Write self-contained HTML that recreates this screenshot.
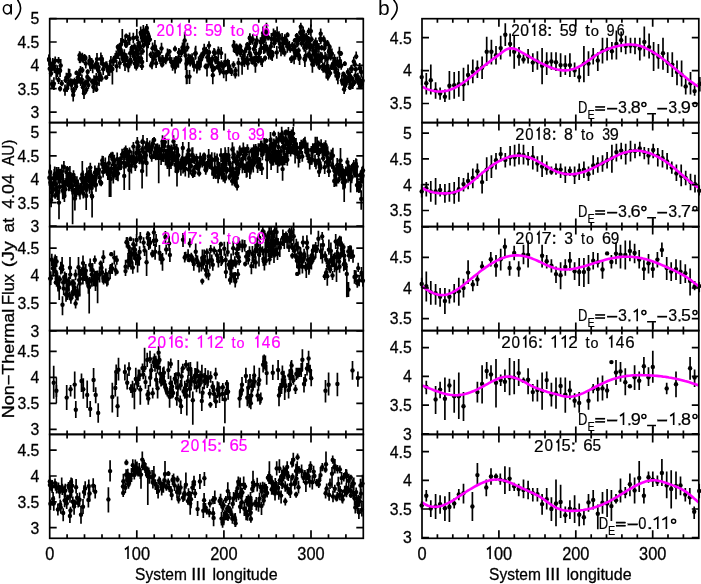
<!DOCTYPE html><html><head><meta charset="utf-8"><style>html,body{margin:0;padding:0;background:#fff;overflow:hidden}svg{display:block;will-change:transform}svg text{font-family:"Liberation Sans",sans-serif}</style></head><body><svg width="701" height="584" viewBox="0 0 701 584">
<rect width="701" height="584" fill="#fff"/>
<defs>
<clipPath id="ca0"><rect x="46.7" y="18.7" width="319.6" height="103.9"/></clipPath>
<clipPath id="cb0"><rect x="419.0" y="18.7" width="282.8" height="103.9"/></clipPath>
<clipPath id="ca1"><rect x="46.7" y="122.6" width="319.6" height="104.0"/></clipPath>
<clipPath id="cb1"><rect x="419.0" y="122.6" width="282.8" height="104.0"/></clipPath>
<clipPath id="ca2"><rect x="46.7" y="226.6" width="319.6" height="104.0"/></clipPath>
<clipPath id="cb2"><rect x="419.0" y="226.6" width="282.8" height="104.0"/></clipPath>
<clipPath id="ca3"><rect x="46.7" y="330.6" width="319.6" height="103.8"/></clipPath>
<clipPath id="cb3"><rect x="419.0" y="330.6" width="282.8" height="103.8"/></clipPath>
<clipPath id="ca4"><rect x="46.7" y="434.4" width="319.6" height="103.9"/></clipPath>
<clipPath id="cb4"><rect x="419.0" y="434.4" width="282.8" height="103.9"/></clipPath>
</defs>
<g clip-path="url(#ca0)"><path d="M49.1 54.2V65.8M49.7 65.5V72.1M50.4 60.7V66.7M51 70.4V76.8M51.6 62.1V74.8M52 79.7V88M52.8 58V68.7M53.2 65.5V70.7M53.9 77.2V90M48.9 55.1V62.4M53.1 84.1V87.5M54.4 61V73.1M56.2 68V79.8M57.4 65.3V76.9M55.2 56.6V63.8M59.1 68.1V74.6M60.1 64.4V77.1M60.7 59V71.9M58.6 57V63.8M58.6 76.8V84M60.1 86V91.6M65 84.5V95.8M61.8 80V86.2M65.7 77.5V83M66.4 72.7V82.5M67.1 84.9V92.1M68.3 79.2V88.6M68.6 68.5V81.3M69.6 69V78.5M70.8 78.4V83.4M71.3 79.1V90.5M72 78.8V87.1M73.3 87.1V95.4M73.7 87.2V92.5M74.5 77.7V84.1M75.6 79.7V86.7M76.1 82.6V90.2M76.6 78.8V85.4M77.8 74.3V80.4M78.8 76V83.4M76.5 70.5V74.9M73.2 89.7V101.4M79.1 69.4V79M79.6 54.9V62.9M80.1 52.3V63.3M80.5 66V74.6M80.7 77.2V86.1M81.2 53.7V61.5M81.9 74.6V84.6M82.3 52.7V62.6M82.4 66.9V73.3M82.9 81.8V92.6M83.5 55.5V62.9M83.9 54.7V61.2M84.1 81V87.8M84.6 54.1V60M85.1 79.6V87.4M85.5 55.1V60.9M85.8 58.8V68.4M86.3 86.2V93.5M79.6 51.2V58.3M84 88.5V99M86.9 79.4V85.6M87.3 71.3V82.6M87.7 69.2V74.4M88.4 81.2V89M88.9 76.4V81.5M89.3 55.1V64.8M89.9 58.6V68.1M90 56.6V69.2M90.5 58.5V71.1M91.1 63.2V68.9M91.7 58V64.8M92.1 78.4V84.7M92.7 60.3V73.3M93.4 80.7V92.9M93.7 81.9V92.1M94 75.3V87.1M94.8 76V85.4M95 62.5V69.4M95.9 60.8V68.8M96.3 72.9V82.4M96.8 77.4V89.7M97 52.9V65.2M97.9 64.9V73.1M98.3 67.6V73.5M98.6 62.3V71.9M99.1 73.2V85.9M99.7 69.9V80M100.5 72.1V81.2M100.9 52.6V65.2M101.5 75.2V81.8M101.9 54.9V63.1M96.3 87.3V92.1M103 59.2V68.7M103.2 63.6V74.9M105.2 62.3V68.3M106.1 61.3V68.6M106.7 61.2V71.6M108 65.3V76.1M109.6 62.9V75.9M106.2 75.4V79.8M110.7 60.4V72.8M110.9 56.1V66.7M112.4 65.4V84.4M113 57.2V65.3M113.7 55.7V65.9M115.3 52.9V62.8M116.3 50.5V59M116.7 60V72.3M117.8 44.2V49.5M118.1 50.5V59.1M118.7 46V52.1M119.4 43.2V53.8M119.8 57.4V68.8M120.1 48.1V53.2M121 38.1V50.9M121.2 47.8V56.7M122 48.6V60.7M122.3 28.9V44.1M122.7 52.5V63M123.5 56.8V62.8M123.7 53.9V58.9M124.3 49.3V59.5M125 58.1V70.9M125.2 37.4V45.9M126 42.1V47.9M126.6 53.3V62.3M126.8 40.3V47.4M127.7 62.5V67.9M128.2 59.2V70.5M128.4 60.7V72.2M128.9 35.1V43.2M129.6 32.5V45.1M130.2 48.8V57.7M130.4 54.5V65.5M130.9 57.8V65.7M131.8 44.8V51.5M132 45V50.6M132.5 47.2V56.7M126.2 33.5V38.1M133.3 32.7V43.2M133.6 46.7V59.2M133.9 51.7V60.8M134.5 43.2V49.8M134.8 58.3V68.4M135.3 56.3V62.8M136 46.8V58.2M136.3 59.1V69.8M136.8 28.9V41M137.1 44.7V56.1M137.9 49.9V58.3M136.3 64V70.5M138.2 52.8V62.5M138.5 39.3V46.8M138.9 56.1V66.8M139.4 41.3V50.2M139.6 41.8V51.5M140.1 41.3V54.3M140.7 26.4V39M141 52.7V64.1M141.2 29.6V39.7M141.8 31V36.1M142.2 58.3V65.4M142.6 34.6V46.3M142.7 47.9V54.7M143.3 25V36M143.5 42.7V48.3M144 31.6V39.3M141.9 63.4V70M144.7 36.6V42.7M145.2 32.2V44.6M145.7 26.5V34.2M146.7 35.4V47M146.9 41.5V62M147.4 28.3V36.6M148.1 38V48.2M148.7 33.7V38.9M149.2 32.9V45.1M149.9 37V42.1M146.8 24V31.2M150.7 51.4V57.9M152 57.1V69.3M152.6 42.6V53.8M153.6 51.8V62M154.9 52.2V60.7M155.2 45.5V51.8M156.1 58.6V68.1M156.9 49V57.3M158.6 50V59.4M159 50.4V56.1M154.9 40V51.6M151.2 63.8V67.4M160.1 56.2V64M162.1 55V65.5M162.8 55.1V62.8M163.5 56.7V65.4M165.8 54.7V64.3M166.4 55.4V62.4M167.5 48.6V60.1M169.5 49V54.2M170 54.6V63.1M171.7 57.2V67.6M161.5 42.7V53.2M162.1 62.8V67.4M172.6 60.6V70.8M173.1 60V67.6M174.2 57.3V68.6M175.6 61.5V66.5M175.9 55.9V62.8M177.4 56.2V67.3M178.4 54.9V67.7M178.9 47.9V57.1M180.2 56.1V63.6M180.4 49.5V55.5M175 45.8V51.6M175.1 62.7V73.6M181.5 48.8V57.2M182.5 42.4V52.5M183.6 40.9V53.7M184.9 46.9V54.6M185.6 50.8V70M184.7 32V47M186.5 57.9V84.3M187.4 57.4V62.6M187.9 57.4V64.4M188.5 53.4V64.5M190.1 56.9V65.5M190.2 54.3V66.5M191.4 55.5V61.3M192.1 53.2V64.6M193 58.1V67.8M187.4 42.7V51.6M194 59.5V71.4M195.2 47.6V59.8M195.7 45.8V59.3M196.9 63V73.6M197.1 60.8V71.5M198.6 56.4V69.2M199.2 58.1V70.5M199.8 61.9V70.2M201.1 54.6V64.7M201.1 52.6V59.8M202 52.2V59.3M203.4 47.9V58.5M204.2 43.7V54.4M204.3 48.9V56.3M205.6 63.6V69.3M206.2 46.7V54.5M207 63.6V76.6M207.4 52.1V62.5M208.4 53.8V66.3M209.1 49.4V54.9M209.3 53.8V64.3M210.5 58.4V68.6M211 57.9V66.1M211.8 59.7V71.6M209 41.2V49.2M212.3 55.3V61.9M212.9 66.4V73.6M214 47.9V56.3M214.5 65.8V70.9M214.7 48.8V58.3M215.4 56.9V64.2M216.1 55.9V64.3M217 56.7V62.2M217.5 64.5V69.5M218.3 46.5V58.4M218.8 60.7V66.4M219.7 63V75.3M220.5 68.8V73.8M221.2 47.1V59M218.7 47.4V53.7M212.8 67.9V84.3M221.4 60.2V67.3M222.9 62.3V70.4M223.7 66.6V78.3M225 61.8V67.2M225.3 53.5V67.1M226.2 70V81.3M227.8 58.8V69M228.8 68V73.6M229.1 60V72.3M230.7 67.4V74M231.6 67.7V76.1M233.5 61.3V68.3M235.6 67V74M235.3 71.4V78.5M236.5 43.6V55.3M237.1 49V56.2M237.4 44.6V56.1M238.5 57.8V76.6M238.9 45.8V52.9M240 43.4V52.7M240.4 49.4V57.1M241.3 47.8V54.1M240.2 43.9V48.5M242.1 58.1V74.7M242.7 54V61.9M243.7 53.1V58.4M244.4 58.1V67M244.8 48.4V54.9M246.1 56.2V63.6M246.5 44V52.5M247.7 54.1V66.6M247.8 57.4V69.7M249.2 42.3V54.2M247.3 42V47M249.8 49.3V56.9M249.9 33.2V43.8M250.6 37.7V45.1M251.2 54.9V63.7M251.6 53.6V64M252.4 56.4V64.7M252.8 34.2V44.8M253.5 59.3V64.3M253.9 44.9V53.2M254.3 55.8V61.1M255.2 41.7V50.1M255.8 38.7V47.8M256 48.7V58M256.8 35.5V45.5M249.8 34.3V40.4M255.4 58.4V72.8M257.3 55.8V62M257.9 57.8V63.3M258.4 57.4V63.5M258.8 54.9V62M259.2 47.9V59.3M260.1 49.1V54.6M260.5 37.2V46.7M261 55.9V65.3M261.2 43.3V52.8M262 34.7V44.1M262.2 58.2V67M262.9 35.4V42.6M263.4 37.6V44.7M263.8 41.4V54.1M264.3 36.3V41.6M263 26.6V38.3M264.9 43.9V53.2M265.6 29.5V41.8M266 42.1V51.8M266.5 22.7V33.9M267 27.7V37.5M267.4 44.8V53M268.1 34.5V40.5M268.6 49.3V56M268.8 48.3V59.4M269.7 47.6V55.9M270.3 46.7V57.7M270.8 50.2V59.7M270.9 41.8V50.8M271.4 33.1V44.7M272.2 50V61M265.1 55.4V61.2M272.6 50.2V57.4M273.5 28.5V40.4M274.2 38.4V47.9M274.4 36.9V43.1M275.2 30.2V40.3M275.9 35.9V43.7M276.8 46V58.8M277.1 26.6V37.2M278 36.7V42.8M278.7 32.3V41.8M279 31.2V39.2M279.9 37.9V49.7M280.3 43.2V51.5M281 44.4V56.2M282.1 33V44M282.8 43.5V54.4M283.6 37V48.7M284.6 48.9V56.4M284.8 34.3V44.8M286.2 36V44.6M286.7 38.7V48.1M287.3 39.9V52.8M287.5 32.3V37.2M287.9 42.1V48.9M289.3 41.1V50.6M290.3 45.8V52.7M291.1 56.2V63.1M291.9 55.2V62.5M292.4 42V48.7M293.6 45.9V53.4M294.1 51.2V64.2M294.9 43V50.2M294.8 38.1V42.4M295.6 47.9V59.6M296.3 37.7V43M296.3 49V57M296.8 32.9V38.7M297.5 36.1V45.2M297.6 40.2V47.2M298.3 49.5V60.3M298.6 47.6V53.3M298.9 49.7V61.1M299.3 36.1V42.2M299.6 54.4V65M300.3 28.1V36.8M300.6 29V36.3M300.8 22.7V30.7M301.5 29.6V38M301.7 40.1V46.8M302 31V43.8M302.6 37.7V45.1M303.1 26.5V36.4M303.4 37.7V42.8M303.8 32.6V38.5M304.2 43.6V51.7M304.6 54.9V62.8M304.9 55.8V67M305.3 41.4V49.3M305.7 49.8V61.7M306.1 32.7V43.9M306.6 33.7V42.3M306.8 43.3V50M307.1 34.8V40.5M307.6 36.1V43.6M308.2 51.4V58.5M308.6 42.6V47.7M308.8 27.8V35M309.3 40.5V53.3M309.5 36.6V43.5M309.8 50.3V60.1M310.5 39.1V51.1M310.9 24.6V36.2M311 54.1V60.1M311.5 54.7V65.1M312.4 59.2V72.8M312.9 43.5V52.1M313.2 46.4V55.1M313.7 51.3V56.6M314.1 54.9V66.8M314.6 39.6V46.5M315.5 45.6V58.4M315.8 37.6V48.7M316.1 52.3V65.3M316.9 57.8V66.2M317.1 40.2V52M318 52.2V58.8M318.3 59.2V65M311.5 36.2V41.7M318.9 43V52.4M319 54.1V67.1M319.4 63.8V70M319.7 57V64.2M320.3 35.6V41.6M320.5 51.7V58.6M320.8 36.3V44.3M321.2 53.4V58.6M321.7 45.1V50.5M321.9 52.2V62.9M322.3 54.3V59.9M322.8 62.8V69.3M323.2 65.7V72.8M323.7 35.4V42.6M324 64.3V71.6M324.3 45.1V51.6M324.6 62.1V71.7M325.1 51.9V62.3M325.4 39.5V48.4M325.7 40.8V48.3M326.3 65.1V78.5M320.7 28.5V37.9M326.7 64.9V76.2M327 53.4V64.3M327.6 59.7V72.3M327.9 64.8V74.7M328.4 64.9V73.5M328.9 45.4V58.2M329.3 44.7V55.2M329.6 43.9V49.9M330.1 69.7V76.6M330.6 54.3V60.6M331.1 50.6V55.9M331.7 64.7V70.1M331.9 48.6V58.9M332.3 62.8V68.1M333.1 59.7V67.9M333.5 63V70.5M333.6 59.4V67.8M327.5 40V45.9M327.9 73.8V80.5M334.4 54.3V63.2M334.9 58.4V64.4M335.4 66.2V77.6M335.8 62.9V74.9M336.7 70.8V80.5M337.2 56.8V66.5M337.9 73.3V84.3M338.3 68.7V79.2M338.9 62.9V68.4M339.4 46.7V58.4M340 57.1V64.7M340.9 50.9V56M341.2 61.9V69.7M341.9 75.1V85.8M342.4 79.8V85.6M343.4 71.4V76.6M343.9 75.5V86M345.1 79.5V91.6M345.4 73.8V84.1M346.1 75V87.2M347 77.9V85.2M347.9 68.3V75.7M348.4 73.6V82.3M349.3 76.4V85.6M344.8 61.2V65.9M344.1 85.6V94M349.8 72.8V80.4M350.3 72V80.6M350.7 80V89.3M351 65.2V72.6M351.9 64.8V73M352.4 76.2V81.8M352.8 79.3V89M353.1 81.4V86.9M353.8 56.8V66.2M354.2 79.8V85.3M354.8 61.3V67.2M355.5 71.5V79.3M355.8 66.4V71.9M356.2 51.6V59.3M357 75.8V83.2M349.9 85.6V90.1M357.9 72.7V81.2M358.7 78.1V87.7M359.7 63.1V72.8M360.4 77.2V86M361.2 66.6V77.4M362 79.5V88.7M362.6 76.4V85M360.2 83.9V88.2M187 70V84M189.5 70V84M233.6 40V52M234.5 41V53" stroke="#000" stroke-width="1.7" fill="none"/>
<g fill="#000"><circle cx="49.1" cy="60" r="2.2"/><circle cx="49.7" cy="68.8" r="2.2"/><circle cx="50.4" cy="63.7" r="2.2"/><circle cx="51" cy="73.6" r="2.2"/><circle cx="51.6" cy="68.5" r="2.2"/><circle cx="52" cy="83.9" r="2.2"/><circle cx="52.8" cy="63.4" r="2.2"/><circle cx="53.2" cy="68.1" r="2.2"/><circle cx="53.9" cy="83.6" r="2.2"/><circle cx="48.9" cy="59.1" r="2.2"/><circle cx="53.1" cy="85.6" r="2.2"/><circle cx="54.4" cy="67" r="2.2"/><circle cx="56.2" cy="71.5" r="2.2"/><circle cx="57.4" cy="71.1" r="2.2"/><circle cx="55.2" cy="60.6" r="2.2"/><circle cx="59.1" cy="71.3" r="2.2"/><circle cx="60.1" cy="70.8" r="2.2"/><circle cx="60.7" cy="65.5" r="2.2"/><circle cx="58.6" cy="60.8" r="2.2"/><circle cx="58.6" cy="80" r="2.2"/><circle cx="60.1" cy="88.8" r="2.2"/><circle cx="65" cy="90.1" r="2.2"/><circle cx="61.8" cy="83.5" r="2.2"/><circle cx="65.7" cy="80.2" r="2.2"/><circle cx="66.4" cy="77.6" r="2.2"/><circle cx="67.1" cy="88.2" r="2.2"/><circle cx="68.3" cy="83.9" r="2.2"/><circle cx="68.6" cy="74.9" r="2.2"/><circle cx="69.6" cy="74.9" r="2.2"/><circle cx="70.8" cy="80.9" r="2.2"/><circle cx="71.3" cy="84.8" r="2.2"/><circle cx="72" cy="82.9" r="2.2"/><circle cx="73.3" cy="91.3" r="2.2"/><circle cx="73.7" cy="89.9" r="2.2"/><circle cx="74.5" cy="80.9" r="2.2"/><circle cx="75.6" cy="83.2" r="2.2"/><circle cx="76.1" cy="86.4" r="2.2"/><circle cx="76.6" cy="82.1" r="2.2"/><circle cx="77.8" cy="77.3" r="2.2"/><circle cx="78.8" cy="79.7" r="2.2"/><circle cx="76.5" cy="72.9" r="2.2"/><circle cx="73.2" cy="94.9" r="2.2"/><circle cx="79.1" cy="74.2" r="2.2"/><circle cx="79.6" cy="58.9" r="2.2"/><circle cx="80.1" cy="57.8" r="2.2"/><circle cx="80.5" cy="70.3" r="2.2"/><circle cx="80.7" cy="81.7" r="2.2"/><circle cx="81.2" cy="57.6" r="2.2"/><circle cx="81.9" cy="79.6" r="2.2"/><circle cx="82.3" cy="57.6" r="2.2"/><circle cx="82.4" cy="70.1" r="2.2"/><circle cx="82.9" cy="87.2" r="2.2"/><circle cx="83.5" cy="59.2" r="2.2"/><circle cx="83.9" cy="58" r="2.2"/><circle cx="84.1" cy="84.4" r="2.2"/><circle cx="84.6" cy="57.1" r="2.2"/><circle cx="85.1" cy="83.5" r="2.2"/><circle cx="85.5" cy="58" r="2.2"/><circle cx="85.8" cy="63.6" r="2.2"/><circle cx="86.3" cy="89.8" r="2.2"/><circle cx="79.6" cy="55.2" r="2.2"/><circle cx="84" cy="93.2" r="2.2"/><circle cx="86.9" cy="82.5" r="2.2"/><circle cx="87.3" cy="76.9" r="2.2"/><circle cx="87.7" cy="71.8" r="2.2"/><circle cx="88.4" cy="85.1" r="2.2"/><circle cx="88.9" cy="79" r="2.2"/><circle cx="89.3" cy="61" r="2.2"/><circle cx="89.9" cy="63.4" r="2.2"/><circle cx="90" cy="62.9" r="2.2"/><circle cx="90.5" cy="64.8" r="2.2"/><circle cx="91.1" cy="66" r="2.2"/><circle cx="91.7" cy="61.4" r="2.2"/><circle cx="92.1" cy="81.5" r="2.2"/><circle cx="92.7" cy="66.8" r="2.2"/><circle cx="93.4" cy="86.8" r="2.2"/><circle cx="93.7" cy="87" r="2.2"/><circle cx="94" cy="81.2" r="2.2"/><circle cx="94.8" cy="80.7" r="2.2"/><circle cx="95" cy="66" r="2.2"/><circle cx="95.9" cy="64.8" r="2.2"/><circle cx="96.3" cy="77.6" r="2.2"/><circle cx="96.8" cy="83.5" r="2.2"/><circle cx="97" cy="59.1" r="2.2"/><circle cx="97.9" cy="69" r="2.2"/><circle cx="98.3" cy="70.6" r="2.2"/><circle cx="98.6" cy="67.1" r="2.2"/><circle cx="99.1" cy="79.5" r="2.2"/><circle cx="99.7" cy="74.9" r="2.2"/><circle cx="100.5" cy="76.6" r="2.2"/><circle cx="100.9" cy="58.9" r="2.2"/><circle cx="101.5" cy="78.5" r="2.2"/><circle cx="101.9" cy="59" r="2.2"/><circle cx="96.3" cy="89.4" r="2.2"/><circle cx="103" cy="64" r="2.2"/><circle cx="103.2" cy="69.3" r="2.2"/><circle cx="105.2" cy="65.3" r="2.2"/><circle cx="106.1" cy="64.9" r="2.2"/><circle cx="106.7" cy="66.4" r="2.2"/><circle cx="108" cy="70.7" r="2.2"/><circle cx="109.6" cy="69.4" r="2.2"/><circle cx="106.2" cy="77.4" r="2.2"/><circle cx="110.7" cy="66.6" r="2.2"/><circle cx="110.9" cy="61.4" r="2.2"/><circle cx="112.4" cy="69" r="2.2"/><circle cx="113" cy="61.2" r="2.2"/><circle cx="113.7" cy="60.8" r="2.2"/><circle cx="115.3" cy="57.9" r="2.2"/><circle cx="116.3" cy="56.5" r="2.2"/><circle cx="116.7" cy="66.2" r="2.2"/><circle cx="117.8" cy="46.9" r="2.2"/><circle cx="118.1" cy="54.8" r="2.2"/><circle cx="118.7" cy="49" r="2.2"/><circle cx="119.4" cy="48.5" r="2.2"/><circle cx="119.8" cy="63.1" r="2.2"/><circle cx="120.1" cy="50.6" r="2.2"/><circle cx="121" cy="44.5" r="2.2"/><circle cx="121.2" cy="52.2" r="2.2"/><circle cx="122" cy="54.6" r="2.2"/><circle cx="122.3" cy="40.8" r="2.2"/><circle cx="122.7" cy="57.8" r="2.2"/><circle cx="123.5" cy="59.8" r="2.2"/><circle cx="123.7" cy="56.4" r="2.2"/><circle cx="124.3" cy="54.4" r="2.2"/><circle cx="125" cy="64.5" r="2.2"/><circle cx="125.2" cy="41.6" r="2.2"/><circle cx="126" cy="45" r="2.2"/><circle cx="126.6" cy="57.8" r="2.2"/><circle cx="126.8" cy="43.9" r="2.2"/><circle cx="127.7" cy="65.2" r="2.2"/><circle cx="128.2" cy="64.8" r="2.2"/><circle cx="128.4" cy="66.4" r="2.2"/><circle cx="128.9" cy="39.1" r="2.2"/><circle cx="129.6" cy="38.8" r="2.2"/><circle cx="130.2" cy="53.2" r="2.2"/><circle cx="130.4" cy="60" r="2.2"/><circle cx="130.9" cy="61.7" r="2.2"/><circle cx="131.8" cy="48.1" r="2.2"/><circle cx="132" cy="47.8" r="2.2"/><circle cx="132.5" cy="51.9" r="2.2"/><circle cx="126.2" cy="36.1" r="2.2"/><circle cx="133.3" cy="37.9" r="2.2"/><circle cx="133.6" cy="52.9" r="2.2"/><circle cx="133.9" cy="56.3" r="2.2"/><circle cx="134.5" cy="46.5" r="2.2"/><circle cx="134.8" cy="63.4" r="2.2"/><circle cx="135.3" cy="59.5" r="2.2"/><circle cx="136" cy="52.5" r="2.2"/><circle cx="136.3" cy="64.4" r="2.2"/><circle cx="136.8" cy="37.4" r="2.2"/><circle cx="137.1" cy="50.4" r="2.2"/><circle cx="137.9" cy="54.1" r="2.2"/><circle cx="136.3" cy="66.9" r="2.2"/><circle cx="138.2" cy="57.7" r="2.2"/><circle cx="138.5" cy="43.1" r="2.2"/><circle cx="138.9" cy="61.4" r="2.2"/><circle cx="139.4" cy="45.8" r="2.2"/><circle cx="139.6" cy="46.6" r="2.2"/><circle cx="140.1" cy="47.8" r="2.2"/><circle cx="140.7" cy="32.7" r="2.2"/><circle cx="141" cy="58.4" r="2.2"/><circle cx="141.2" cy="34.6" r="2.2"/><circle cx="141.8" cy="33.6" r="2.2"/><circle cx="142.2" cy="61.9" r="2.2"/><circle cx="142.6" cy="40.5" r="2.2"/><circle cx="142.7" cy="51.3" r="2.2"/><circle cx="143.3" cy="30.9" r="2.2"/><circle cx="143.5" cy="45.5" r="2.2"/><circle cx="144" cy="35.5" r="2.2"/><circle cx="141.9" cy="66.3" r="2.2"/><circle cx="144.7" cy="39.7" r="2.2"/><circle cx="145.2" cy="38.4" r="2.2"/><circle cx="145.7" cy="30.3" r="2.2"/><circle cx="146.7" cy="41.2" r="2.2"/><circle cx="146.9" cy="44.3" r="2.2"/><circle cx="147.4" cy="32.4" r="2.2"/><circle cx="148.1" cy="43.1" r="2.2"/><circle cx="148.7" cy="36.3" r="2.2"/><circle cx="149.2" cy="39" r="2.2"/><circle cx="149.9" cy="39.6" r="2.2"/><circle cx="146.8" cy="28" r="2.2"/><circle cx="150.7" cy="54.7" r="2.2"/><circle cx="152" cy="63.2" r="2.2"/><circle cx="152.6" cy="48.2" r="2.2"/><circle cx="153.6" cy="56.9" r="2.2"/><circle cx="154.9" cy="56.4" r="2.2"/><circle cx="155.2" cy="48.7" r="2.2"/><circle cx="156.1" cy="63.3" r="2.2"/><circle cx="156.9" cy="53.2" r="2.2"/><circle cx="158.6" cy="54.7" r="2.2"/><circle cx="159" cy="53.3" r="2.2"/><circle cx="154.9" cy="46.4" r="2.2"/><circle cx="151.2" cy="65.4" r="2.2"/><circle cx="160.1" cy="60.1" r="2.2"/><circle cx="162.1" cy="60.3" r="2.2"/><circle cx="162.8" cy="59" r="2.2"/><circle cx="163.5" cy="61" r="2.2"/><circle cx="165.8" cy="59.5" r="2.2"/><circle cx="166.4" cy="58.9" r="2.2"/><circle cx="167.5" cy="54.4" r="2.2"/><circle cx="169.5" cy="51.6" r="2.2"/><circle cx="170" cy="58.9" r="2.2"/><circle cx="171.7" cy="62.4" r="2.2"/><circle cx="161.5" cy="48.5" r="2.2"/><circle cx="162.1" cy="64.8" r="2.2"/><circle cx="172.6" cy="65.7" r="2.2"/><circle cx="173.1" cy="63.8" r="2.2"/><circle cx="174.2" cy="62.9" r="2.2"/><circle cx="175.6" cy="64" r="2.2"/><circle cx="175.9" cy="59.4" r="2.2"/><circle cx="177.4" cy="61.7" r="2.2"/><circle cx="178.4" cy="61.3" r="2.2"/><circle cx="178.9" cy="52.5" r="2.2"/><circle cx="180.2" cy="59.9" r="2.2"/><circle cx="180.4" cy="52.5" r="2.2"/><circle cx="175" cy="49" r="2.2"/><circle cx="175.1" cy="67.5" r="2.2"/><circle cx="181.5" cy="53" r="2.2"/><circle cx="182.5" cy="47.4" r="2.2"/><circle cx="183.6" cy="47.3" r="2.2"/><circle cx="184.9" cy="50.7" r="2.2"/><circle cx="185.6" cy="55.5" r="2.2"/><circle cx="184.7" cy="40.4" r="2.2"/><circle cx="186.5" cy="63.8" r="2.2"/><circle cx="187.4" cy="60" r="2.2"/><circle cx="187.9" cy="60.9" r="2.2"/><circle cx="188.5" cy="58.9" r="2.2"/><circle cx="190.1" cy="61.2" r="2.2"/><circle cx="190.2" cy="60.4" r="2.2"/><circle cx="191.4" cy="58.4" r="2.2"/><circle cx="192.1" cy="58.9" r="2.2"/><circle cx="193" cy="63" r="2.2"/><circle cx="187.4" cy="47.6" r="2.2"/><circle cx="194" cy="65.5" r="2.2"/><circle cx="195.2" cy="53.7" r="2.2"/><circle cx="195.7" cy="53.2" r="2.2"/><circle cx="196.9" cy="66.9" r="2.2"/><circle cx="197.1" cy="66.1" r="2.2"/><circle cx="198.6" cy="62.8" r="2.2"/><circle cx="199.2" cy="64.3" r="2.2"/><circle cx="199.8" cy="66" r="2.2"/><circle cx="201.1" cy="59.6" r="2.2"/><circle cx="201.1" cy="56.2" r="2.2"/><circle cx="202" cy="55.7" r="2.2"/><circle cx="203.4" cy="53.2" r="2.2"/><circle cx="204.2" cy="49.1" r="2.2"/><circle cx="204.3" cy="52.6" r="2.2"/><circle cx="205.6" cy="66.4" r="2.2"/><circle cx="206.2" cy="50.6" r="2.2"/><circle cx="207" cy="66.5" r="2.2"/><circle cx="207.4" cy="57.3" r="2.2"/><circle cx="208.4" cy="60.1" r="2.2"/><circle cx="209.1" cy="52.2" r="2.2"/><circle cx="209.3" cy="59.1" r="2.2"/><circle cx="210.5" cy="63.5" r="2.2"/><circle cx="211" cy="62" r="2.2"/><circle cx="211.8" cy="65.6" r="2.2"/><circle cx="209" cy="45.6" r="2.2"/><circle cx="212.3" cy="58.6" r="2.2"/><circle cx="212.9" cy="70" r="2.2"/><circle cx="214" cy="52.1" r="2.2"/><circle cx="214.5" cy="68.3" r="2.2"/><circle cx="214.7" cy="53.5" r="2.2"/><circle cx="215.4" cy="60.6" r="2.2"/><circle cx="216.1" cy="60.1" r="2.2"/><circle cx="217" cy="59.5" r="2.2"/><circle cx="217.5" cy="67" r="2.2"/><circle cx="218.3" cy="52.4" r="2.2"/><circle cx="218.8" cy="63.5" r="2.2"/><circle cx="219.7" cy="69.1" r="2.2"/><circle cx="220.5" cy="71.3" r="2.2"/><circle cx="221.2" cy="53.1" r="2.2"/><circle cx="218.7" cy="50.9" r="2.2"/><circle cx="212.8" cy="75.2" r="2.2"/><circle cx="221.4" cy="63.7" r="2.2"/><circle cx="222.9" cy="66.4" r="2.2"/><circle cx="223.7" cy="72.4" r="2.2"/><circle cx="225" cy="64.5" r="2.2"/><circle cx="225.3" cy="61.6" r="2.2"/><circle cx="226.2" cy="72.5" r="2.2"/><circle cx="227.8" cy="63.9" r="2.2"/><circle cx="228.8" cy="70.8" r="2.2"/><circle cx="229.1" cy="66.2" r="2.2"/><circle cx="230.7" cy="70.7" r="2.2"/><circle cx="231.6" cy="71.9" r="2.2"/><circle cx="233.5" cy="64.8" r="2.2"/><circle cx="235.6" cy="70.5" r="2.2"/><circle cx="235.3" cy="74.5" r="2.2"/><circle cx="236.5" cy="49.5" r="2.2"/><circle cx="237.1" cy="52.6" r="2.2"/><circle cx="237.4" cy="50.3" r="2.2"/><circle cx="238.5" cy="62.9" r="2.2"/><circle cx="238.9" cy="49.4" r="2.2"/><circle cx="240" cy="48.1" r="2.2"/><circle cx="240.4" cy="53.3" r="2.2"/><circle cx="241.3" cy="51" r="2.2"/><circle cx="240.2" cy="46.5" r="2.2"/><circle cx="242.1" cy="63.7" r="2.2"/><circle cx="242.7" cy="58" r="2.2"/><circle cx="243.7" cy="55.7" r="2.2"/><circle cx="244.4" cy="62.5" r="2.2"/><circle cx="244.8" cy="51.6" r="2.2"/><circle cx="246.1" cy="59.9" r="2.2"/><circle cx="246.5" cy="48.2" r="2.2"/><circle cx="247.7" cy="60.3" r="2.2"/><circle cx="247.8" cy="63.6" r="2.2"/><circle cx="249.2" cy="48.3" r="2.2"/><circle cx="247.3" cy="44.8" r="2.2"/><circle cx="249.8" cy="53.1" r="2.2"/><circle cx="249.9" cy="38.5" r="2.2"/><circle cx="250.6" cy="41.4" r="2.2"/><circle cx="251.2" cy="59.3" r="2.2"/><circle cx="251.6" cy="58.8" r="2.2"/><circle cx="252.4" cy="60.6" r="2.2"/><circle cx="252.8" cy="39.5" r="2.2"/><circle cx="253.5" cy="61.8" r="2.2"/><circle cx="253.9" cy="49" r="2.2"/><circle cx="254.3" cy="58.5" r="2.2"/><circle cx="255.2" cy="45.9" r="2.2"/><circle cx="255.8" cy="43.2" r="2.2"/><circle cx="256" cy="53.4" r="2.2"/><circle cx="256.8" cy="40.5" r="2.2"/><circle cx="249.8" cy="37.7" r="2.2"/><circle cx="255.4" cy="64.8" r="2.2"/><circle cx="257.3" cy="58.9" r="2.2"/><circle cx="257.9" cy="60.6" r="2.2"/><circle cx="258.4" cy="60.5" r="2.2"/><circle cx="258.8" cy="58.5" r="2.2"/><circle cx="259.2" cy="53.6" r="2.2"/><circle cx="260.1" cy="51.9" r="2.2"/><circle cx="260.5" cy="42" r="2.2"/><circle cx="261" cy="60.6" r="2.2"/><circle cx="261.2" cy="48.1" r="2.2"/><circle cx="262" cy="39.4" r="2.2"/><circle cx="262.2" cy="60.8" r="2.2"/><circle cx="262.9" cy="39" r="2.2"/><circle cx="263.4" cy="41.1" r="2.2"/><circle cx="263.8" cy="47.7" r="2.2"/><circle cx="264.3" cy="38.9" r="2.2"/><circle cx="263" cy="33.1" r="2.2"/><circle cx="264.9" cy="48.5" r="2.2"/><circle cx="265.6" cy="35.6" r="2.2"/><circle cx="266" cy="46.9" r="2.2"/><circle cx="266.5" cy="30.7" r="2.2"/><circle cx="267" cy="32.6" r="2.2"/><circle cx="267.4" cy="48.9" r="2.2"/><circle cx="268.1" cy="37.5" r="2.2"/><circle cx="268.6" cy="52.7" r="2.2"/><circle cx="268.8" cy="53.9" r="2.2"/><circle cx="269.7" cy="51.7" r="2.2"/><circle cx="270.3" cy="52.2" r="2.2"/><circle cx="270.8" cy="54.9" r="2.2"/><circle cx="270.9" cy="46.3" r="2.2"/><circle cx="271.4" cy="38.9" r="2.2"/><circle cx="272.2" cy="55.5" r="2.2"/><circle cx="265.1" cy="58" r="2.2"/><circle cx="272.6" cy="52.9" r="2.2"/><circle cx="273.5" cy="34.4" r="2.2"/><circle cx="274.2" cy="43.2" r="2.2"/><circle cx="274.4" cy="40" r="2.2"/><circle cx="275.2" cy="35.2" r="2.2"/><circle cx="275.9" cy="39.8" r="2.2"/><circle cx="276.8" cy="52.4" r="2.2"/><circle cx="277.1" cy="34" r="2.2"/><circle cx="278" cy="39.7" r="2.2"/><circle cx="278.7" cy="37" r="2.2"/><circle cx="279" cy="35.2" r="2.2"/><circle cx="279.9" cy="43.8" r="2.2"/><circle cx="280.3" cy="47.3" r="2.2"/><circle cx="281" cy="50.3" r="2.2"/><circle cx="282.1" cy="38.5" r="2.2"/><circle cx="282.8" cy="48.9" r="2.2"/><circle cx="283.6" cy="42.9" r="2.2"/><circle cx="284.6" cy="52.7" r="2.2"/><circle cx="284.8" cy="39.5" r="2.2"/><circle cx="286.2" cy="40.3" r="2.2"/><circle cx="286.7" cy="43.4" r="2.2"/><circle cx="287.3" cy="46.4" r="2.2"/><circle cx="287.5" cy="35" r="2.2"/><circle cx="287.9" cy="45.5" r="2.2"/><circle cx="289.3" cy="45.9" r="2.2"/><circle cx="290.3" cy="49.3" r="2.2"/><circle cx="291.1" cy="58.9" r="2.2"/><circle cx="291.9" cy="58.9" r="2.2"/><circle cx="292.4" cy="45.3" r="2.2"/><circle cx="293.6" cy="49.6" r="2.2"/><circle cx="294.1" cy="57.7" r="2.2"/><circle cx="294.9" cy="46.6" r="2.2"/><circle cx="294.8" cy="40.5" r="2.2"/><circle cx="295.6" cy="53.7" r="2.2"/><circle cx="296.3" cy="40.3" r="2.2"/><circle cx="296.3" cy="53" r="2.2"/><circle cx="296.8" cy="35.8" r="2.2"/><circle cx="297.5" cy="40.7" r="2.2"/><circle cx="297.6" cy="43.7" r="2.2"/><circle cx="298.3" cy="54.9" r="2.2"/><circle cx="298.6" cy="50.5" r="2.2"/><circle cx="298.9" cy="55.4" r="2.2"/><circle cx="299.3" cy="39.2" r="2.2"/><circle cx="299.6" cy="57.7" r="2.2"/><circle cx="300.3" cy="32.4" r="2.2"/><circle cx="300.6" cy="32.6" r="2.2"/><circle cx="300.8" cy="26.7" r="2.2"/><circle cx="301.5" cy="33.8" r="2.2"/><circle cx="301.7" cy="43.4" r="2.2"/><circle cx="302" cy="37.4" r="2.2"/><circle cx="302.6" cy="41.4" r="2.2"/><circle cx="303.1" cy="31.4" r="2.2"/><circle cx="303.4" cy="40.2" r="2.2"/><circle cx="303.8" cy="35.6" r="2.2"/><circle cx="304.2" cy="47.7" r="2.2"/><circle cx="304.6" cy="58.8" r="2.2"/><circle cx="304.9" cy="59.3" r="2.2"/><circle cx="305.3" cy="45.3" r="2.2"/><circle cx="305.7" cy="55.7" r="2.2"/><circle cx="306.1" cy="38.3" r="2.2"/><circle cx="306.6" cy="38" r="2.2"/><circle cx="306.8" cy="46.6" r="2.2"/><circle cx="307.1" cy="37.7" r="2.2"/><circle cx="307.6" cy="39.9" r="2.2"/><circle cx="308.2" cy="54.9" r="2.2"/><circle cx="308.6" cy="45.2" r="2.2"/><circle cx="308.8" cy="31.4" r="2.2"/><circle cx="309.3" cy="46.9" r="2.2"/><circle cx="309.5" cy="40" r="2.2"/><circle cx="309.8" cy="55.2" r="2.2"/><circle cx="310.5" cy="45.1" r="2.2"/><circle cx="310.9" cy="31.1" r="2.2"/><circle cx="311" cy="57.1" r="2.2"/><circle cx="311.5" cy="59.9" r="2.2"/><circle cx="312.4" cy="64.5" r="2.2"/><circle cx="312.9" cy="47.8" r="2.2"/><circle cx="313.2" cy="50.7" r="2.2"/><circle cx="313.7" cy="54" r="2.2"/><circle cx="314.1" cy="60.8" r="2.2"/><circle cx="314.6" cy="43" r="2.2"/><circle cx="315.5" cy="52" r="2.2"/><circle cx="315.8" cy="43.1" r="2.2"/><circle cx="316.1" cy="58.8" r="2.2"/><circle cx="316.9" cy="62" r="2.2"/><circle cx="317.1" cy="46.1" r="2.2"/><circle cx="318" cy="55.5" r="2.2"/><circle cx="318.3" cy="62.1" r="2.2"/><circle cx="311.5" cy="39.2" r="2.2"/><circle cx="318.9" cy="47.7" r="2.2"/><circle cx="319" cy="60.6" r="2.2"/><circle cx="319.4" cy="66.9" r="2.2"/><circle cx="319.7" cy="60.6" r="2.2"/><circle cx="320.3" cy="38.6" r="2.2"/><circle cx="320.5" cy="55.2" r="2.2"/><circle cx="320.8" cy="40.3" r="2.2"/><circle cx="321.2" cy="56" r="2.2"/><circle cx="321.7" cy="47.8" r="2.2"/><circle cx="321.9" cy="57.5" r="2.2"/><circle cx="322.3" cy="57.1" r="2.2"/><circle cx="322.8" cy="66.1" r="2.2"/><circle cx="323.2" cy="69.3" r="2.2"/><circle cx="323.7" cy="39" r="2.2"/><circle cx="324" cy="68" r="2.2"/><circle cx="324.3" cy="48.3" r="2.2"/><circle cx="324.6" cy="66.9" r="2.2"/><circle cx="325.1" cy="57.1" r="2.2"/><circle cx="325.4" cy="44" r="2.2"/><circle cx="325.7" cy="44.6" r="2.2"/><circle cx="326.3" cy="71.4" r="2.2"/><circle cx="320.7" cy="33.7" r="2.2"/><circle cx="326.7" cy="70.5" r="2.2"/><circle cx="327" cy="58.8" r="2.2"/><circle cx="327.6" cy="66" r="2.2"/><circle cx="327.9" cy="69.7" r="2.2"/><circle cx="328.4" cy="69.2" r="2.2"/><circle cx="328.9" cy="51.8" r="2.2"/><circle cx="329.3" cy="49.9" r="2.2"/><circle cx="329.6" cy="46.9" r="2.2"/><circle cx="330.1" cy="73.1" r="2.2"/><circle cx="330.6" cy="57.4" r="2.2"/><circle cx="331.1" cy="53.3" r="2.2"/><circle cx="331.7" cy="67.4" r="2.2"/><circle cx="331.9" cy="53.7" r="2.2"/><circle cx="332.3" cy="65.4" r="2.2"/><circle cx="333.1" cy="63.8" r="2.2"/><circle cx="333.5" cy="66.7" r="2.2"/><circle cx="333.6" cy="63.6" r="2.2"/><circle cx="327.5" cy="43.3" r="2.2"/><circle cx="327.9" cy="76.8" r="2.2"/><circle cx="334.4" cy="58.7" r="2.2"/><circle cx="334.9" cy="61.4" r="2.2"/><circle cx="335.4" cy="71.9" r="2.2"/><circle cx="335.8" cy="68.9" r="2.2"/><circle cx="336.7" cy="75.6" r="2.2"/><circle cx="337.2" cy="61.6" r="2.2"/><circle cx="337.9" cy="76.4" r="2.2"/><circle cx="338.3" cy="73.9" r="2.2"/><circle cx="338.9" cy="65.7" r="2.2"/><circle cx="339.4" cy="52.6" r="2.2"/><circle cx="340" cy="60.9" r="2.2"/><circle cx="340.9" cy="53.4" r="2.2"/><circle cx="341.2" cy="65.8" r="2.2"/><circle cx="341.9" cy="80.4" r="2.2"/><circle cx="342.4" cy="82.7" r="2.2"/><circle cx="343.4" cy="74" r="2.2"/><circle cx="343.9" cy="80.7" r="2.2"/><circle cx="345.1" cy="85.5" r="2.2"/><circle cx="345.4" cy="78.9" r="2.2"/><circle cx="346.1" cy="81.1" r="2.2"/><circle cx="347" cy="81.6" r="2.2"/><circle cx="347.9" cy="72" r="2.2"/><circle cx="348.4" cy="78" r="2.2"/><circle cx="349.3" cy="81" r="2.2"/><circle cx="344.8" cy="63.8" r="2.2"/><circle cx="344.1" cy="89.3" r="2.2"/><circle cx="349.8" cy="76.6" r="2.2"/><circle cx="350.3" cy="76.3" r="2.2"/><circle cx="350.7" cy="84.7" r="2.2"/><circle cx="351" cy="68.9" r="2.2"/><circle cx="351.9" cy="68.9" r="2.2"/><circle cx="352.4" cy="79" r="2.2"/><circle cx="352.8" cy="84.2" r="2.2"/><circle cx="353.1" cy="84.1" r="2.2"/><circle cx="353.8" cy="61.5" r="2.2"/><circle cx="354.2" cy="82.5" r="2.2"/><circle cx="354.8" cy="64.3" r="2.2"/><circle cx="355.5" cy="75.4" r="2.2"/><circle cx="355.8" cy="69.2" r="2.2"/><circle cx="356.2" cy="56.4" r="2.2"/><circle cx="357" cy="79.5" r="2.2"/><circle cx="349.9" cy="87.6" r="2.2"/><circle cx="357.9" cy="76.9" r="2.2"/><circle cx="358.7" cy="82.9" r="2.2"/><circle cx="359.7" cy="68.2" r="2.2"/><circle cx="360.4" cy="81.6" r="2.2"/><circle cx="361.2" cy="72" r="2.2"/><circle cx="362" cy="84.1" r="2.2"/><circle cx="362.6" cy="80.7" r="2.2"/><circle cx="360.2" cy="85.8" r="2.2"/><circle cx="187" cy="76.6" r="2.2"/><circle cx="189.5" cy="76.6" r="2.2"/><circle cx="233.6" cy="45.8" r="2.2"/><circle cx="234.5" cy="46.5" r="2.2"/></g></g>
<g clip-path="url(#ca1)"><path d="M49.4 169.6V185.8M50.2 164.4V179M50.5 175.4V189.5M51 170.6V186.8M51.8 185.5V199.6M52.4 183.5V197.7M52.5 181.2V197.5M53.2 185.7V193.6M53.6 177.8V191.8M54.2 168.9V185.7M54.7 166.6V181.9M55.1 192.5V198.8M55.9 181.7V195.6M56 178.4V189.9M56.6 167.1V179.9M51.1 194.5V207.2M57.3 169.4V177M57.5 185.4V200.1M58.1 170.6V183.8M58.5 167.1V175.2M59.4 169.2V183.4M59.6 180.2V193.6M60.3 168.7V179.8M60.6 173.5V183.2M61.5 169.4V179.8M61.9 164.4V179M62.5 178.4V194.6M62.7 182.4V199.3M63.2 173.7V190.2M63.8 178.1V188.5M64.4 190.4V201.9M64.7 180.2V186.6M65.4 182.9V195.8M63.9 161V171.7M59 189.3V219.2M65.9 179.7V187.8M66.3 166.8V177.4M67.1 172.4V185.8M67.6 177.6V185.8M68.3 171.8V180.2M68.8 179.6V191.2M69.3 177.1V190.8M69.9 166.1V181.7M70.6 178V189.4M71.3 174.4V182M72.1 178.2V194.5M72.6 184.4V224.3M73.5 170.3V179.6M74 174.5V186.7M67.3 166.1V171.4M74.5 188.1V196.7M75.1 176.1V187.5M76 184.9V197.4M76.4 186.2V197M76.9 176.2V189.4M77.6 183.2V193.3M78.1 179.4V195.2M79.3 189.9V196.4M80 183.6V199.4M80.1 182.7V190.8M81.3 175.3V182M81.8 181.3V193.1M82.3 161V181.4M74.9 188.8V210.6M83 170.4V184.7M83.3 188.3V198.6M84.1 178V187.6M84.3 183.6V190.2M85 177V186.2M85.4 175.9V191.6M86.2 172.8V185.4M86.6 183.3V196.2M86.9 167.5V182.2M87.5 182.5V189.1M88.1 175.4V181.8M88.4 171.5V183.2M89.3 166.2V177.8M89.6 179.9V193.7M90 169.8V185.3M90.8 169.5V181.4M91.1 169.9V180.4M91.7 180.2V195.9M92.1 191.6V217.5M92.8 175.9V186.8M90.3 162.7V171.5M86.2 190.4V210M91.8 190V200M93.3 174.9V182.1M94.4 173.2V187.5M94.9 165.4V179.6M96 177.8V191.7M96.2 167.7V181.3M96.9 169.2V179.5M98.3 165.5V174.5M98.9 162.7V174.3M99.8 170.4V184.5M100.1 177.8V185.6M101.2 179.7V186.3M102.2 158.6V169.1M103.1 156V172.5M103.1 166.5V177.5M104.4 162V173.2M105.3 157.6V173.4M105.5 161.5V169.9M106.6 162.4V173.6M107 164.8V170.9M107.8 167.9V180M108.9 156V170.3M109.4 169.4V196.9M102.3 155.8V164.2M110.6 167.4V177.1M110.8 173.9V196.9M111.3 163.7V173.7M112.3 151.7V166.2M112.9 152.2V165.7M113.3 167.9V183.5M113.8 166.8V179.3M114.3 154.7V166.7M114.9 158.8V172.8M115.7 164.6V174.8M116.1 170.5V179.9M116.8 166.5V180.2M117.2 152.6V165.7M118 165.9V181.2M118.1 161.5V175.4M110.8 152.4V158.1M118.8 157.6V168.1M120 156.6V170.2M120.7 163.7V170M121.1 155.9V169.9M122.1 148.8V160.3M122.8 151V157.4M123.2 150.8V157.2M123.9 156.1V169.2M124.9 151.5V160.5M125.7 145.5V158M125.9 161.3V168.6M127.1 148.1V164.3M125.2 147.3V151.1M124.2 164.5V190.1M127.6 151.5V166.7M128.6 158.7V170.2M128.7 152.5V169.2M129.5 147.5V155.6M130.1 154.5V162.7M131.4 158V173.5M131.9 150.8V164.1M132.5 156.3V162.9M133.3 155.3V163.7M133.8 149.3V165.2M135.1 157.5V167.1M135.3 161.9V170.9M133.4 142.1V150.2M129.4 154.1V190.1M136.3 146.8V159.1M137 156.5V163M137.3 137V147.6M138.2 144V156.2M138.5 141.5V151.2M139.2 149.5V164.1M139.9 154.4V164.3M140.9 150.8V162.3M141.5 154.1V162.6M142.2 145.8V152.5M142.9 155.9V169.2M143 135.1V149.6M142.4 138.7V144.1M142.1 157V188.4M143.9 148V157.3M144.9 151.7V162.7M145.8 150.7V159.6M146 141.2V153.8M147.1 138.1V151.6M147.7 145V152.3M148.8 142.2V150.5M149.7 140.4V155.2M149.8 144.2V157.3M151.1 146.1V154M151.7 152.6V161.8M146.6 152.3V176.4M152.4 139.3V150.5M152.9 138.1V148.8M153.9 152.5V159.1M154.7 146.3V158.5M155.7 143.7V160.3M156.2 147.3V154.2M157.4 143.2V159.8M157.7 146.8V155.8M158.7 153.7V183.2M159.2 144.5V153.5M160.5 149.8V158.7M154.1 137V142.3M161.1 151.1V165M161.5 142.7V157.7M162.4 154.1V161.8M163.2 142.5V148.8M163.6 148.9V161.9M164.3 139.7V152M164.9 137.7V146.6M165.5 148.8V165.5M166.6 148.9V158.7M167.1 150.3V166.9M167.4 156.4V168.9M168.3 138.9V155M168.6 148.2V164.4M162.5 135.3V146.2M169.2 155.9V176.4M169.8 146.2V154.5M170 152.1V160.1M171 159.2V169M171.2 144.4V152.7M171.8 145.6V159.4M172.3 150.5V165.4M173 155.2V164.1M174 151.6V161.7M174.7 151.8V162.1M174.8 143.2V152.7M175.4 156.9V172.8M176.5 151.3V161.2M176.7 144V153.1M177.4 152.7V160.8M173.5 135.3V146.3M177 159V186.6M178.2 148.4V162.3M178.7 162.1V171.2M179.4 161.2V169.5M180.2 158.7V168.9M180.9 160.1V175.7M182.1 156.1V166.3M182.5 150.1V166.7M183 158.9V173.6M183.7 158.6V172.2M184.8 156.6V164.2M185.3 160.7V176.6M185.9 159.7V166.1M182.8 142.1V152.7M186.5 153.3V164M187.4 150.2V163.8M187.8 152.9V162M188.7 161.2V177.7M189.6 152.8V168.1M190.5 158.3V174.5M190.7 160.8V169.8M192 147.5V163.2M192.7 147.3V163.1M193.1 165.5V176.7M194.2 156V164.1M194.6 168.1V176.9M188.7 142.1V156.8M192.9 171.5V178.1M195.8 163.3V169.7M196.4 153.7V162.3M197.3 156.3V169.9M198.2 162.6V174.6M199.3 160.2V171.7M200.2 152.4V161.4M200.9 156.6V164.7M202.3 159.7V167.4M203.2 155.3V164.6M199.2 171.2V176.4M204.2 153.8V162.7M204.6 157.9V170M205.7 164.2V174.6M206.5 161V172.6M207.8 158.5V169.7M208.7 149V163.8M209.8 162.3V168.9M210.6 154.6V166.4M211.8 152.3V166.4M204.1 152.4V157.6M205.8 166.6V174.7M212.1 160.4V175.8M213.6 167.7V179M214.6 152.4V167.5M214.8 160.8V177.7M215.9 165.6V179.1M217.1 153.6V164.9M217.8 162.3V178.6M218.2 160.9V173.7M219.2 167.7V179.2M219.8 162V176.2M216.3 155.8V160.2M218.1 171V183.2M221 148.2V161.9M221.6 163.1V179.4M221.9 164.6V179M222.6 160V171.3M223.2 153.3V162.8M223.3 166.5V181.7M223.9 155.3V170M224.6 155.2V171.7M225.1 147.3V159.8M225.5 149.8V162.7M226.1 162.5V178.5M226.5 153V166M227.3 166.8V173.4M227.8 155.2V162M228.4 147.1V163.5M228.5 149.7V165.7M229.3 173.8V180.2M229.8 159V168.1M225 175.2V183.2M230.4 167V174.3M230.5 161V176.1M231.3 171.1V177.1M231.7 166.5V173.9M232.1 176.4V185.4M232.4 165V177.7M232.8 160.9V177M233.3 151V163.3M233.8 146.6V162.1M234.1 154.4V162.8M234.4 170.7V185.7M235 178.1V186.6M235.2 170.4V184.7M235.8 158.4V165.3M236.4 161.9V174.9M236.9 173.2V183M237.2 150.5V162.9M237.6 168.8V178.1M238 168.2V175.9M238.4 162.5V175.8M238.8 159.2V170.1M239.3 147.3V160.9M232.4 142.3V155.2M237.1 182.8V190.5M239.8 145.4V161M240.6 162.3V168.5M241.2 147.4V155.4M241.6 157.7V166.5M242.4 156.7V173.3M242.6 154V164M243.3 142.4V158.4M243.7 146.2V152.4M244.7 163.4V173M244.9 149.2V160M245.8 147.2V161.3M246.4 161.4V177.7M247 162.6V177.1M247.4 144.3V152.9M248.3 155.9V170.9M248.3 161.7V170.8M249.1 150.6V165.8M249.9 167.9V178.9M250.3 156.9V167.9M250.8 163V174.6M251.4 147.4V154.5M252.3 152.1V168.8M252.7 147.8V163.9M253.3 156.9V172.6M253.8 144.3V154.1M254.6 148.8V159.1M254.8 159.1V165.1M255.7 143.9V152.2M256 148V160.4M256.8 148.7V162.1M257 152.3V164.7M257.6 160.4V173M258.4 143.3V155M259.2 156.9V163.9M259.4 162V169.2M260.2 157.6V171.1M260.8 140.6V149.7M261.1 143.7V157M261.7 140.4V148M262.4 148.2V160.3M261.9 163.1V175.1M263.4 144.8V155.8M264.1 137.9V153.8M264.9 145.8V151.8M265.4 142.4V150.5M266.1 143.8V158M267.1 152.1V178.9M267.6 144.6V154.8M268.5 146.4V158.7M269.6 143.8V156M269.8 148.2V160.6M266.2 138.5V142.6M270.5 131.9V148.1M271.1 153.6V170M271.4 137.6V149.1M271.9 143.3V150.2M272.5 153.2V165.7M272.7 145.9V157.8M273.1 151.2V160.1M273.6 151.6V165.5M273.9 138.4V150.1M274.3 149.6V162.4M274.8 140.1V148.2M275.2 145.1V157.1M275.9 150.7V164.7M276.2 136V146.8M276.8 150.1V164.3M277.2 154.4V163.2M277.6 156.5V173.1M277.9 151.2V166.1M274 130.8V136.6M278.3 140.7V153.3M278.5 131.7V147M278.9 150.3V166.5M279.5 150.4V166.3M279.9 151V159.3M280.3 133V142.4M280.9 146.3V155.9M281 149.3V165.5M281.7 126.8V141.5M281.9 132.7V144.1M282.3 155.7V163.4M282.7 130.6V144.5M283.1 138.8V154.7M283.6 139.8V155.2M284 152.2V165.2M284.5 144.3V151.6M284.8 150.9V165.2M285.4 132.4V147.8M285.4 129.9V136.3M285.9 131.9V146.5M286.4 153V162.9M286.6 137V145.1M287.3 153.8V165.8M287.6 142.2V155.8M286.1 129.8V133.5M282.6 159.8V180.8M287.8 146.3V157.1M288.4 126.9V136.8M289 137.9V153.9M289.7 135.8V148.2M289.8 131V141.8M290.6 140.3V156.4M291 138V145.6M291.5 129.6V144.6M292.2 147.6V154.3M292.6 143.6V152M293.1 127.1V140.2M293.7 144.4V150.8M294.1 136.8V145.4M294.9 137.9V151.7M295.1 149.4V163.5M295.6 145V152.8M296 138V149.9M296.8 143.3V151.8M297.1 148.1V155.8M297.9 150.9V158.6M298.5 150.7V167.4M299.6 151.2V163M299.9 141.9V153.7M301.2 139.8V154.5M301.5 143.1V149.7M302.3 151.1V161.7M303.3 139.1V148.5M304 138V147.1M305 136.7V151.4M305.6 142.3V150.3M306.4 147.3V157.1M307.3 143.7V159.9M307.7 142.4V157.6M308.5 148.3V162.9M304.4 138.5V144.3M309.7 154.1V164M309.7 153.7V169.5M310.8 157.2V165M311.3 146V153.8M311.9 153.1V164.7M312.8 143.3V157M313.7 146.4V153.6M314.1 144.1V152.1M315 154.6V166.9M315.3 136.8V153.1M316.7 144.1V155.1M316 158.8V169.3M317.1 136.8V152.3M317.5 140.5V150.2M318.2 142V156.9M318.6 152.5V168.3M319.3 148.4V155.9M319.7 158.5V167.5M320.1 161.7V169.5M320.5 164.7V170.9M321.1 139.3V150.3M321.9 146.1V153.5M322.3 143.5V155.8M322.8 143.4V158.4M323.2 155.1V161.5M324.1 142.3V155.5M324.7 143V156.6M324.7 160.7V174M325.6 140.2V150.5M326.1 143.5V157.8M318.7 140.4V146.4M319.1 167.7V177M326.9 156.5V167.2M327.7 146.2V157.2M328.1 155.6V169.5M329.5 156.8V166.5M330.2 154.8V162.4M331.3 149.5V158.6M332.1 161.8V168.8M332.9 147.7V163.7M333.2 162.7V171.8M328.9 166.5V177M334.2 175V187.1M334.7 167.4V174.6M335.3 172V178M335.6 175.1V186.6M336.1 167.1V177.5M336.5 176.7V186.5M337.2 158.1V173M337.7 159.4V170.3M338.5 176.8V183.4M339 168.1V175.7M339.2 165.9V182.1M339.9 159.4V170.7M340.4 165.8V177.7M340.5 148.1V164.1M341.1 168.6V180.6M341.7 166.9V174.7M342.1 164.1V180.8M342.6 166.1V174.3M343 175V189.5M343.9 170.1V176.8M344.2 176.8V202M344.9 174.8V188.6M345.1 173.4V187.5M345.8 166.5V175.2M346.7 167.2V175.6M348 166.4V182.8M348.7 163.4V170.1M349.3 165.2V180.8M350.6 172.3V192.4M351.2 165.9V173.6M351.7 170.6V183.3M352.8 162.5V168.7M353.8 160V175.4M354.4 166.4V177.5M347.4 157.7V165.6M355.4 162.5V177.5M355.9 158.3V169.6M356.6 158.9V174.2M356.9 178V192.2M357.1 167.8V183M357.9 179V191.8M358.2 183.9V191.4M358.9 181.8V193.1M359.3 181.1V187.3M359.6 182.1V191.3M360.2 179V192.5M360.5 170.7V179.2M361.1 169.8V179.8M361.8 170.8V183.7M362 166.8V178M362.6 168.5V183.1M363 165.7V175M361.2 190.2V209.7" stroke="#000" stroke-width="1.7" fill="none"/>
<g fill="#000"><circle cx="49.4" cy="177.7" r="2.2"/><circle cx="50.2" cy="172.1" r="2.2"/><circle cx="50.5" cy="182.4" r="2.2"/><circle cx="51" cy="178.7" r="2.2"/><circle cx="51.8" cy="192.6" r="2.2"/><circle cx="52.4" cy="190.6" r="2.2"/><circle cx="52.5" cy="189.3" r="2.2"/><circle cx="53.2" cy="189.7" r="2.2"/><circle cx="53.6" cy="184.8" r="2.2"/><circle cx="54.2" cy="177.3" r="2.2"/><circle cx="54.7" cy="174.2" r="2.2"/><circle cx="55.1" cy="195.6" r="2.2"/><circle cx="55.9" cy="188.7" r="2.2"/><circle cx="56" cy="184.2" r="2.2"/><circle cx="56.6" cy="173.5" r="2.2"/><circle cx="51.1" cy="200.1" r="2.2"/><circle cx="57.3" cy="173.2" r="2.2"/><circle cx="57.5" cy="192.7" r="2.2"/><circle cx="58.1" cy="177.2" r="2.2"/><circle cx="58.5" cy="171.2" r="2.2"/><circle cx="59.4" cy="176.3" r="2.2"/><circle cx="59.6" cy="186.9" r="2.2"/><circle cx="60.3" cy="174.3" r="2.2"/><circle cx="60.6" cy="178.4" r="2.2"/><circle cx="61.5" cy="174.6" r="2.2"/><circle cx="61.9" cy="171.7" r="2.2"/><circle cx="62.5" cy="186.5" r="2.2"/><circle cx="62.7" cy="190.8" r="2.2"/><circle cx="63.2" cy="181.9" r="2.2"/><circle cx="63.8" cy="183.3" r="2.2"/><circle cx="64.4" cy="196.1" r="2.2"/><circle cx="64.7" cy="183.4" r="2.2"/><circle cx="65.4" cy="189.3" r="2.2"/><circle cx="63.9" cy="167" r="2.2"/><circle cx="59" cy="202.6" r="2.2"/><circle cx="65.9" cy="183.7" r="2.2"/><circle cx="66.3" cy="172.1" r="2.2"/><circle cx="67.1" cy="179.1" r="2.2"/><circle cx="67.6" cy="181.7" r="2.2"/><circle cx="68.3" cy="176" r="2.2"/><circle cx="68.8" cy="185.4" r="2.2"/><circle cx="69.3" cy="183.9" r="2.2"/><circle cx="69.9" cy="173.9" r="2.2"/><circle cx="70.6" cy="183.7" r="2.2"/><circle cx="71.3" cy="178.2" r="2.2"/><circle cx="72.1" cy="186.3" r="2.2"/><circle cx="72.6" cy="190.2" r="2.2"/><circle cx="73.5" cy="174.9" r="2.2"/><circle cx="74" cy="180.6" r="2.2"/><circle cx="67.3" cy="169" r="2.2"/><circle cx="74.5" cy="192.4" r="2.2"/><circle cx="75.1" cy="181.8" r="2.2"/><circle cx="76" cy="191.2" r="2.2"/><circle cx="76.4" cy="191.6" r="2.2"/><circle cx="76.9" cy="182.8" r="2.2"/><circle cx="77.6" cy="188.3" r="2.2"/><circle cx="78.1" cy="187.3" r="2.2"/><circle cx="79.3" cy="193.1" r="2.2"/><circle cx="80" cy="191.5" r="2.2"/><circle cx="80.1" cy="186.8" r="2.2"/><circle cx="81.3" cy="178.6" r="2.2"/><circle cx="81.8" cy="187.2" r="2.2"/><circle cx="82.3" cy="174.4" r="2.2"/><circle cx="74.9" cy="198.5" r="2.2"/><circle cx="83" cy="177.5" r="2.2"/><circle cx="83.3" cy="193.5" r="2.2"/><circle cx="84.1" cy="182.8" r="2.2"/><circle cx="84.3" cy="186.9" r="2.2"/><circle cx="85" cy="181.6" r="2.2"/><circle cx="85.4" cy="183.7" r="2.2"/><circle cx="86.2" cy="179.1" r="2.2"/><circle cx="86.6" cy="189.8" r="2.2"/><circle cx="86.9" cy="174.9" r="2.2"/><circle cx="87.5" cy="185.8" r="2.2"/><circle cx="88.1" cy="178.6" r="2.2"/><circle cx="88.4" cy="177.3" r="2.2"/><circle cx="89.3" cy="172" r="2.2"/><circle cx="89.6" cy="186.8" r="2.2"/><circle cx="90" cy="177.6" r="2.2"/><circle cx="90.8" cy="175.5" r="2.2"/><circle cx="91.1" cy="175.2" r="2.2"/><circle cx="91.7" cy="188.1" r="2.2"/><circle cx="92.1" cy="196.6" r="2.2"/><circle cx="92.8" cy="181.4" r="2.2"/><circle cx="90.3" cy="167.6" r="2.2"/><circle cx="86.2" cy="195.9" r="2.2"/><circle cx="91.8" cy="195.7" r="2.2"/><circle cx="93.3" cy="178.5" r="2.2"/><circle cx="94.4" cy="180.3" r="2.2"/><circle cx="94.9" cy="172.5" r="2.2"/><circle cx="96" cy="184.8" r="2.2"/><circle cx="96.2" cy="174.5" r="2.2"/><circle cx="96.9" cy="174.3" r="2.2"/><circle cx="98.3" cy="170" r="2.2"/><circle cx="98.9" cy="169.6" r="2.2"/><circle cx="99.8" cy="177.5" r="2.2"/><circle cx="100.1" cy="181.7" r="2.2"/><circle cx="101.2" cy="183" r="2.2"/><circle cx="102.2" cy="163.9" r="2.2"/><circle cx="103.1" cy="164.3" r="2.2"/><circle cx="103.1" cy="172" r="2.2"/><circle cx="104.4" cy="167.6" r="2.2"/><circle cx="105.3" cy="165.5" r="2.2"/><circle cx="105.5" cy="165.7" r="2.2"/><circle cx="106.6" cy="168" r="2.2"/><circle cx="107" cy="167.9" r="2.2"/><circle cx="107.8" cy="174" r="2.2"/><circle cx="108.9" cy="163.1" r="2.2"/><circle cx="109.4" cy="174.7" r="2.2"/><circle cx="102.3" cy="160.4" r="2.2"/><circle cx="110.6" cy="172.3" r="2.2"/><circle cx="110.8" cy="178.9" r="2.2"/><circle cx="111.3" cy="168.7" r="2.2"/><circle cx="112.3" cy="158.9" r="2.2"/><circle cx="112.9" cy="158.9" r="2.2"/><circle cx="113.3" cy="175.7" r="2.2"/><circle cx="113.8" cy="173" r="2.2"/><circle cx="114.3" cy="160.7" r="2.2"/><circle cx="114.9" cy="165.8" r="2.2"/><circle cx="115.7" cy="169.7" r="2.2"/><circle cx="116.1" cy="175.2" r="2.2"/><circle cx="116.8" cy="173.4" r="2.2"/><circle cx="117.2" cy="159.1" r="2.2"/><circle cx="118" cy="173.5" r="2.2"/><circle cx="118.1" cy="168.4" r="2.2"/><circle cx="110.8" cy="155.6" r="2.2"/><circle cx="118.8" cy="162.9" r="2.2"/><circle cx="120" cy="163.4" r="2.2"/><circle cx="120.7" cy="166.9" r="2.2"/><circle cx="121.1" cy="162.9" r="2.2"/><circle cx="122.1" cy="154.6" r="2.2"/><circle cx="122.8" cy="154.2" r="2.2"/><circle cx="123.2" cy="154" r="2.2"/><circle cx="123.9" cy="162.6" r="2.2"/><circle cx="124.9" cy="156" r="2.2"/><circle cx="125.7" cy="151.7" r="2.2"/><circle cx="125.9" cy="165" r="2.2"/><circle cx="127.1" cy="156.2" r="2.2"/><circle cx="125.2" cy="149.4" r="2.2"/><circle cx="124.2" cy="175.9" r="2.2"/><circle cx="127.6" cy="159.1" r="2.2"/><circle cx="128.6" cy="164.4" r="2.2"/><circle cx="128.7" cy="160.9" r="2.2"/><circle cx="129.5" cy="151.5" r="2.2"/><circle cx="130.1" cy="158.6" r="2.2"/><circle cx="131.4" cy="165.8" r="2.2"/><circle cx="131.9" cy="157.4" r="2.2"/><circle cx="132.5" cy="159.6" r="2.2"/><circle cx="133.3" cy="159.5" r="2.2"/><circle cx="133.8" cy="157.2" r="2.2"/><circle cx="135.1" cy="162.3" r="2.2"/><circle cx="135.3" cy="166.4" r="2.2"/><circle cx="133.4" cy="146.6" r="2.2"/><circle cx="129.4" cy="170.1" r="2.2"/><circle cx="136.3" cy="153" r="2.2"/><circle cx="137" cy="159.8" r="2.2"/><circle cx="137.3" cy="142.3" r="2.2"/><circle cx="138.2" cy="150.1" r="2.2"/><circle cx="138.5" cy="146.3" r="2.2"/><circle cx="139.2" cy="156.8" r="2.2"/><circle cx="139.9" cy="159.4" r="2.2"/><circle cx="140.9" cy="156.6" r="2.2"/><circle cx="141.5" cy="158.3" r="2.2"/><circle cx="142.2" cy="149.1" r="2.2"/><circle cx="142.9" cy="162.5" r="2.2"/><circle cx="143" cy="142.3" r="2.2"/><circle cx="142.4" cy="141.7" r="2.2"/><circle cx="142.1" cy="171" r="2.2"/><circle cx="143.9" cy="152.6" r="2.2"/><circle cx="144.9" cy="157.2" r="2.2"/><circle cx="145.8" cy="155.2" r="2.2"/><circle cx="146" cy="147.5" r="2.2"/><circle cx="147.1" cy="144.9" r="2.2"/><circle cx="147.7" cy="148.7" r="2.2"/><circle cx="148.8" cy="146.4" r="2.2"/><circle cx="149.7" cy="147.8" r="2.2"/><circle cx="149.8" cy="150.7" r="2.2"/><circle cx="151.1" cy="150" r="2.2"/><circle cx="151.7" cy="157.2" r="2.2"/><circle cx="146.6" cy="163" r="2.2"/><circle cx="152.4" cy="144.9" r="2.2"/><circle cx="152.9" cy="143.5" r="2.2"/><circle cx="153.9" cy="155.8" r="2.2"/><circle cx="154.7" cy="152.4" r="2.2"/><circle cx="155.7" cy="152" r="2.2"/><circle cx="156.2" cy="150.8" r="2.2"/><circle cx="157.4" cy="151.5" r="2.2"/><circle cx="157.7" cy="151.3" r="2.2"/><circle cx="158.7" cy="158" r="2.2"/><circle cx="159.2" cy="149" r="2.2"/><circle cx="160.5" cy="154.3" r="2.2"/><circle cx="154.1" cy="139.9" r="2.2"/><circle cx="161.1" cy="158" r="2.2"/><circle cx="161.5" cy="150.2" r="2.2"/><circle cx="162.4" cy="157.9" r="2.2"/><circle cx="163.2" cy="145.6" r="2.2"/><circle cx="163.6" cy="155.4" r="2.2"/><circle cx="164.3" cy="145.9" r="2.2"/><circle cx="164.9" cy="142.1" r="2.2"/><circle cx="165.5" cy="157.2" r="2.2"/><circle cx="166.6" cy="153.8" r="2.2"/><circle cx="167.1" cy="158.6" r="2.2"/><circle cx="167.4" cy="162.7" r="2.2"/><circle cx="168.3" cy="146.9" r="2.2"/><circle cx="168.6" cy="156.3" r="2.2"/><circle cx="162.5" cy="141.4" r="2.2"/><circle cx="169.2" cy="165" r="2.2"/><circle cx="169.8" cy="150.4" r="2.2"/><circle cx="170" cy="156.1" r="2.2"/><circle cx="171" cy="164.1" r="2.2"/><circle cx="171.2" cy="148.5" r="2.2"/><circle cx="171.8" cy="152.5" r="2.2"/><circle cx="172.3" cy="158" r="2.2"/><circle cx="173" cy="159.6" r="2.2"/><circle cx="174" cy="156.7" r="2.2"/><circle cx="174.7" cy="157" r="2.2"/><circle cx="174.8" cy="147.9" r="2.2"/><circle cx="175.4" cy="164.8" r="2.2"/><circle cx="176.5" cy="156.3" r="2.2"/><circle cx="176.7" cy="148.6" r="2.2"/><circle cx="177.4" cy="156.7" r="2.2"/><circle cx="173.5" cy="141.4" r="2.2"/><circle cx="177" cy="171.3" r="2.2"/><circle cx="178.2" cy="155.3" r="2.2"/><circle cx="178.7" cy="166.6" r="2.2"/><circle cx="179.4" cy="165.3" r="2.2"/><circle cx="180.2" cy="163.8" r="2.2"/><circle cx="180.9" cy="167.9" r="2.2"/><circle cx="182.1" cy="161.2" r="2.2"/><circle cx="182.5" cy="158.4" r="2.2"/><circle cx="183" cy="166.2" r="2.2"/><circle cx="183.7" cy="165.4" r="2.2"/><circle cx="184.8" cy="160.4" r="2.2"/><circle cx="185.3" cy="168.7" r="2.2"/><circle cx="185.9" cy="162.9" r="2.2"/><circle cx="182.8" cy="148" r="2.2"/><circle cx="186.5" cy="158.6" r="2.2"/><circle cx="187.4" cy="157" r="2.2"/><circle cx="187.8" cy="157.5" r="2.2"/><circle cx="188.7" cy="169.5" r="2.2"/><circle cx="189.6" cy="160.4" r="2.2"/><circle cx="190.5" cy="166.4" r="2.2"/><circle cx="190.7" cy="165.3" r="2.2"/><circle cx="192" cy="155.3" r="2.2"/><circle cx="192.7" cy="155.2" r="2.2"/><circle cx="193.1" cy="171.1" r="2.2"/><circle cx="194.2" cy="160.1" r="2.2"/><circle cx="194.6" cy="172.5" r="2.2"/><circle cx="188.7" cy="150.3" r="2.2"/><circle cx="192.9" cy="174.4" r="2.2"/><circle cx="195.8" cy="166.5" r="2.2"/><circle cx="196.4" cy="158" r="2.2"/><circle cx="197.3" cy="163.1" r="2.2"/><circle cx="198.2" cy="168.6" r="2.2"/><circle cx="199.3" cy="165.9" r="2.2"/><circle cx="200.2" cy="157.6" r="2.2"/><circle cx="200.9" cy="160.6" r="2.2"/><circle cx="202.3" cy="163.6" r="2.2"/><circle cx="203.2" cy="159.9" r="2.2"/><circle cx="199.2" cy="173.5" r="2.2"/><circle cx="204.2" cy="158.3" r="2.2"/><circle cx="204.6" cy="164" r="2.2"/><circle cx="205.7" cy="169.4" r="2.2"/><circle cx="206.5" cy="166.8" r="2.2"/><circle cx="207.8" cy="164.1" r="2.2"/><circle cx="208.7" cy="156.4" r="2.2"/><circle cx="209.8" cy="165.6" r="2.2"/><circle cx="210.6" cy="160.5" r="2.2"/><circle cx="211.8" cy="159.3" r="2.2"/><circle cx="204.1" cy="155.3" r="2.2"/><circle cx="205.8" cy="170.2" r="2.2"/><circle cx="212.1" cy="168.1" r="2.2"/><circle cx="213.6" cy="173.4" r="2.2"/><circle cx="214.6" cy="159.9" r="2.2"/><circle cx="214.8" cy="169.2" r="2.2"/><circle cx="215.9" cy="172.3" r="2.2"/><circle cx="217.1" cy="159.3" r="2.2"/><circle cx="217.8" cy="170.4" r="2.2"/><circle cx="218.2" cy="167.3" r="2.2"/><circle cx="219.2" cy="173.4" r="2.2"/><circle cx="219.8" cy="169.1" r="2.2"/><circle cx="216.3" cy="158.2" r="2.2"/><circle cx="218.1" cy="176.4" r="2.2"/><circle cx="221" cy="155.1" r="2.2"/><circle cx="221.6" cy="171.2" r="2.2"/><circle cx="221.9" cy="171.8" r="2.2"/><circle cx="222.6" cy="165.6" r="2.2"/><circle cx="223.2" cy="158" r="2.2"/><circle cx="223.3" cy="174.1" r="2.2"/><circle cx="223.9" cy="162.7" r="2.2"/><circle cx="224.6" cy="163.5" r="2.2"/><circle cx="225.1" cy="154.8" r="2.2"/><circle cx="225.5" cy="156.3" r="2.2"/><circle cx="226.1" cy="170.5" r="2.2"/><circle cx="226.5" cy="159.5" r="2.2"/><circle cx="227.3" cy="170.1" r="2.2"/><circle cx="227.8" cy="158.6" r="2.2"/><circle cx="228.4" cy="155.3" r="2.2"/><circle cx="228.5" cy="157.7" r="2.2"/><circle cx="229.3" cy="177" r="2.2"/><circle cx="229.8" cy="163.6" r="2.2"/><circle cx="225" cy="178.7" r="2.2"/><circle cx="230.4" cy="170.6" r="2.2"/><circle cx="230.5" cy="168.6" r="2.2"/><circle cx="231.3" cy="174.1" r="2.2"/><circle cx="231.7" cy="170.2" r="2.2"/><circle cx="232.1" cy="180.9" r="2.2"/><circle cx="232.4" cy="171.4" r="2.2"/><circle cx="232.8" cy="168.9" r="2.2"/><circle cx="233.3" cy="157.2" r="2.2"/><circle cx="233.8" cy="154.4" r="2.2"/><circle cx="234.1" cy="158.6" r="2.2"/><circle cx="234.4" cy="178.2" r="2.2"/><circle cx="235" cy="182.4" r="2.2"/><circle cx="235.2" cy="177.6" r="2.2"/><circle cx="235.8" cy="161.8" r="2.2"/><circle cx="236.4" cy="168.4" r="2.2"/><circle cx="236.9" cy="178.1" r="2.2"/><circle cx="237.2" cy="156.7" r="2.2"/><circle cx="237.6" cy="173.4" r="2.2"/><circle cx="238" cy="172" r="2.2"/><circle cx="238.4" cy="169.2" r="2.2"/><circle cx="238.8" cy="164.6" r="2.2"/><circle cx="239.3" cy="154.1" r="2.2"/><circle cx="232.4" cy="149.5" r="2.2"/><circle cx="237.1" cy="186.2" r="2.2"/><circle cx="239.8" cy="153.2" r="2.2"/><circle cx="240.6" cy="165.4" r="2.2"/><circle cx="241.2" cy="151.4" r="2.2"/><circle cx="241.6" cy="162.1" r="2.2"/><circle cx="242.4" cy="165" r="2.2"/><circle cx="242.6" cy="159" r="2.2"/><circle cx="243.3" cy="150.4" r="2.2"/><circle cx="243.7" cy="149.3" r="2.2"/><circle cx="244.7" cy="168.2" r="2.2"/><circle cx="244.9" cy="154.6" r="2.2"/><circle cx="245.8" cy="154.2" r="2.2"/><circle cx="246.4" cy="169.6" r="2.2"/><circle cx="247" cy="169.8" r="2.2"/><circle cx="247.4" cy="148.7" r="2.2"/><circle cx="248.3" cy="163.4" r="2.2"/><circle cx="248.3" cy="166.3" r="2.2"/><circle cx="249.1" cy="158.2" r="2.2"/><circle cx="249.9" cy="170.9" r="2.2"/><circle cx="250.3" cy="162.4" r="2.2"/><circle cx="250.8" cy="168.8" r="2.2"/><circle cx="251.4" cy="150.9" r="2.2"/><circle cx="252.3" cy="160.4" r="2.2"/><circle cx="252.7" cy="155.8" r="2.2"/><circle cx="253.3" cy="164.8" r="2.2"/><circle cx="253.8" cy="149.2" r="2.2"/><circle cx="254.6" cy="154" r="2.2"/><circle cx="254.8" cy="162.1" r="2.2"/><circle cx="255.7" cy="148" r="2.2"/><circle cx="256" cy="154.2" r="2.2"/><circle cx="256.8" cy="155.4" r="2.2"/><circle cx="257" cy="158.5" r="2.2"/><circle cx="257.6" cy="166.7" r="2.2"/><circle cx="258.4" cy="149.1" r="2.2"/><circle cx="259.2" cy="160.4" r="2.2"/><circle cx="259.4" cy="165.6" r="2.2"/><circle cx="260.2" cy="164.4" r="2.2"/><circle cx="260.8" cy="145.2" r="2.2"/><circle cx="261.1" cy="150.3" r="2.2"/><circle cx="261.7" cy="144.7" r="2.2"/><circle cx="262.4" cy="154.3" r="2.2"/><circle cx="261.9" cy="168.4" r="2.2"/><circle cx="263.4" cy="150.3" r="2.2"/><circle cx="264.1" cy="145.9" r="2.2"/><circle cx="264.9" cy="148.8" r="2.2"/><circle cx="265.4" cy="146.5" r="2.2"/><circle cx="266.1" cy="150.9" r="2.2"/><circle cx="267.1" cy="159.4" r="2.2"/><circle cx="267.6" cy="149.7" r="2.2"/><circle cx="268.5" cy="152.5" r="2.2"/><circle cx="269.6" cy="149.9" r="2.2"/><circle cx="269.8" cy="154.4" r="2.2"/><circle cx="266.2" cy="140.8" r="2.2"/><circle cx="270.5" cy="140" r="2.2"/><circle cx="271.1" cy="161.8" r="2.2"/><circle cx="271.4" cy="143.4" r="2.2"/><circle cx="271.9" cy="146.7" r="2.2"/><circle cx="272.5" cy="159.4" r="2.2"/><circle cx="272.7" cy="151.9" r="2.2"/><circle cx="273.1" cy="155.6" r="2.2"/><circle cx="273.6" cy="158.5" r="2.2"/><circle cx="273.9" cy="144.3" r="2.2"/><circle cx="274.3" cy="156" r="2.2"/><circle cx="274.8" cy="144.1" r="2.2"/><circle cx="275.2" cy="151.1" r="2.2"/><circle cx="275.9" cy="157.7" r="2.2"/><circle cx="276.2" cy="141.4" r="2.2"/><circle cx="276.8" cy="157.2" r="2.2"/><circle cx="277.2" cy="158.8" r="2.2"/><circle cx="277.6" cy="162.7" r="2.2"/><circle cx="277.9" cy="158.7" r="2.2"/><circle cx="274" cy="134" r="2.2"/><circle cx="278.3" cy="147" r="2.2"/><circle cx="278.5" cy="139.3" r="2.2"/><circle cx="278.9" cy="158.4" r="2.2"/><circle cx="279.5" cy="158.4" r="2.2"/><circle cx="279.9" cy="155.1" r="2.2"/><circle cx="280.3" cy="137.7" r="2.2"/><circle cx="280.9" cy="151.1" r="2.2"/><circle cx="281" cy="157.4" r="2.2"/><circle cx="281.7" cy="134.1" r="2.2"/><circle cx="281.9" cy="138.4" r="2.2"/><circle cx="282.3" cy="159.6" r="2.2"/><circle cx="282.7" cy="137.5" r="2.2"/><circle cx="283.1" cy="146.8" r="2.2"/><circle cx="283.6" cy="147.5" r="2.2"/><circle cx="284" cy="158.7" r="2.2"/><circle cx="284.5" cy="148" r="2.2"/><circle cx="284.8" cy="158.1" r="2.2"/><circle cx="285.4" cy="140.1" r="2.2"/><circle cx="285.4" cy="133.1" r="2.2"/><circle cx="285.9" cy="139.2" r="2.2"/><circle cx="286.4" cy="158" r="2.2"/><circle cx="286.6" cy="141" r="2.2"/><circle cx="287.3" cy="159.8" r="2.2"/><circle cx="287.6" cy="149" r="2.2"/><circle cx="286.1" cy="131.8" r="2.2"/><circle cx="282.6" cy="169.1" r="2.2"/><circle cx="287.8" cy="151.7" r="2.2"/><circle cx="288.4" cy="133.6" r="2.2"/><circle cx="289" cy="145.9" r="2.2"/><circle cx="289.7" cy="142" r="2.2"/><circle cx="289.8" cy="136.4" r="2.2"/><circle cx="290.6" cy="148.4" r="2.2"/><circle cx="291" cy="141.8" r="2.2"/><circle cx="291.5" cy="137.1" r="2.2"/><circle cx="292.2" cy="150.9" r="2.2"/><circle cx="292.6" cy="147.8" r="2.2"/><circle cx="293.1" cy="133.6" r="2.2"/><circle cx="293.7" cy="147.6" r="2.2"/><circle cx="294.1" cy="141.1" r="2.2"/><circle cx="294.9" cy="144.8" r="2.2"/><circle cx="295.1" cy="153.3" r="2.2"/><circle cx="295.6" cy="148.9" r="2.2"/><circle cx="296" cy="144" r="2.2"/><circle cx="296.8" cy="147.5" r="2.2"/><circle cx="297.1" cy="151.9" r="2.2"/><circle cx="297.9" cy="154.8" r="2.2"/><circle cx="298.5" cy="157.3" r="2.2"/><circle cx="299.6" cy="157.1" r="2.2"/><circle cx="299.9" cy="147.8" r="2.2"/><circle cx="301.2" cy="147.2" r="2.2"/><circle cx="301.5" cy="146.4" r="2.2"/><circle cx="302.3" cy="156.4" r="2.2"/><circle cx="303.3" cy="143.8" r="2.2"/><circle cx="304" cy="142.5" r="2.2"/><circle cx="305" cy="144.1" r="2.2"/><circle cx="305.6" cy="146.3" r="2.2"/><circle cx="306.4" cy="152.2" r="2.2"/><circle cx="307.3" cy="151.8" r="2.2"/><circle cx="307.7" cy="150" r="2.2"/><circle cx="308.5" cy="155.6" r="2.2"/><circle cx="304.4" cy="141.7" r="2.2"/><circle cx="309.7" cy="159" r="2.2"/><circle cx="309.7" cy="161.6" r="2.2"/><circle cx="310.8" cy="161.1" r="2.2"/><circle cx="311.3" cy="149.9" r="2.2"/><circle cx="311.9" cy="158.9" r="2.2"/><circle cx="312.8" cy="150.2" r="2.2"/><circle cx="313.7" cy="150" r="2.2"/><circle cx="314.1" cy="148.1" r="2.2"/><circle cx="315" cy="160.7" r="2.2"/><circle cx="315.3" cy="145" r="2.2"/><circle cx="316.7" cy="149.6" r="2.2"/><circle cx="316" cy="163.5" r="2.2"/><circle cx="317.1" cy="144.6" r="2.2"/><circle cx="317.5" cy="145.3" r="2.2"/><circle cx="318.2" cy="149.4" r="2.2"/><circle cx="318.6" cy="160.4" r="2.2"/><circle cx="319.3" cy="152.2" r="2.2"/><circle cx="319.7" cy="163" r="2.2"/><circle cx="320.1" cy="165.6" r="2.2"/><circle cx="320.5" cy="167.8" r="2.2"/><circle cx="321.1" cy="144.8" r="2.2"/><circle cx="321.9" cy="149.8" r="2.2"/><circle cx="322.3" cy="149.6" r="2.2"/><circle cx="322.8" cy="150.9" r="2.2"/><circle cx="323.2" cy="158.3" r="2.2"/><circle cx="324.1" cy="148.9" r="2.2"/><circle cx="324.7" cy="149.8" r="2.2"/><circle cx="324.7" cy="167.3" r="2.2"/><circle cx="325.6" cy="145.3" r="2.2"/><circle cx="326.1" cy="150.7" r="2.2"/><circle cx="318.7" cy="143.7" r="2.2"/><circle cx="319.1" cy="171.8" r="2.2"/><circle cx="326.9" cy="161.9" r="2.2"/><circle cx="327.7" cy="152.9" r="2.2"/><circle cx="328.1" cy="162.6" r="2.2"/><circle cx="329.5" cy="161.7" r="2.2"/><circle cx="330.2" cy="158.6" r="2.2"/><circle cx="331.3" cy="154.1" r="2.2"/><circle cx="332.1" cy="165.3" r="2.2"/><circle cx="332.9" cy="155.7" r="2.2"/><circle cx="333.2" cy="167.3" r="2.2"/><circle cx="328.9" cy="171.2" r="2.2"/><circle cx="334.2" cy="181" r="2.2"/><circle cx="334.7" cy="171" r="2.2"/><circle cx="335.3" cy="175" r="2.2"/><circle cx="335.6" cy="180.9" r="2.2"/><circle cx="336.1" cy="172.3" r="2.2"/><circle cx="336.5" cy="181.6" r="2.2"/><circle cx="337.2" cy="165.5" r="2.2"/><circle cx="337.7" cy="164.9" r="2.2"/><circle cx="338.5" cy="180.1" r="2.2"/><circle cx="339" cy="171.9" r="2.2"/><circle cx="339.2" cy="174" r="2.2"/><circle cx="339.9" cy="165.1" r="2.2"/><circle cx="340.4" cy="171.8" r="2.2"/><circle cx="340.5" cy="160.4" r="2.2"/><circle cx="341.1" cy="174.6" r="2.2"/><circle cx="341.7" cy="170.8" r="2.2"/><circle cx="342.1" cy="172.4" r="2.2"/><circle cx="342.6" cy="170.2" r="2.2"/><circle cx="343" cy="182.3" r="2.2"/><circle cx="343.9" cy="173.4" r="2.2"/><circle cx="344.2" cy="182.4" r="2.2"/><circle cx="344.9" cy="181.7" r="2.2"/><circle cx="345.1" cy="180.4" r="2.2"/><circle cx="345.8" cy="170.9" r="2.2"/><circle cx="346.7" cy="171.4" r="2.2"/><circle cx="348" cy="174.6" r="2.2"/><circle cx="348.7" cy="166.8" r="2.2"/><circle cx="349.3" cy="173" r="2.2"/><circle cx="350.6" cy="179.4" r="2.2"/><circle cx="351.2" cy="169.7" r="2.2"/><circle cx="351.7" cy="177" r="2.2"/><circle cx="352.8" cy="165.6" r="2.2"/><circle cx="353.8" cy="167.7" r="2.2"/><circle cx="354.4" cy="171.9" r="2.2"/><circle cx="347.4" cy="162.1" r="2.2"/><circle cx="355.4" cy="170" r="2.2"/><circle cx="355.9" cy="164" r="2.2"/><circle cx="356.6" cy="166.6" r="2.2"/><circle cx="356.9" cy="185.1" r="2.2"/><circle cx="357.1" cy="175.4" r="2.2"/><circle cx="357.9" cy="185.4" r="2.2"/><circle cx="358.2" cy="187.6" r="2.2"/><circle cx="358.9" cy="187.5" r="2.2"/><circle cx="359.3" cy="184.2" r="2.2"/><circle cx="359.6" cy="186.7" r="2.2"/><circle cx="360.2" cy="185.8" r="2.2"/><circle cx="360.5" cy="175" r="2.2"/><circle cx="361.1" cy="174.8" r="2.2"/><circle cx="361.8" cy="177.2" r="2.2"/><circle cx="362" cy="172.4" r="2.2"/><circle cx="362.6" cy="175.8" r="2.2"/><circle cx="363" cy="170.4" r="2.2"/><circle cx="361.2" cy="198.9" r="2.2"/></g></g>
<g clip-path="url(#ca2)"><path d="M50.2 271.9V285.3M50.8 271.3V285.1M51.8 253.7V265.9M53 260V276.4M53.5 260.7V275.8M54.5 256.6V269.8M55.2 254.6V267.8M56.6 255.9V267M55.8 281V284.5M55.6 264.8V278.3M56.6 271.2V286.8M57.5 272.2V286.5M58 275.3V291.6M59.2 282.4V299.9M59.8 275.5V283.1M60.8 261.7V274.6M62.1 257.1V271.3M62.3 265V273.5M63.2 275.4V289.3M63.7 281.9V295.3M64.6 271.4V283.3M64.8 271.8V283.8M66 287.3V301.7M66.3 272.9V287.4M67.3 289.4V300.1M67.6 283.5V295.5M68.6 276.8V285.3M69 277.1V291.2M69.6 291.5V299.9M70.3 270.3V279M70 257.1V276.2M62.5 296.2V315.3M70.9 293.5V303.8M72.1 279.2V286.6M72.7 286V298.9M73.2 287.3V296.1M73.8 279.2V287.4M74.7 283.4V291.9M75.6 269.4V280.2M75.8 289V297.8M76.4 289.5V300.2M77.6 284.2V299.9M78 288.4V300.6M79.1 276V284.2M78.5 257.1V275.3M75.6 299.5V308.5M79.8 278.5V296.5M80.2 268.8V279.9M81.7 267.3V274.8M82.9 273.1V284.4M83.8 262.3V276.1M84.8 270V281M85.8 263.9V277.3M86.4 271V284.4M87.4 276.4V285.9M83 255.4V269.2M88.4 278V293.8M89.2 278.6V313.6M89.8 277V284.8M90.2 258.4V271.7M91.7 266.3V282.5M91.9 273.4V286.8M92.6 263.1V277.2M93.7 274.3V286.3M94.7 271V283.7M95.5 277.5V290.9M96.4 270.7V286.5M94.8 255.4V263.7M97.6 270.4V303.3M99.6 266.5V282.6M101.5 262.9V272.8M102.1 264.5V279.8M100.7 260.5V265.9M104.2 272.9V281.3M105.8 268.5V283.5M106.9 272.1V286.5M107.9 273V285.2M110.1 264.6V279.3M103.4 250.3V263M103.6 278V284.5M110.9 264V273.2M112.2 262.8V274.1M114.3 250.5V264.6M115.5 264.5V275.8M116.8 255.6V264.7M111.3 252V256M116.7 270.4V274.2M125.6 259.8V273.9M126.5 237.2V247.4M127.1 237V247.3M128 252.9V269.6M128.6 242.3V251.5M129.3 254.6V267.3M130 246.9V257.8M131 254.2V269.6M131.9 247.3V261.8M132.8 261.5V273.7M133.4 238.3V250.2M133.9 247V259.8M135 244.2V255.3M130.4 236.6V241.1M125.5 267.3V276M135.6 249V259.5M135.8 252.1V265.2M136.6 233.9V246.2M137.6 254.6V272.5M137.9 254.1V264.4M139.2 250.6V265.7M139.6 246.3V257.5M140.3 232.1V243.3M143.6 237.3V247.8M147.7 231.3V244.1M148.2 231.4V236.4M144.6 246V256M148.7 238.4V249.9M150.2 236.9V248.8M152.2 249.8V257.6M153.8 235.5V245.9M155.1 243.9V259.7M156.1 233.9V246.9M153.9 228V235.9M152.8 252.7V257.1M159.4 244.9V260.5M161.1 253.9V264.4M162.5 252.9V270.8M165.4 231.1V243M166.2 244.5V254.5M169.1 235.8V251M169.9 247.9V261.9M184.7 252.1V262.6M185.7 251.8V260.4M188.1 249.2V262.1M191.3 252.7V259.9M189.8 238.3V247.5M189.2 257.7V262.2M192.8 256.1V265.7M193.8 257.3V270.8M195.7 243.4V256.4M196.4 254.9V264M197.5 255.5V267.2M199.1 261.7V272.5M201.3 257V271.4M202.4 249.6V266.1M203.1 257.9V269.5M204.3 249.5V263.7M204.5 255.6V265.1M205.8 265V274.8M206.5 271V278.5M207.3 255.5V270.1M208.5 269.3V280.2M206.9 248.5V255.4M202.3 278.4V284.5M209.9 252.2V268.8M211.8 254.6V265.9M212.8 260V270.8M214.2 246.6V254.5M216.9 249.7V260.4M210.7 245.1V253.1M218.4 255.2V267.5M219.9 245.7V255.4M221.2 249.6V266M222.2 257V264.5M224.3 241.8V255.7M225.7 253.6V266.4M220.9 241.7V246.5M225.9 265.9V278.3M227.7 241.7V256.5M228.7 260.3V268.7M229.7 260.5V270M230 276.3V284.5M230.2 261.4V275.3M231.1 253.6V268.7M231.6 266.6V282.8M232.7 260V269.3M233.2 241.1V255.6M233.6 272.2V279.6M234.8 256.3V266.5M235.2 271.9V287.6M235.8 259.5V267.7M236.6 249.7V257.5M237.2 244V254.6M237.9 269.1V279.3M238.7 252V262.3M239.1 257.4V265.2M238.6 237.6V249.7M235.3 278V285.8M239.7 240.7V250.6M242.2 239.5V252.3M242.6 239.6V249.6M244.7 240V251.6M246.2 251.1V262.1M247.8 250.3V259.5M248.2 255.2V264.4M245.2 261.8V266.5M249.5 246.2V257.5M251.4 262.1V274.2M252.4 246.1V261.8M253.7 253.7V268.2M255.2 243.8V258.6M255.8 256.2V268.5M255.9 245.3V253.4M257.2 237.5V252.9M259 249.1V266.5M260.1 240.9V257M262.5 246.2V255.2M259.2 233.8V240.8M262.8 225.7V236.6M263.4 251.9V266M263.9 256.7V265.8M264.4 258.2V270.4M264.7 230.5V239.2M265.3 241.8V258.7M265.8 256.5V265.5M266.1 243.6V259M266.9 234.7V246.8M267.5 232.4V248.6M267.8 233.5V242.2M268.3 244.4V257.1M268.6 236.7V250.7M269.2 225.6V239.2M269.5 254.1V264.7M270.2 248.4V261.1M270.5 238.6V255.3M271.1 224.8V240.7M271.7 232.4V248.8M271.9 248V258M272.4 230.6V243.4M273.2 232.8V249.1M273.6 239V252.2M274 246.7V262.9M274.7 223.6V238.6M274.8 250.2V257.6M275.3 237.5V246.4M276 243V256.2M276.6 225.9V238.3M276.7 234V245.1M277.5 247.7V260M278 238V248.3M279.8 241.9V256.9M280.8 238.3V248.3M282.9 229.6V246M284.3 233.1V248.9M286 231.5V240.5M287.1 233V248.6M289 242.1V252.1M289.4 232.5V243M291 232.2V247M291.7 226.5V237.8M292.7 243.1V252.6M293.7 228.9V243.7M294.5 244.5V257M289.6 228V233.6M292.3 253.1V258.8M296.1 253.3V260.4M296.3 238.7V250.8M296.9 253.3V268.2M297.9 241.5V253.8M298.7 255.6V266.7M298.7 260V273.4M299.6 258V274.4M300.1 246.8V260.1M300.6 247.6V263.2M301.4 251.8V265.7M302.4 260V273.6M303 235.7V247.2M303.7 254V263.6M304.1 248.8V259.5M304.5 251V261.8M297.2 272.2V276.1M305.7 262.1V271.3M306.3 263.4V278M306.9 235.2V250.3M307.3 239.5V255.8M307.9 254.4V265.3M308.9 258.7V274.7M309.3 261.1V272.7M310.2 254.8V263.2M310.6 258.5V268.1M311.4 255.1V269.4M311.9 248.7V261.5M312.4 251.8V263.4M312.9 244.6V257M313.6 254.6V262M314.2 244.3V251.7M315.7 242V258.2M317 244.9V253.1M318.4 230.8V246.7M320.8 243.2V259.3M322.4 248.6V263.6M323 239.4V250.4M322.2 231.9V239.9M324.8 272.3V280.1M325.1 251.2V259.9M326.2 268V277M326.4 255.4V264.3M327.3 270.5V285.8M328 262V270.1M328.9 239.6V254.8M329.3 258.2V265.4M329.7 262V272.3M330.2 265.4V273.3M330.9 242.5V259.4M331.8 253.3V267.6M332.5 270.9V280M332.9 257.4V267M333.8 253.7V261.1M334.5 258V272.2M334.8 252.5V261.3M335.7 234V249M336.5 261.4V281.9M336.9 250V262.7M337.5 247.2V259.7M337.9 238.9V248.9M339.1 253.5V269.7M339.6 260.7V272.7M340.1 238.5V246.5M340.4 252.1V259.5M341.1 236.6V253M341.9 241.5V256.6M342.7 247.3V256.9M343.5 243.4V250.8M343.8 257.3V271.2M344.3 249.4V262M345.3 258.6V270M339.7 235.7V241.9M345.6 262.8V269.9M346.8 266.2V297.3M348.3 246V256.8M349 249.6V261.6M350.9 245.6V259M351.1 246.8V259M353 249.5V262.7M350 245.3V250.1M354.5 270.1V283.7M356 270.3V282.2M358.2 262.7V271.9M359.1 274.9V286.3M361.5 266.9V279.2M362.9 274.8V286.8M357.3 279.7V287.7M183 233V247M146.6 250.3V276M348.5 282V297" stroke="#000" stroke-width="1.7" fill="none"/>
<g fill="#000"><circle cx="50.2" cy="278.6" r="2.2"/><circle cx="50.8" cy="278.2" r="2.2"/><circle cx="51.8" cy="259.8" r="2.2"/><circle cx="53" cy="268.2" r="2.2"/><circle cx="53.5" cy="268.2" r="2.2"/><circle cx="54.5" cy="263.2" r="2.2"/><circle cx="55.2" cy="261.2" r="2.2"/><circle cx="56.6" cy="261.4" r="2.2"/><circle cx="55.8" cy="282.5" r="2.2"/><circle cx="55.6" cy="271.6" r="2.2"/><circle cx="56.6" cy="279" r="2.2"/><circle cx="57.5" cy="279.4" r="2.2"/><circle cx="58" cy="283.4" r="2.2"/><circle cx="59.2" cy="287.5" r="2.2"/><circle cx="59.8" cy="279.3" r="2.2"/><circle cx="60.8" cy="268.2" r="2.2"/><circle cx="62.1" cy="266.1" r="2.2"/><circle cx="62.3" cy="269.2" r="2.2"/><circle cx="63.2" cy="282.4" r="2.2"/><circle cx="63.7" cy="288.6" r="2.2"/><circle cx="64.6" cy="277.3" r="2.2"/><circle cx="64.8" cy="277.8" r="2.2"/><circle cx="66" cy="294.5" r="2.2"/><circle cx="66.3" cy="280.1" r="2.2"/><circle cx="67.3" cy="294.7" r="2.2"/><circle cx="67.6" cy="289.5" r="2.2"/><circle cx="68.6" cy="281.1" r="2.2"/><circle cx="69" cy="284.1" r="2.2"/><circle cx="69.6" cy="295.7" r="2.2"/><circle cx="70.3" cy="274.6" r="2.2"/><circle cx="70" cy="267.7" r="2.2"/><circle cx="62.5" cy="304.7" r="2.2"/><circle cx="70.9" cy="298.6" r="2.2"/><circle cx="72.1" cy="282.9" r="2.2"/><circle cx="72.7" cy="292.5" r="2.2"/><circle cx="73.2" cy="291.7" r="2.2"/><circle cx="73.8" cy="283.3" r="2.2"/><circle cx="74.7" cy="287.6" r="2.2"/><circle cx="75.6" cy="274.8" r="2.2"/><circle cx="75.8" cy="293.4" r="2.2"/><circle cx="76.4" cy="294.9" r="2.2"/><circle cx="77.6" cy="292.1" r="2.2"/><circle cx="78" cy="294.5" r="2.2"/><circle cx="79.1" cy="280.1" r="2.2"/><circle cx="78.5" cy="267.2" r="2.2"/><circle cx="75.6" cy="303.5" r="2.2"/><circle cx="79.8" cy="283.5" r="2.2"/><circle cx="80.2" cy="274.4" r="2.2"/><circle cx="81.7" cy="271.1" r="2.2"/><circle cx="82.9" cy="278.7" r="2.2"/><circle cx="83.8" cy="269.2" r="2.2"/><circle cx="84.8" cy="275.5" r="2.2"/><circle cx="85.8" cy="270.6" r="2.2"/><circle cx="86.4" cy="277.7" r="2.2"/><circle cx="87.4" cy="281.1" r="2.2"/><circle cx="83" cy="263.1" r="2.2"/><circle cx="88.4" cy="285.9" r="2.2"/><circle cx="89.2" cy="286.9" r="2.2"/><circle cx="89.8" cy="280.9" r="2.2"/><circle cx="90.2" cy="265" r="2.2"/><circle cx="91.7" cy="274.4" r="2.2"/><circle cx="91.9" cy="280.1" r="2.2"/><circle cx="92.6" cy="270.2" r="2.2"/><circle cx="93.7" cy="280.3" r="2.2"/><circle cx="94.7" cy="277.4" r="2.2"/><circle cx="95.5" cy="284.2" r="2.2"/><circle cx="96.4" cy="278.6" r="2.2"/><circle cx="94.8" cy="260" r="2.2"/><circle cx="97.6" cy="278.2" r="2.2"/><circle cx="99.6" cy="274.6" r="2.2"/><circle cx="101.5" cy="267.8" r="2.2"/><circle cx="102.1" cy="272.2" r="2.2"/><circle cx="100.7" cy="263.5" r="2.2"/><circle cx="104.2" cy="277.1" r="2.2"/><circle cx="105.8" cy="276" r="2.2"/><circle cx="106.9" cy="279.3" r="2.2"/><circle cx="107.9" cy="279.1" r="2.2"/><circle cx="110.1" cy="272" r="2.2"/><circle cx="103.4" cy="257.3" r="2.2"/><circle cx="103.6" cy="280.9" r="2.2"/><circle cx="110.9" cy="268.6" r="2.2"/><circle cx="112.2" cy="268.4" r="2.2"/><circle cx="114.3" cy="257.6" r="2.2"/><circle cx="115.5" cy="270.1" r="2.2"/><circle cx="116.8" cy="260.1" r="2.2"/><circle cx="111.3" cy="254.2" r="2.2"/><circle cx="116.7" cy="272.1" r="2.2"/><circle cx="125.6" cy="266.8" r="2.2"/><circle cx="126.5" cy="242.3" r="2.2"/><circle cx="127.1" cy="242.1" r="2.2"/><circle cx="128" cy="261.2" r="2.2"/><circle cx="128.6" cy="246.9" r="2.2"/><circle cx="129.3" cy="260.9" r="2.2"/><circle cx="130" cy="252.4" r="2.2"/><circle cx="131" cy="261.9" r="2.2"/><circle cx="131.9" cy="254.5" r="2.2"/><circle cx="132.8" cy="267.6" r="2.2"/><circle cx="133.4" cy="244.3" r="2.2"/><circle cx="133.9" cy="253.4" r="2.2"/><circle cx="135" cy="249.8" r="2.2"/><circle cx="130.4" cy="239.1" r="2.2"/><circle cx="125.5" cy="271.1" r="2.2"/><circle cx="135.6" cy="254.2" r="2.2"/><circle cx="135.8" cy="258.7" r="2.2"/><circle cx="136.6" cy="240" r="2.2"/><circle cx="137.6" cy="261.1" r="2.2"/><circle cx="137.9" cy="259.2" r="2.2"/><circle cx="139.2" cy="258.2" r="2.2"/><circle cx="139.6" cy="251.9" r="2.2"/><circle cx="140.3" cy="237.7" r="2.2"/><circle cx="143.6" cy="242.6" r="2.2"/><circle cx="147.7" cy="237.7" r="2.2"/><circle cx="148.2" cy="234.2" r="2.2"/><circle cx="144.6" cy="250.4" r="2.2"/><circle cx="148.7" cy="244.2" r="2.2"/><circle cx="150.2" cy="242.8" r="2.2"/><circle cx="152.2" cy="253.7" r="2.2"/><circle cx="153.8" cy="240.7" r="2.2"/><circle cx="155.1" cy="251.8" r="2.2"/><circle cx="156.1" cy="240.4" r="2.2"/><circle cx="153.9" cy="232.4" r="2.2"/><circle cx="152.8" cy="254.7" r="2.2"/><circle cx="159.4" cy="252.7" r="2.2"/><circle cx="161.1" cy="259.1" r="2.2"/><circle cx="162.5" cy="259.2" r="2.2"/><circle cx="165.4" cy="237" r="2.2"/><circle cx="166.2" cy="249.5" r="2.2"/><circle cx="169.1" cy="243.4" r="2.2"/><circle cx="169.9" cy="254.9" r="2.2"/><circle cx="184.7" cy="257.4" r="2.2"/><circle cx="185.7" cy="256.1" r="2.2"/><circle cx="188.1" cy="255.7" r="2.2"/><circle cx="191.3" cy="256.3" r="2.2"/><circle cx="189.8" cy="243.4" r="2.2"/><circle cx="189.2" cy="259.7" r="2.2"/><circle cx="192.8" cy="260.9" r="2.2"/><circle cx="193.8" cy="264" r="2.2"/><circle cx="195.7" cy="251.8" r="2.2"/><circle cx="196.4" cy="259.5" r="2.2"/><circle cx="197.5" cy="261.4" r="2.2"/><circle cx="199.1" cy="265.3" r="2.2"/><circle cx="201.3" cy="264.2" r="2.2"/><circle cx="202.4" cy="257.8" r="2.2"/><circle cx="203.1" cy="263.7" r="2.2"/><circle cx="204.3" cy="256.6" r="2.2"/><circle cx="204.5" cy="260.3" r="2.2"/><circle cx="205.8" cy="269.9" r="2.2"/><circle cx="206.5" cy="274.7" r="2.2"/><circle cx="207.3" cy="262.8" r="2.2"/><circle cx="208.5" cy="274.8" r="2.2"/><circle cx="206.9" cy="252.3" r="2.2"/><circle cx="202.3" cy="281.1" r="2.2"/><circle cx="209.9" cy="260.5" r="2.2"/><circle cx="211.8" cy="260.3" r="2.2"/><circle cx="212.8" cy="264.8" r="2.2"/><circle cx="214.2" cy="250.5" r="2.2"/><circle cx="216.9" cy="255.1" r="2.2"/><circle cx="210.7" cy="249.6" r="2.2"/><circle cx="218.4" cy="261.3" r="2.2"/><circle cx="219.9" cy="250.6" r="2.2"/><circle cx="221.2" cy="257.8" r="2.2"/><circle cx="222.2" cy="260.8" r="2.2"/><circle cx="224.3" cy="248.7" r="2.2"/><circle cx="225.7" cy="260" r="2.2"/><circle cx="220.9" cy="244.3" r="2.2"/><circle cx="225.9" cy="272.1" r="2.2"/><circle cx="227.7" cy="252.1" r="2.2"/><circle cx="228.7" cy="264.5" r="2.2"/><circle cx="229.7" cy="265.2" r="2.2"/><circle cx="230" cy="279.9" r="2.2"/><circle cx="230.2" cy="268.4" r="2.2"/><circle cx="231.1" cy="261.2" r="2.2"/><circle cx="231.6" cy="274.7" r="2.2"/><circle cx="232.7" cy="264.7" r="2.2"/><circle cx="233.2" cy="248.3" r="2.2"/><circle cx="233.6" cy="275.9" r="2.2"/><circle cx="234.8" cy="261.4" r="2.2"/><circle cx="235.2" cy="279.8" r="2.2"/><circle cx="235.8" cy="263.6" r="2.2"/><circle cx="236.6" cy="253.6" r="2.2"/><circle cx="237.2" cy="249.3" r="2.2"/><circle cx="237.9" cy="274.2" r="2.2"/><circle cx="238.7" cy="257.2" r="2.2"/><circle cx="239.1" cy="261.3" r="2.2"/><circle cx="238.6" cy="244.3" r="2.2"/><circle cx="235.3" cy="281.5" r="2.2"/><circle cx="239.7" cy="245.7" r="2.2"/><circle cx="242.2" cy="245.9" r="2.2"/><circle cx="242.6" cy="245.4" r="2.2"/><circle cx="244.7" cy="245.8" r="2.2"/><circle cx="246.2" cy="256.6" r="2.2"/><circle cx="247.8" cy="254.9" r="2.2"/><circle cx="248.2" cy="259.8" r="2.2"/><circle cx="245.2" cy="263.9" r="2.2"/><circle cx="249.5" cy="251.8" r="2.2"/><circle cx="251.4" cy="266.1" r="2.2"/><circle cx="252.4" cy="254" r="2.2"/><circle cx="253.7" cy="260.9" r="2.2"/><circle cx="255.2" cy="251.2" r="2.2"/><circle cx="255.8" cy="262.4" r="2.2"/><circle cx="255.9" cy="249.8" r="2.2"/><circle cx="257.2" cy="245.2" r="2.2"/><circle cx="259" cy="254.6" r="2.2"/><circle cx="260.1" cy="249" r="2.2"/><circle cx="262.5" cy="250.7" r="2.2"/><circle cx="259.2" cy="237.7" r="2.2"/><circle cx="262.8" cy="231.2" r="2.2"/><circle cx="263.4" cy="259" r="2.2"/><circle cx="263.9" cy="261.3" r="2.2"/><circle cx="264.4" cy="261.8" r="2.2"/><circle cx="264.7" cy="234.9" r="2.2"/><circle cx="265.3" cy="250.2" r="2.2"/><circle cx="265.8" cy="261" r="2.2"/><circle cx="266.1" cy="251.3" r="2.2"/><circle cx="266.9" cy="240.7" r="2.2"/><circle cx="267.5" cy="240.5" r="2.2"/><circle cx="267.8" cy="237.8" r="2.2"/><circle cx="268.3" cy="250.8" r="2.2"/><circle cx="268.6" cy="243.7" r="2.2"/><circle cx="269.2" cy="232.4" r="2.2"/><circle cx="269.5" cy="259.4" r="2.2"/><circle cx="270.2" cy="254.8" r="2.2"/><circle cx="270.5" cy="246.9" r="2.2"/><circle cx="271.1" cy="232.8" r="2.2"/><circle cx="271.7" cy="240.6" r="2.2"/><circle cx="271.9" cy="253" r="2.2"/><circle cx="272.4" cy="237" r="2.2"/><circle cx="273.2" cy="240.9" r="2.2"/><circle cx="273.6" cy="245.6" r="2.2"/><circle cx="274" cy="254.8" r="2.2"/><circle cx="274.7" cy="231.1" r="2.2"/><circle cx="274.8" cy="253.9" r="2.2"/><circle cx="275.3" cy="242" r="2.2"/><circle cx="276" cy="249.6" r="2.2"/><circle cx="276.6" cy="232.1" r="2.2"/><circle cx="276.7" cy="239.6" r="2.2"/><circle cx="277.5" cy="253.8" r="2.2"/><circle cx="278" cy="243.1" r="2.2"/><circle cx="279.8" cy="247.8" r="2.2"/><circle cx="280.8" cy="243.3" r="2.2"/><circle cx="282.9" cy="237.8" r="2.2"/><circle cx="284.3" cy="241" r="2.2"/><circle cx="286" cy="236" r="2.2"/><circle cx="287.1" cy="240.8" r="2.2"/><circle cx="289" cy="247.1" r="2.2"/><circle cx="289.4" cy="237.8" r="2.2"/><circle cx="291" cy="239.6" r="2.2"/><circle cx="291.7" cy="232.2" r="2.2"/><circle cx="292.7" cy="247.9" r="2.2"/><circle cx="293.7" cy="236.3" r="2.2"/><circle cx="294.5" cy="250.7" r="2.2"/><circle cx="289.6" cy="231.1" r="2.2"/><circle cx="292.3" cy="255.7" r="2.2"/><circle cx="296.1" cy="256.9" r="2.2"/><circle cx="296.3" cy="244.7" r="2.2"/><circle cx="296.9" cy="260.8" r="2.2"/><circle cx="297.9" cy="247.6" r="2.2"/><circle cx="298.7" cy="261.2" r="2.2"/><circle cx="298.7" cy="266.7" r="2.2"/><circle cx="299.6" cy="266.2" r="2.2"/><circle cx="300.1" cy="253.5" r="2.2"/><circle cx="300.6" cy="255.4" r="2.2"/><circle cx="301.4" cy="258.7" r="2.2"/><circle cx="302.4" cy="266.8" r="2.2"/><circle cx="303" cy="242.5" r="2.2"/><circle cx="303.7" cy="258.8" r="2.2"/><circle cx="304.1" cy="254.1" r="2.2"/><circle cx="304.5" cy="256.4" r="2.2"/><circle cx="297.2" cy="273.9" r="2.2"/><circle cx="305.7" cy="266.7" r="2.2"/><circle cx="306.3" cy="267.9" r="2.2"/><circle cx="306.9" cy="242.7" r="2.2"/><circle cx="307.3" cy="247.6" r="2.2"/><circle cx="307.9" cy="259.9" r="2.2"/><circle cx="308.9" cy="266.7" r="2.2"/><circle cx="309.3" cy="266.9" r="2.2"/><circle cx="310.2" cy="259" r="2.2"/><circle cx="310.6" cy="263.3" r="2.2"/><circle cx="311.4" cy="262.2" r="2.2"/><circle cx="311.9" cy="255.1" r="2.2"/><circle cx="312.4" cy="257.6" r="2.2"/><circle cx="312.9" cy="250.8" r="2.2"/><circle cx="313.6" cy="258.3" r="2.2"/><circle cx="314.2" cy="248" r="2.2"/><circle cx="315.7" cy="250.1" r="2.2"/><circle cx="317" cy="249" r="2.2"/><circle cx="318.4" cy="238.7" r="2.2"/><circle cx="320.8" cy="251.3" r="2.2"/><circle cx="322.4" cy="256.1" r="2.2"/><circle cx="323" cy="244.9" r="2.2"/><circle cx="322.2" cy="236.4" r="2.2"/><circle cx="324.8" cy="276.2" r="2.2"/><circle cx="325.1" cy="255.5" r="2.2"/><circle cx="326.2" cy="272.5" r="2.2"/><circle cx="326.4" cy="259.9" r="2.2"/><circle cx="327.3" cy="276.3" r="2.2"/><circle cx="328" cy="266" r="2.2"/><circle cx="328.9" cy="249.7" r="2.2"/><circle cx="329.3" cy="261.8" r="2.2"/><circle cx="329.7" cy="267.1" r="2.2"/><circle cx="330.2" cy="269.4" r="2.2"/><circle cx="330.9" cy="251" r="2.2"/><circle cx="331.8" cy="260.5" r="2.2"/><circle cx="332.5" cy="275.5" r="2.2"/><circle cx="332.9" cy="262.2" r="2.2"/><circle cx="333.8" cy="257.4" r="2.2"/><circle cx="334.5" cy="265.1" r="2.2"/><circle cx="334.8" cy="256.9" r="2.2"/><circle cx="335.7" cy="241.5" r="2.2"/><circle cx="336.5" cy="268.3" r="2.2"/><circle cx="336.9" cy="256.4" r="2.2"/><circle cx="337.5" cy="253.5" r="2.2"/><circle cx="337.9" cy="243.9" r="2.2"/><circle cx="339.1" cy="261.6" r="2.2"/><circle cx="339.6" cy="266.7" r="2.2"/><circle cx="340.1" cy="242.5" r="2.2"/><circle cx="340.4" cy="255.8" r="2.2"/><circle cx="341.1" cy="244.8" r="2.2"/><circle cx="341.9" cy="249" r="2.2"/><circle cx="342.7" cy="252.1" r="2.2"/><circle cx="343.5" cy="247.1" r="2.2"/><circle cx="343.8" cy="264.3" r="2.2"/><circle cx="344.3" cy="255.7" r="2.2"/><circle cx="345.3" cy="264.3" r="2.2"/><circle cx="339.7" cy="239.1" r="2.2"/><circle cx="345.6" cy="266.3" r="2.2"/><circle cx="346.8" cy="273.9" r="2.2"/><circle cx="348.3" cy="251.4" r="2.2"/><circle cx="349" cy="255.6" r="2.2"/><circle cx="350.9" cy="252.3" r="2.2"/><circle cx="351.1" cy="252.9" r="2.2"/><circle cx="353" cy="256.1" r="2.2"/><circle cx="350" cy="247.9" r="2.2"/><circle cx="354.5" cy="276.9" r="2.2"/><circle cx="356" cy="276.3" r="2.2"/><circle cx="358.2" cy="268.1" r="2.2"/><circle cx="359.1" cy="280.6" r="2.2"/><circle cx="361.5" cy="273" r="2.2"/><circle cx="362.9" cy="280.8" r="2.2"/><circle cx="357.3" cy="283.3" r="2.2"/><circle cx="183" cy="239.8" r="2.2"/><circle cx="146.6" cy="262.2" r="2.2"/><circle cx="348.5" cy="289.6" r="2.2"/></g></g>
<g clip-path="url(#ca3)"><path d="M130.9 384.3V392.9M132.5 380.8V397.8M134.4 383.3V409.3M135.8 367.7V383.1M137.2 377.6V389.6M138.4 369.5V387M139.7 369.5V380.9M140.3 385.6V404.7M142.5 363.4V372.8M143.2 370V379.2M144.6 347.7V372.3M145.5 375.4V388.8M147.2 352.7V367M147.5 389.9V399.5M148.5 385V401.8M150 350.8V363.2M150.2 369.2V386.5M151.3 363.8V376.7M152.7 387.8V398.6M148.3 393.8V404.7M153.5 356.4V367.9M154.5 353.6V363.7M155 358.6V371.7M155.8 355.8V365.5M156.1 372.7V386.8M157.4 360.5V373.5M157.6 380.7V398.6M158.6 353.7V369.8M159.5 355.2V364.6M160.2 365.8V381.4M161 376.9V386.5M161.1 372.2V386.5M162.4 374.4V385.6M162.9 367.4V384.9M163.9 366.5V379.1M158.6 346.2V357.9M164.1 375.3V387.4M165.4 382.5V392.2M166.2 383.4V394.5M167.3 388.4V396.6M168.4 361.2V379M170 386V399.1M170.6 375.7V391M171.9 384.4V398.4M172.1 380.6V392.8M170.8 358.5V368.2M169.6 387.9V407.8M173.1 388.4V397.4M174.7 372.9V384.5M176 372.3V389.3M176.8 391.5V405.8M177.9 379.2V396.4M178.3 360V379.3M180.2 395.6V405.3M180.6 380.1V390.4M181.6 368.4V384.5M181.1 400V414M182.8 363.8V372.9M183.6 386.5V396.6M184.8 380.8V398.8M185.3 383.1V397.8M186.3 383V397.2M186.8 388V415.5M187.9 375.3V386.9M188.5 362.5V376M189.8 379.9V397.7M190.4 362V376M190.8 372.3V390.2M186 360V368.5M191.7 370.1V386.6M192.8 391.5V424.7M194.4 373.8V389.4M195 368.1V383.9M195.9 368.3V380.5M196.5 382V392.3M197.4 361.6V378.4M198.4 374V388.4M199.7 375.9V393.6M200.1 370.8V386.6M201.9 364.7V384.2M202.6 386.7V398.6M204.2 372.9V389.3M205.3 368V385.3M207.2 375.6V387.9M208 370.3V386.3M209.8 388.7V398.5M201.8 392.8V410.9M210.6 371.3V382.8M212.6 380.9V392.1M212.9 382.5V391.5M214.1 385.9V401.9M215.9 395.1V408.1M217.4 381.2V398.1M218.8 382.2V393.1M215.7 367.7V379.5M210.4 402V407.8M219.5 386.4V402.9M222.4 386.8V401.1M222.8 383.1V391.3M224.9 391.3V423.2M226.6 386.4V395.1M228.1 383.7V399.7M226.9 380V386.8M53.7 365.7V398.8M56.4 385V397M66.7 385V410M70.6 385V396.5M74.7 371.4V398.8M75.8 401V418M81.5 373.6V392M83.3 378.2V398.8M87.2 380.5V407.9M90.2 401V417M93.6 368V392M95.7 387.3V403.3M98.2 403.3V422.7M112.3 382.8V412.5M115.3 373.6V396.5M116.2 364.5V385M117.6 396.5V417M118.5 357.7V380.5M124.9 364.5V380.5M127.2 373.6V389.6M129 362.2V376M337.4 372.7V396.3M352.5 361V379.8M357.9 371.5V386.8M239.6 390.8V407.8M241.1 386.2V397M242 377V390.8M242 384.7V395.5M245.9 367.7V383.1M247.3 389.3V406.3M248.2 380.1V395.5M249.3 393.9V407.8M250 373.9V387.8M250.8 393.9V409.3M251.3 389.3V401.6M252.3 380.1V392.4M253.1 377V390.8M254.2 365.4V384.7M254.7 375.4V387.8M257.7 389.3V401.6M258.5 377V390.8M259.3 367.7V386.2M260 393.9V404.7M260.8 392.4V403.2M263.1 355.4V372.4M264.2 354.6V369.3M265.4 355.4V370.8M266.7 364.7V384.7M272.8 364.7V380.1M278.1 360V380.1M279 386.2V406.3M280.1 383.1V395.5M281.6 378.5V393.9M282.4 365.4V381.6M283.2 375.4V384.7M283.9 370.8V384.7M284.7 378.5V400.1M285.5 378.5V392.4M288.6 383.1V398.6M289.3 369.3V380.1M290.1 378.5V390.8M290.9 361.6V380.1M291.6 360V372.4M292.4 370.8V383.1M293.5 375.4V384.7M295.5 384.7V393.9M296.3 367.7V380.1M297.8 367.7V378.5M299.3 367.7V377M301.2 363.1V377M302.4 349.2V369.3M304 377V392.4M305.2 373.9V386.2M307 363.1V375.4M308.6 350.8V370.8M310.1 364.7V377M311.2 369.3V386.2M325.5 380.1V402.4M328.6 372.4V395.5" stroke="#000" stroke-width="1.7" fill="none"/>
<g fill="#000"><circle cx="130.9" cy="388.6" r="2.2"/><circle cx="132.5" cy="389.3" r="2.2"/><circle cx="134.4" cy="390.1" r="2.2"/><circle cx="135.8" cy="379" r="2.2"/><circle cx="137.2" cy="383.6" r="2.2"/><circle cx="138.4" cy="378.2" r="2.2"/><circle cx="139.7" cy="375.2" r="2.2"/><circle cx="140.3" cy="389.6" r="2.2"/><circle cx="142.5" cy="368.1" r="2.2"/><circle cx="143.2" cy="374.6" r="2.2"/><circle cx="144.6" cy="368" r="2.2"/><circle cx="145.5" cy="382.1" r="2.2"/><circle cx="147.2" cy="359.9" r="2.2"/><circle cx="147.5" cy="394.7" r="2.2"/><circle cx="148.5" cy="393.4" r="2.2"/><circle cx="150" cy="359" r="2.2"/><circle cx="150.2" cy="377.8" r="2.2"/><circle cx="151.3" cy="370.2" r="2.2"/><circle cx="152.7" cy="393.2" r="2.2"/><circle cx="148.3" cy="398.6" r="2.2"/><circle cx="153.5" cy="362.1" r="2.2"/><circle cx="154.5" cy="358.6" r="2.2"/><circle cx="155" cy="365.2" r="2.2"/><circle cx="155.8" cy="360.6" r="2.2"/><circle cx="156.1" cy="379.7" r="2.2"/><circle cx="157.4" cy="367" r="2.2"/><circle cx="157.6" cy="388.2" r="2.2"/><circle cx="158.6" cy="361.8" r="2.2"/><circle cx="159.5" cy="359.9" r="2.2"/><circle cx="160.2" cy="373.6" r="2.2"/><circle cx="161" cy="381.7" r="2.2"/><circle cx="161.1" cy="379.4" r="2.2"/><circle cx="162.4" cy="380" r="2.2"/><circle cx="162.9" cy="376.2" r="2.2"/><circle cx="163.9" cy="372.8" r="2.2"/><circle cx="158.6" cy="352.7" r="2.2"/><circle cx="164.1" cy="381.4" r="2.2"/><circle cx="165.4" cy="387.4" r="2.2"/><circle cx="166.2" cy="388.9" r="2.2"/><circle cx="167.3" cy="392.5" r="2.2"/><circle cx="168.4" cy="370.1" r="2.2"/><circle cx="170" cy="392.6" r="2.2"/><circle cx="170.6" cy="383.3" r="2.2"/><circle cx="171.9" cy="391.4" r="2.2"/><circle cx="172.1" cy="386.7" r="2.2"/><circle cx="170.8" cy="363.9" r="2.2"/><circle cx="169.6" cy="396.7" r="2.2"/><circle cx="173.1" cy="392.9" r="2.2"/><circle cx="174.7" cy="378.7" r="2.2"/><circle cx="176" cy="380.8" r="2.2"/><circle cx="176.8" cy="398.6" r="2.2"/><circle cx="177.9" cy="387.8" r="2.2"/><circle cx="178.3" cy="374.2" r="2.2"/><circle cx="180.2" cy="400.5" r="2.2"/><circle cx="180.6" cy="385.3" r="2.2"/><circle cx="181.6" cy="376.4" r="2.2"/><circle cx="181.1" cy="406.2" r="2.2"/><circle cx="182.8" cy="368.3" r="2.2"/><circle cx="183.6" cy="391.5" r="2.2"/><circle cx="184.8" cy="389.8" r="2.2"/><circle cx="185.3" cy="390.4" r="2.2"/><circle cx="186.3" cy="390.1" r="2.2"/><circle cx="186.8" cy="395.8" r="2.2"/><circle cx="187.9" cy="381.1" r="2.2"/><circle cx="188.5" cy="369.3" r="2.2"/><circle cx="189.8" cy="388.8" r="2.2"/><circle cx="190.4" cy="369" r="2.2"/><circle cx="190.8" cy="381.3" r="2.2"/><circle cx="186" cy="364.7" r="2.2"/><circle cx="191.7" cy="378.3" r="2.2"/><circle cx="192.8" cy="400.2" r="2.2"/><circle cx="194.4" cy="381.6" r="2.2"/><circle cx="195" cy="376" r="2.2"/><circle cx="195.9" cy="374.4" r="2.2"/><circle cx="196.5" cy="387.1" r="2.2"/><circle cx="197.4" cy="371.1" r="2.2"/><circle cx="198.4" cy="381.2" r="2.2"/><circle cx="199.7" cy="384.8" r="2.2"/><circle cx="200.1" cy="378.7" r="2.2"/><circle cx="201.9" cy="375.8" r="2.2"/><circle cx="202.6" cy="392.7" r="2.2"/><circle cx="204.2" cy="381.1" r="2.2"/><circle cx="205.3" cy="376.7" r="2.2"/><circle cx="207.2" cy="381.7" r="2.2"/><circle cx="208" cy="378.3" r="2.2"/><circle cx="209.8" cy="393.6" r="2.2"/><circle cx="201.8" cy="400.9" r="2.2"/><circle cx="210.6" cy="377" r="2.2"/><circle cx="212.6" cy="386.5" r="2.2"/><circle cx="212.9" cy="387" r="2.2"/><circle cx="214.1" cy="393.9" r="2.2"/><circle cx="215.9" cy="401.6" r="2.2"/><circle cx="217.4" cy="389.7" r="2.2"/><circle cx="218.8" cy="387.7" r="2.2"/><circle cx="215.7" cy="374.3" r="2.2"/><circle cx="210.4" cy="404.6" r="2.2"/><circle cx="219.5" cy="394.7" r="2.2"/><circle cx="222.4" cy="393.9" r="2.2"/><circle cx="222.8" cy="387.2" r="2.2"/><circle cx="224.9" cy="399.4" r="2.2"/><circle cx="226.6" cy="390.7" r="2.2"/><circle cx="228.1" cy="391.7" r="2.2"/><circle cx="226.9" cy="383.8" r="2.2"/><circle cx="53.7" cy="382.8" r="2.2"/><circle cx="56.4" cy="390.8" r="2.2"/><circle cx="66.7" cy="397.6" r="2.2"/><circle cx="70.6" cy="389.2" r="2.2"/><circle cx="74.7" cy="384.6" r="2.2"/><circle cx="75.8" cy="409.7" r="2.2"/><circle cx="81.5" cy="381" r="2.2"/><circle cx="83.3" cy="389.2" r="2.2"/><circle cx="87.2" cy="394.9" r="2.2"/><circle cx="90.2" cy="409" r="2.2"/><circle cx="93.6" cy="380" r="2.2"/><circle cx="95.7" cy="394.9" r="2.2"/><circle cx="98.2" cy="412.9" r="2.2"/><circle cx="112.3" cy="396.9" r="2.2"/><circle cx="115.3" cy="388" r="2.2"/><circle cx="116.2" cy="372" r="2.2"/><circle cx="117.6" cy="406.3" r="2.2"/><circle cx="118.5" cy="369.8" r="2.2"/><circle cx="124.9" cy="372" r="2.2"/><circle cx="127.2" cy="382.8" r="2.2"/><circle cx="129" cy="368.6" r="2.2"/><circle cx="337.4" cy="384" r="2.2"/><circle cx="352.5" cy="370.4" r="2.2"/><circle cx="357.9" cy="378.1" r="2.2"/><circle cx="239.6" cy="398.6" r="2.2"/><circle cx="241.1" cy="390.8" r="2.2"/><circle cx="242" cy="384.7" r="2.2"/><circle cx="242" cy="390.1" r="2.2"/><circle cx="245.9" cy="375.9" r="2.2"/><circle cx="247.3" cy="397.8" r="2.2"/><circle cx="248.2" cy="387.8" r="2.2"/><circle cx="249.3" cy="401.6" r="2.2"/><circle cx="250" cy="380.8" r="2.2"/><circle cx="250.8" cy="403.2" r="2.2"/><circle cx="251.3" cy="395.5" r="2.2"/><circle cx="252.3" cy="386.2" r="2.2"/><circle cx="253.1" cy="383.9" r="2.2"/><circle cx="254.2" cy="375.4" r="2.2"/><circle cx="254.7" cy="381.6" r="2.2"/><circle cx="257.7" cy="395.5" r="2.2"/><circle cx="258.5" cy="383.9" r="2.2"/><circle cx="259.3" cy="380.1" r="2.2"/><circle cx="260" cy="399.3" r="2.2"/><circle cx="260.8" cy="398.6" r="2.2"/><circle cx="263.1" cy="364.7" r="2.2"/><circle cx="264.2" cy="361.6" r="2.2"/><circle cx="265.4" cy="363.1" r="2.2"/><circle cx="266.7" cy="373.1" r="2.2"/><circle cx="272.8" cy="372.7" r="2.2"/><circle cx="278.1" cy="370" r="2.2"/><circle cx="279" cy="395.5" r="2.2"/><circle cx="280.1" cy="389.3" r="2.2"/><circle cx="281.6" cy="386.2" r="2.2"/><circle cx="282.4" cy="373.1" r="2.2"/><circle cx="283.2" cy="380.1" r="2.2"/><circle cx="283.9" cy="377" r="2.2"/><circle cx="284.7" cy="384.7" r="2.2"/><circle cx="285.5" cy="386.2" r="2.2"/><circle cx="288.6" cy="390.1" r="2.2"/><circle cx="289.3" cy="375.4" r="2.2"/><circle cx="290.1" cy="384.7" r="2.2"/><circle cx="290.9" cy="370.8" r="2.2"/><circle cx="291.6" cy="365.4" r="2.2"/><circle cx="292.4" cy="377" r="2.2"/><circle cx="293.5" cy="380.1" r="2.2"/><circle cx="295.5" cy="389.3" r="2.2"/><circle cx="296.3" cy="373.9" r="2.2"/><circle cx="297.8" cy="373.9" r="2.2"/><circle cx="299.3" cy="373.1" r="2.2"/><circle cx="301.2" cy="370" r="2.2"/><circle cx="302.4" cy="359.7" r="2.2"/><circle cx="304" cy="383.9" r="2.2"/><circle cx="305.2" cy="380.1" r="2.2"/><circle cx="307" cy="368.5" r="2.2"/><circle cx="308.6" cy="358.5" r="2.2"/><circle cx="310.1" cy="370.8" r="2.2"/><circle cx="311.2" cy="378.2" r="2.2"/><circle cx="325.5" cy="390.8" r="2.2"/><circle cx="328.6" cy="384.7" r="2.2"/></g></g>
<g clip-path="url(#ca4)"><path d="M49.9 479.4V490.4M50.4 499.4V510M51.5 480.7V491.3M52.2 480V492.9M53.1 491.9V505.9M53.8 496.1V510.8M55 478.5V487.6M55.6 481.6V490.8M49.8 475.8V486.1M56.6 481.9V493.6M57.9 503.5V515.4M58.5 482.6V492.8M59.6 485V498.6M60.2 499.4V510.2M60.8 501V513.8M61.7 477.4V492.5M62.3 483.7V494.9M63.2 508.3V521.3M64.4 485.4V496.8M64.6 493.4V507.3M65.3 483.8V497.3M66.7 497.8V509.1M67.2 494.7V502.1M68.5 482V489.3M69 482.9V492.5M70 490.2V502.7M70.5 506.7V514.3M71.6 485.8V496M72.1 478.2V493M71.1 477.4V485.4M69.9 510.4V523M72.8 496.6V506.9M74.1 499.7V514.8M75 499.4V506.6M76.1 479V493.5M77.1 493V502.5M78.2 498.7V507.6M79.6 492.5V506.8M84 485.3V498.5M85.2 481.2V495.5M88.4 492.4V507.4M88.8 479.4V492.7M93.2 478.2V492M95.2 484.8V498.5M89.6 486.9V501.8M123 480V493.1M123.4 473.7V488.7M125.3 482.2V493.1M126.1 469.3V479.2M123.2 489.9V496.9M127.1 474.9V485.2M127.8 468.7V483.4M128.6 472.3V485.6M130.3 472.9V484.5M131.5 467.9V481.9M132.8 459.3V471.3M133.9 467.4V474.6M134.3 470.4V479.4M126.4 459.5V465.3M128.5 481.6V488.8M135.3 459.5V474.3M137 461.6V475.4M138.1 466.5V476.6M139.2 463.1V475.6M140.4 470.1V479.1M141 469.2V488.8M142.3 451.4V465.8M142.8 462.8V470.2M144.1 459.9V468.1M145.1 463.4V472.9M145.8 462.9V475.9M147.5 466.4V476M147.8 472.1V505M148.8 467.5V478.4M149.6 470V483.7M152.1 470.1V484.6M152.9 475.6V488.6M153.9 466V482.4M155.4 479.3V489.9M156.9 481.9V494M158.1 484.9V498.5M159.2 476.5V484.5M160.1 477.8V488M161.7 482.1V495.4M163.4 478.4V492.8M164.6 474.1V486.9M165 461.1V477.5M166.4 483.5V490.8M168.2 478.4V485.7M169.3 483.8V492.1M170.9 486V494.8M172.5 474.9V484.9M173.6 473.4V483.8M168.4 470.9V476M171.7 490.9V500.2M174.6 479.8V491M177 485.4V498.6M178.3 483.6V492.7M179.1 487.6V497.3M180.6 480.4V494.6M177.5 475.8V482.5M178.6 496.3V503.4M183 493.3V501.9M184.4 485.8V500.8M184.8 489V500.2M185.9 472.5V488.7M187.9 497.4V504.8M188.5 488.2V499.7M189.8 491V499.7M190.2 494.6V514.8M192.4 481.1V494.2M193.9 479.2V489.9M195.1 488.9V497.9M194 475.8V486.8M191 492V508.3M204.1 492.9V507.4M205.5 503V512.2M206.7 506.8V514.6M209.3 508.4V517.2M209.9 499.6V507.5M213 495.9V504.2M213.1 507.3V519.1M214.8 490.4V503.9M213.6 511.3V526.2M219.6 496.8V505M220.6 493.7V506M221.5 511.9V525.4M222.4 501.3V512.3M223.6 500.1V510.5M223.7 511.8V525.2M224.9 510.3V520.3M225.9 495.9V502.9M226.5 508.6V520.2M227.2 505.1V512.4M228 514V521.1M228.6 502.9V513.1M229.7 492V503.9M227.8 482.3V498.2M222.6 517.6V527.8M230.3 506.4V516.1M231.5 508.3V519.9M232.4 513.7V523.7M232.7 499.4V508.4M233.6 491.9V505M234.5 513.8V520.9M235.2 512.9V526.9M235.6 490.1V498.9M235.6 520.4V526.7M236.3 488.6V501.9M237.5 481.1V495.1M238.6 493.1V500.2M240.2 477.4V492.3M240.9 487.2V499.4M241.8 495.5V509.1M242.4 487.7V497.3M238.3 476.6V485.9M240.1 501.6V513.2M243.7 476.6V488.9M244.3 501.4V516M245 482.8V489.9M246.1 506.2V520.2M246.5 496.1V505.7M246.9 495.9V504.5M247.6 509.7V520.8M248.3 494.6V505.7M249.2 499.1V512M249.9 502.8V515.4M250.5 491.9V503.8M250.7 506.1V519.6M250.9 515.9V522.8M251.8 499V510.1M252.2 485V492.7M253.5 479.3V492.2M254.2 480.9V488.3M255.1 499.7V507M256.3 496.9V510.6M257.2 477.7V491.5M258.5 499.2V511.7M259.6 492.4V504.8M260.4 482.5V491.5M261.5 501.7V515.1M261.9 485.8V497.3M253 470.8V492.3M262.7 481.8V491.6M263.9 493.3V500.6M264.6 482.6V492.4M265.6 485.9V496.5M266.1 483.9V491.4M267.1 488.5V497.5M267.9 474.2V481.4M269 471.2V484M269.4 461.2V481.9M270.7 476.3V484.5M271.7 484V494.8M271.9 475.8V487.7M272.8 480.8V494.7M273.8 482.1V492.4M263.7 496.5V505.5M275 486.5V500.5M275.3 477.9V490.8M276.2 481V493.1M276.7 461.3V475.5M278.1 482.1V493.3M278.8 486.8V499.8M279.4 459.3V472.9M279.9 475.5V484.9M281.1 490.5V503.5M281.8 469.4V482.7M282.1 479.6V489M283.4 465.6V479.8M283.6 468.9V481.4M284.7 467.2V479M285.2 481.3V491.7M286.1 467.9V475.6M287.1 466.2V479.8M287.4 483.5V493.8M288.3 471.6V480.9M288.8 488.2V495.3M290 487.1V496.1M290.3 487.5V497.9M291 477.3V491.8M287.2 461.2V471.5M285.3 497.7V505.5M292 458.3V467.6M292.6 473.2V480.5M293.3 452.8V466.6M294.7 478.9V486M294.8 478.7V489.5M296 463.7V478.1M296.5 472.9V484.4M297.2 461.3V476M298.5 480.8V493.6M299 465.9V473.7M297.6 453.5V460.2M296.1 491.7V497.8M301.6 464.5V477.7M303.6 472.6V483.1M304.9 469.9V478.1M305.9 475.6V492M307.4 469.1V480M308.5 469.1V483.4M309.8 475.7V487.6M310.3 463.9V472.8M312.3 475.2V489.4M313.6 465.7V477.5M314.4 470.5V481.5M316.6 478.9V486.3M310.5 461.2V469.1M319.2 476.2V484.3M320.5 467V479.5M318.8 481.6V488.1M322.3 463V471.2M326 451.6V469.7M325.5 467.5V472.7M325.6 488.2V498.4M326.7 483.5V493.2M329.1 489.3V500.7M333 490.6V502.3M334.8 484.8V492.7M337.2 492V500.7M330 478.5V489M336.5 495.9V501.6M332 467V488.1M334.3 461.4V473M334.9 459V473.5M337.5 465V473.6M339.9 465.6V473.3M332.7 455.4V463.7M338.3 476.7V491.4M339.9 488.6V500.2M340.1 486.1V495M341.6 471.9V484.4M342.3 489.8V503M343.8 472.9V481.6M344.7 485.8V496.5M346.3 483V492.1M346.6 469.4V483M345.9 468.9V477.9M342.6 496.4V503.5M346.5 488.6V497.2M348.7 485.5V493.6M348.8 473.8V487.8M350.8 484.6V497.2M352.3 479.2V488.2M353.8 477.4V489.9M350.8 474.7V479.6M350.9 493.6V497.8M353.3 486.3V499M354.6 491.6V505.5M355.3 501.4V513.5M356.2 487.6V496.6M356.8 496.4V507.8M357.3 499.4V511.6M358.2 494.8V504.2M358.9 508.1V519M359.8 495.6V506.7M360.5 478.8V492.2M361 488.5V498.7M361.9 503V516.6M362.5 474.7V487.3M81 506V523.8M83 499V514M110.1 460.3V481.5M108.4 487.2V512.4M199.9 474V489M204.4 472V486M197.6 501V516M203.3 503V518" stroke="#000" stroke-width="1.7" fill="none"/>
<g fill="#000"><circle cx="49.9" cy="484.9" r="2.2"/><circle cx="50.4" cy="503.7" r="2.2"/><circle cx="51.5" cy="486" r="2.2"/><circle cx="52.2" cy="486.5" r="2.2"/><circle cx="53.1" cy="498.9" r="2.2"/><circle cx="53.8" cy="503.4" r="2.2"/><circle cx="55" cy="483.1" r="2.2"/><circle cx="55.6" cy="486.2" r="2.2"/><circle cx="49.8" cy="481.5" r="2.2"/><circle cx="56.6" cy="487.8" r="2.2"/><circle cx="57.9" cy="509.5" r="2.2"/><circle cx="58.5" cy="487.7" r="2.2"/><circle cx="59.6" cy="491.8" r="2.2"/><circle cx="60.2" cy="504.8" r="2.2"/><circle cx="60.8" cy="507.4" r="2.2"/><circle cx="61.7" cy="487.2" r="2.2"/><circle cx="62.3" cy="489.3" r="2.2"/><circle cx="63.2" cy="513" r="2.2"/><circle cx="64.4" cy="491.1" r="2.2"/><circle cx="64.6" cy="500.4" r="2.2"/><circle cx="65.3" cy="490.6" r="2.2"/><circle cx="66.7" cy="503.4" r="2.2"/><circle cx="67.2" cy="498.4" r="2.2"/><circle cx="68.5" cy="485.7" r="2.2"/><circle cx="69" cy="487.7" r="2.2"/><circle cx="70" cy="496.4" r="2.2"/><circle cx="70.5" cy="510.5" r="2.2"/><circle cx="71.6" cy="490.9" r="2.2"/><circle cx="72.1" cy="485.6" r="2.2"/><circle cx="71.1" cy="481.9" r="2.2"/><circle cx="69.9" cy="516" r="2.2"/><circle cx="72.8" cy="501.8" r="2.2"/><circle cx="74.1" cy="506.6" r="2.2"/><circle cx="75" cy="503" r="2.2"/><circle cx="76.1" cy="487.3" r="2.2"/><circle cx="77.1" cy="497.7" r="2.2"/><circle cx="78.2" cy="503.1" r="2.2"/><circle cx="79.6" cy="499.7" r="2.2"/><circle cx="84" cy="491.9" r="2.2"/><circle cx="85.2" cy="488.4" r="2.2"/><circle cx="88.4" cy="499.9" r="2.2"/><circle cx="88.8" cy="486.1" r="2.2"/><circle cx="93.2" cy="485.7" r="2.2"/><circle cx="95.2" cy="491.7" r="2.2"/><circle cx="89.6" cy="493.5" r="2.2"/><circle cx="123" cy="486.5" r="2.2"/><circle cx="123.4" cy="481.2" r="2.2"/><circle cx="125.3" cy="487.7" r="2.2"/><circle cx="126.1" cy="474.8" r="2.2"/><circle cx="123.2" cy="493" r="2.2"/><circle cx="127.1" cy="480.1" r="2.2"/><circle cx="127.8" cy="476" r="2.2"/><circle cx="128.6" cy="478.9" r="2.2"/><circle cx="130.3" cy="478.7" r="2.2"/><circle cx="131.5" cy="474.9" r="2.2"/><circle cx="132.8" cy="465.3" r="2.2"/><circle cx="133.9" cy="471" r="2.2"/><circle cx="134.3" cy="474.9" r="2.2"/><circle cx="126.4" cy="462.7" r="2.2"/><circle cx="128.5" cy="484.8" r="2.2"/><circle cx="135.3" cy="467.9" r="2.2"/><circle cx="137" cy="468.5" r="2.2"/><circle cx="138.1" cy="471.6" r="2.2"/><circle cx="139.2" cy="469.3" r="2.2"/><circle cx="140.4" cy="474.6" r="2.2"/><circle cx="141" cy="474.6" r="2.2"/><circle cx="142.3" cy="459.6" r="2.2"/><circle cx="142.8" cy="466.5" r="2.2"/><circle cx="144.1" cy="464" r="2.2"/><circle cx="145.1" cy="468.2" r="2.2"/><circle cx="145.8" cy="469.4" r="2.2"/><circle cx="147.5" cy="471.2" r="2.2"/><circle cx="147.8" cy="476.3" r="2.2"/><circle cx="148.8" cy="472.9" r="2.2"/><circle cx="149.6" cy="476.9" r="2.2"/><circle cx="152.1" cy="477.3" r="2.2"/><circle cx="152.9" cy="482.1" r="2.2"/><circle cx="153.9" cy="475.5" r="2.2"/><circle cx="155.4" cy="484.6" r="2.2"/><circle cx="156.9" cy="487.9" r="2.2"/><circle cx="158.1" cy="490.9" r="2.2"/><circle cx="159.2" cy="480.5" r="2.2"/><circle cx="160.1" cy="482.9" r="2.2"/><circle cx="161.7" cy="488.8" r="2.2"/><circle cx="163.4" cy="485.6" r="2.2"/><circle cx="164.6" cy="480.5" r="2.2"/><circle cx="165" cy="474" r="2.2"/><circle cx="166.4" cy="487.2" r="2.2"/><circle cx="168.2" cy="482.1" r="2.2"/><circle cx="169.3" cy="488" r="2.2"/><circle cx="170.9" cy="490.4" r="2.2"/><circle cx="172.5" cy="479.9" r="2.2"/><circle cx="173.6" cy="478.6" r="2.2"/><circle cx="168.4" cy="473.7" r="2.2"/><circle cx="171.7" cy="495.1" r="2.2"/><circle cx="174.6" cy="485.4" r="2.2"/><circle cx="177" cy="492" r="2.2"/><circle cx="178.3" cy="488.1" r="2.2"/><circle cx="179.1" cy="492.4" r="2.2"/><circle cx="180.6" cy="487.5" r="2.2"/><circle cx="177.5" cy="479.5" r="2.2"/><circle cx="178.6" cy="499.5" r="2.2"/><circle cx="183" cy="497.6" r="2.2"/><circle cx="184.4" cy="493.3" r="2.2"/><circle cx="184.8" cy="494.6" r="2.2"/><circle cx="185.9" cy="484.8" r="2.2"/><circle cx="187.9" cy="501.1" r="2.2"/><circle cx="188.5" cy="493.9" r="2.2"/><circle cx="189.8" cy="495.3" r="2.2"/><circle cx="190.2" cy="503.6" r="2.2"/><circle cx="192.4" cy="487.6" r="2.2"/><circle cx="193.9" cy="484.6" r="2.2"/><circle cx="195.1" cy="493.4" r="2.2"/><circle cx="194" cy="481.9" r="2.2"/><circle cx="191" cy="499.2" r="2.2"/><circle cx="204.1" cy="500.2" r="2.2"/><circle cx="205.5" cy="507.6" r="2.2"/><circle cx="206.7" cy="510.7" r="2.2"/><circle cx="209.3" cy="512.8" r="2.2"/><circle cx="209.9" cy="503.6" r="2.2"/><circle cx="213" cy="500.1" r="2.2"/><circle cx="213.1" cy="513.2" r="2.2"/><circle cx="214.8" cy="498.7" r="2.2"/><circle cx="213.6" cy="517.9" r="2.2"/><circle cx="219.6" cy="500.9" r="2.2"/><circle cx="220.6" cy="499.8" r="2.2"/><circle cx="221.5" cy="518.6" r="2.2"/><circle cx="222.4" cy="506.8" r="2.2"/><circle cx="223.6" cy="505.3" r="2.2"/><circle cx="223.7" cy="518.5" r="2.2"/><circle cx="224.9" cy="515.3" r="2.2"/><circle cx="225.9" cy="499.4" r="2.2"/><circle cx="226.5" cy="514.4" r="2.2"/><circle cx="227.2" cy="508.8" r="2.2"/><circle cx="228" cy="517.5" r="2.2"/><circle cx="228.6" cy="508" r="2.2"/><circle cx="229.7" cy="498" r="2.2"/><circle cx="227.8" cy="491.1" r="2.2"/><circle cx="222.6" cy="522.1" r="2.2"/><circle cx="230.3" cy="511.3" r="2.2"/><circle cx="231.5" cy="514.1" r="2.2"/><circle cx="232.4" cy="518.7" r="2.2"/><circle cx="232.7" cy="503.9" r="2.2"/><circle cx="233.6" cy="498.5" r="2.2"/><circle cx="234.5" cy="517.3" r="2.2"/><circle cx="235.2" cy="519.9" r="2.2"/><circle cx="235.6" cy="495" r="2.2"/><circle cx="235.6" cy="523.2" r="2.2"/><circle cx="236.3" cy="495.3" r="2.2"/><circle cx="237.5" cy="488.1" r="2.2"/><circle cx="238.6" cy="496.6" r="2.2"/><circle cx="240.2" cy="484.8" r="2.2"/><circle cx="240.9" cy="493.3" r="2.2"/><circle cx="241.8" cy="502.3" r="2.2"/><circle cx="242.4" cy="492.5" r="2.2"/><circle cx="238.3" cy="481.8" r="2.2"/><circle cx="240.1" cy="506.7" r="2.2"/><circle cx="243.7" cy="484.6" r="2.2"/><circle cx="244.3" cy="508.7" r="2.2"/><circle cx="245" cy="486.4" r="2.2"/><circle cx="246.1" cy="513.2" r="2.2"/><circle cx="246.5" cy="500.9" r="2.2"/><circle cx="246.9" cy="500.2" r="2.2"/><circle cx="247.6" cy="515.2" r="2.2"/><circle cx="248.3" cy="500.1" r="2.2"/><circle cx="249.2" cy="505.5" r="2.2"/><circle cx="249.9" cy="509.1" r="2.2"/><circle cx="250.5" cy="497.9" r="2.2"/><circle cx="250.7" cy="512.8" r="2.2"/><circle cx="250.9" cy="519" r="2.2"/><circle cx="251.8" cy="504.5" r="2.2"/><circle cx="252.2" cy="488.9" r="2.2"/><circle cx="253.5" cy="485.8" r="2.2"/><circle cx="254.2" cy="484.6" r="2.2"/><circle cx="255.1" cy="503.4" r="2.2"/><circle cx="256.3" cy="503.8" r="2.2"/><circle cx="257.2" cy="484.6" r="2.2"/><circle cx="258.5" cy="505.5" r="2.2"/><circle cx="259.6" cy="498.6" r="2.2"/><circle cx="260.4" cy="487" r="2.2"/><circle cx="261.5" cy="505.9" r="2.2"/><circle cx="261.9" cy="491.6" r="2.2"/><circle cx="253" cy="482.7" r="2.2"/><circle cx="262.7" cy="486.7" r="2.2"/><circle cx="263.9" cy="497" r="2.2"/><circle cx="264.6" cy="487.5" r="2.2"/><circle cx="265.6" cy="491.2" r="2.2"/><circle cx="266.1" cy="487.6" r="2.2"/><circle cx="267.1" cy="493" r="2.2"/><circle cx="267.9" cy="477.8" r="2.2"/><circle cx="269" cy="477.6" r="2.2"/><circle cx="269.4" cy="475.9" r="2.2"/><circle cx="270.7" cy="480.4" r="2.2"/><circle cx="271.7" cy="489.4" r="2.2"/><circle cx="271.9" cy="481.7" r="2.2"/><circle cx="272.8" cy="487.8" r="2.2"/><circle cx="273.8" cy="487.2" r="2.2"/><circle cx="263.7" cy="500.5" r="2.2"/><circle cx="275" cy="493.5" r="2.2"/><circle cx="275.3" cy="484.4" r="2.2"/><circle cx="276.2" cy="487.1" r="2.2"/><circle cx="276.7" cy="468.4" r="2.2"/><circle cx="278.1" cy="487.7" r="2.2"/><circle cx="278.8" cy="493.3" r="2.2"/><circle cx="279.4" cy="468.4" r="2.2"/><circle cx="279.9" cy="480.2" r="2.2"/><circle cx="281.1" cy="495.6" r="2.2"/><circle cx="281.8" cy="476" r="2.2"/><circle cx="282.1" cy="484.3" r="2.2"/><circle cx="283.4" cy="472.7" r="2.2"/><circle cx="283.6" cy="475.2" r="2.2"/><circle cx="284.7" cy="473.1" r="2.2"/><circle cx="285.2" cy="486.5" r="2.2"/><circle cx="286.1" cy="471.8" r="2.2"/><circle cx="287.1" cy="473" r="2.2"/><circle cx="287.4" cy="488.6" r="2.2"/><circle cx="288.3" cy="476.2" r="2.2"/><circle cx="288.8" cy="491.7" r="2.2"/><circle cx="290" cy="491.6" r="2.2"/><circle cx="290.3" cy="492.7" r="2.2"/><circle cx="291" cy="484.6" r="2.2"/><circle cx="287.2" cy="466.9" r="2.2"/><circle cx="285.3" cy="501.2" r="2.2"/><circle cx="292" cy="462.9" r="2.2"/><circle cx="292.6" cy="476.8" r="2.2"/><circle cx="293.3" cy="459.7" r="2.2"/><circle cx="294.7" cy="482.5" r="2.2"/><circle cx="294.8" cy="484.1" r="2.2"/><circle cx="296" cy="470.9" r="2.2"/><circle cx="296.5" cy="478.6" r="2.2"/><circle cx="297.2" cy="468.7" r="2.2"/><circle cx="298.5" cy="487.2" r="2.2"/><circle cx="299" cy="469.8" r="2.2"/><circle cx="297.6" cy="457.2" r="2.2"/><circle cx="296.1" cy="494.4" r="2.2"/><circle cx="301.6" cy="471.1" r="2.2"/><circle cx="303.6" cy="477.9" r="2.2"/><circle cx="304.9" cy="474" r="2.2"/><circle cx="305.9" cy="482.7" r="2.2"/><circle cx="307.4" cy="474.6" r="2.2"/><circle cx="308.5" cy="476.3" r="2.2"/><circle cx="309.8" cy="481.6" r="2.2"/><circle cx="310.3" cy="468.4" r="2.2"/><circle cx="312.3" cy="482.3" r="2.2"/><circle cx="313.6" cy="471.6" r="2.2"/><circle cx="314.4" cy="476" r="2.2"/><circle cx="316.6" cy="482.6" r="2.2"/><circle cx="310.5" cy="465.6" r="2.2"/><circle cx="319.2" cy="480.2" r="2.2"/><circle cx="320.5" cy="475.1" r="2.2"/><circle cx="318.8" cy="484.5" r="2.2"/><circle cx="322.3" cy="467.1" r="2.2"/><circle cx="326" cy="464.3" r="2.2"/><circle cx="325.5" cy="469.8" r="2.2"/><circle cx="325.6" cy="493.3" r="2.2"/><circle cx="326.7" cy="488.4" r="2.2"/><circle cx="329.1" cy="495" r="2.2"/><circle cx="333" cy="496.5" r="2.2"/><circle cx="334.8" cy="488.7" r="2.2"/><circle cx="337.2" cy="496.3" r="2.2"/><circle cx="330" cy="484.3" r="2.2"/><circle cx="336.5" cy="498.4" r="2.2"/><circle cx="332" cy="473.8" r="2.2"/><circle cx="334.3" cy="467.2" r="2.2"/><circle cx="334.9" cy="466.2" r="2.2"/><circle cx="337.5" cy="469.3" r="2.2"/><circle cx="339.9" cy="469.4" r="2.2"/><circle cx="332.7" cy="460" r="2.2"/><circle cx="338.3" cy="484" r="2.2"/><circle cx="339.9" cy="494.4" r="2.2"/><circle cx="340.1" cy="490.6" r="2.2"/><circle cx="341.6" cy="478.1" r="2.2"/><circle cx="342.3" cy="496.4" r="2.2"/><circle cx="343.8" cy="477.3" r="2.2"/><circle cx="344.7" cy="491.1" r="2.2"/><circle cx="346.3" cy="487.6" r="2.2"/><circle cx="346.6" cy="476.2" r="2.2"/><circle cx="345.9" cy="473.9" r="2.2"/><circle cx="342.6" cy="499.6" r="2.2"/><circle cx="346.5" cy="492.9" r="2.2"/><circle cx="348.7" cy="489.5" r="2.2"/><circle cx="348.8" cy="480.8" r="2.2"/><circle cx="350.8" cy="490.9" r="2.2"/><circle cx="352.3" cy="483.7" r="2.2"/><circle cx="353.8" cy="483.6" r="2.2"/><circle cx="350.8" cy="477.4" r="2.2"/><circle cx="350.9" cy="495.5" r="2.2"/><circle cx="353.3" cy="492.6" r="2.2"/><circle cx="354.6" cy="498.5" r="2.2"/><circle cx="355.3" cy="507.4" r="2.2"/><circle cx="356.2" cy="492.1" r="2.2"/><circle cx="356.8" cy="502.1" r="2.2"/><circle cx="357.3" cy="505.5" r="2.2"/><circle cx="358.2" cy="499.5" r="2.2"/><circle cx="358.9" cy="512.2" r="2.2"/><circle cx="359.8" cy="501.2" r="2.2"/><circle cx="360.5" cy="485.5" r="2.2"/><circle cx="361" cy="493.6" r="2.2"/><circle cx="361.9" cy="509.8" r="2.2"/><circle cx="362.5" cy="483.6" r="2.2"/><circle cx="81" cy="514.8" r="2.2"/><circle cx="83" cy="506.7" r="2.2"/><circle cx="110.1" cy="471.1" r="2.2"/><circle cx="108.4" cy="499.4" r="2.2"/><circle cx="199.9" cy="481.5" r="2.2"/><circle cx="204.4" cy="478.2" r="2.2"/><circle cx="197.6" cy="509.1" r="2.2"/><circle cx="203.3" cy="510.7" r="2.2"/></g></g>
<g clip-path="url(#cb0)"><path d="M421.7 69.2V85.3M426.3 72.9V94.6M430.8 64.6V94.6M435.6 82.2V98.8M440.1 87.4V99.8M444.9 89.5V101.9M449.4 70.9V99.8M454.2 71.9V98.8M458.8 70.9V96.7M463.5 67.8V100.9M468.1 64.6V85.3M472.8 59.5V83.3M477.4 60.5V78.1M482.1 56.4V79.1M486.7 36.7V65.7M491.4 39.8V64.6M496 46V64.6M500.7 35.7V59.5M505.3 23.3V46M510.1 33.6V56.4M514.2 35.7V68.8M519 47.1V65.7M523.5 54.3V63.6M528.1 49.1V63.6M532.8 53.3V71.9M537.4 51.2V69.8M542.1 48.1V84.3M546.7 52.2V75M551.4 52.2V69.8M556 52.2V70.9M560.6 53.3V77.1M565.3 55.3V75M569.9 53.3V77.1M574.6 62.6V77.1M579.2 67.8V82.2M583.9 46V82.2M588.5 51.2V76M593.2 48.1V64.6M597.8 52.2V70.9M602.5 37.8V63.6M607.1 37.8V60.5M611.9 41.9V59.5M616.4 30.5V59.5M621.2 31.5V52.2M625.7 35.7V54.3M630.5 37.8V53.3M635 37.8V54.3M639.8 37.8V60.5M644.3 26.4V56.4M649.1 33.6V58.4M653.6 41.9V70.9M658.4 44V68.8M663 37.8V69.8M667.7 52.2V72.9M672.3 52.2V77.1M677 60.5V85.3M681.6 60.5V86.4M685.7 77.1V94.6M690.5 71.9V94.6M694.6 85.3V95.7M699.8 77.1V91.5" stroke="#000" stroke-width="1.7" fill="none"/>
<g fill="#000"><circle cx="421.7" cy="77.1" r="2.2"/><circle cx="426.3" cy="83.3" r="2.2"/><circle cx="430.8" cy="80.2" r="2.2"/><circle cx="435.6" cy="90.5" r="2.2"/><circle cx="440.1" cy="93.6" r="2.2"/><circle cx="444.9" cy="96.7" r="2.2"/><circle cx="449.4" cy="85.7" r="2.2"/><circle cx="454.2" cy="85.3" r="2.2"/><circle cx="458.8" cy="84.3" r="2.2"/><circle cx="463.5" cy="84.3" r="2.2"/><circle cx="468.1" cy="75" r="2.2"/><circle cx="472.8" cy="71.9" r="2.2"/><circle cx="477.4" cy="68.8" r="2.2"/><circle cx="482.1" cy="67.8" r="2.2"/><circle cx="486.7" cy="51.8" r="2.2"/><circle cx="491.4" cy="51.8" r="2.2"/><circle cx="496" cy="55.3" r="2.2"/><circle cx="500.7" cy="48.1" r="2.2"/><circle cx="505.3" cy="34.7" r="2.2"/><circle cx="510.1" cy="44" r="2.2"/><circle cx="514.2" cy="51.8" r="2.2"/><circle cx="519" cy="56.4" r="2.2"/><circle cx="523.5" cy="59.5" r="2.2"/><circle cx="528.1" cy="56.4" r="2.2"/><circle cx="532.8" cy="62.6" r="2.2"/><circle cx="537.4" cy="61.5" r="2.2"/><circle cx="542.1" cy="65.7" r="2.2"/><circle cx="546.7" cy="62.6" r="2.2"/><circle cx="551.4" cy="61.5" r="2.2"/><circle cx="556" cy="62.2" r="2.2"/><circle cx="560.6" cy="65.1" r="2.2"/><circle cx="565.3" cy="65.1" r="2.2"/><circle cx="569.9" cy="65.1" r="2.2"/><circle cx="574.6" cy="70.4" r="2.2"/><circle cx="579.2" cy="77.1" r="2.2"/><circle cx="583.9" cy="63.6" r="2.2"/><circle cx="588.5" cy="63.6" r="2.2"/><circle cx="593.2" cy="56.4" r="2.2"/><circle cx="597.8" cy="60.5" r="2.2"/><circle cx="602.5" cy="50.6" r="2.2"/><circle cx="607.1" cy="49.1" r="2.2"/><circle cx="611.9" cy="51.2" r="2.2"/><circle cx="616.4" cy="44" r="2.2"/><circle cx="621.2" cy="40.2" r="2.2"/><circle cx="625.7" cy="46" r="2.2"/><circle cx="630.5" cy="45.6" r="2.2"/><circle cx="635" cy="45.6" r="2.2"/><circle cx="639.8" cy="48.5" r="2.2"/><circle cx="644.3" cy="41.9" r="2.2"/><circle cx="649.1" cy="47.1" r="2.2"/><circle cx="653.6" cy="53.3" r="2.2"/><circle cx="658.4" cy="56.8" r="2.2"/><circle cx="663" cy="53.3" r="2.2"/><circle cx="667.7" cy="63" r="2.2"/><circle cx="672.3" cy="64.6" r="2.2"/><circle cx="677" cy="71.9" r="2.2"/><circle cx="681.6" cy="75" r="2.2"/><circle cx="685.7" cy="86.4" r="2.2"/><circle cx="690.5" cy="83.3" r="2.2"/><circle cx="694.6" cy="91.1" r="2.2"/><circle cx="699.8" cy="83.7" r="2.2"/></g>
<path d="M422.0 86.7 L424.0 87.7 L426.0 88.6 L428.0 89.4 L430.0 90.1 L432.0 90.6 L433.9 91.0 L435.9 91.3 L437.9 91.5 L439.9 91.5 L441.9 91.4 L443.9 91.2 L445.9 90.9 L447.9 90.4 L449.9 89.8 L451.9 89.1 L453.9 88.2 L455.9 87.3 L457.8 86.2 L459.8 85.0 L461.8 83.7 L463.8 82.3 L465.8 80.9 L467.8 79.3 L469.8 77.7 L471.8 76.1 L473.8 74.4 L475.8 72.7 L477.8 71.1 L479.7 69.4 L481.7 67.8 L483.7 66.2 L485.7 64.6 L487.7 63.1 L489.7 61.6 L491.7 60.0 L493.7 58.5 L495.7 57.1 L497.7 55.6 L499.7 54.1 L501.7 52.6 L503.6 51.2 L505.6 49.9 L507.6 48.9 L509.6 48.4 L511.6 48.3 L513.6 48.6 L515.6 49.3 L517.6 50.1 L519.6 51.2 L521.6 52.3 L523.6 53.4 L525.6 54.6 L527.5 55.7 L529.5 56.8 L531.5 57.9 L533.5 59.1 L535.5 60.1 L537.5 61.2 L539.5 62.3 L541.5 63.3 L543.5 64.3 L545.5 65.2 L547.5 66.1 L549.4 67.0 L551.4 67.8 L553.4 68.4 L555.4 69.0 L557.4 69.5 L559.4 69.9 L561.4 70.2 L563.4 70.4 L565.4 70.4 L567.4 70.3 L569.4 70.0 L571.4 69.6 L573.3 69.1 L575.3 68.4 L577.3 67.5 L579.3 66.5 L581.3 65.3 L583.3 64.1 L585.3 62.7 L587.3 61.3 L589.3 59.9 L591.3 58.5 L593.3 57.1 L595.2 55.7 L597.2 54.4 L599.2 53.2 L601.2 52.1 L603.2 51.1 L605.2 50.2 L607.2 49.3 L609.2 48.6 L611.2 47.9 L613.2 47.3 L615.2 46.7 L617.2 46.2 L619.1 45.8 L621.1 45.4 L623.1 45.1 L625.1 44.8 L627.1 44.6 L629.1 44.5 L631.1 44.5 L633.1 44.7 L635.1 44.9 L637.1 45.2 L639.1 45.7 L641.1 46.3 L643.0 47.0 L645.0 47.8 L647.0 48.8 L649.0 49.8 L651.0 50.9 L653.0 52.1 L655.0 53.4 L657.0 54.7 L659.0 56.1 L661.0 57.5 L663.0 59.0 L664.9 60.5 L666.9 62.1 L668.9 63.7 L670.9 65.3 L672.9 66.9 L674.9 68.6 L676.9 70.2 L678.9 71.9 L680.9 73.5 L682.9 75.2 L684.9 76.8 L686.9 78.4 L688.8 80.0 L690.8 81.5 L692.8 82.9 L694.8 84.3 L696.8 85.6 L698.8 86.7" stroke="#f0f" stroke-width="2.6" fill="none"/></g>
<g clip-path="url(#cb1)"><path d="M421.7 184.1V197.6M426.3 182.1V196.5M430.8 181V201.7M435.6 177.9V204.8M440.1 184.1V196.5M444.9 184.1V202.7M449.4 183.1V201.7M454.2 182.1V203.8M458.8 176.9V201.7M463.5 177.9V191.4M468.1 172.8V189.3M472.8 168.6V188.3M477.4 163.4V179M482.1 171.7V193.4M486.7 157.2V181M491.4 155.2V177.9M496 153.1V169.6M500.7 146.9V161.4M505.3 153.1V167.6M510.1 145.9V165.5M514.6 144.8V166.5M519 143.8V164.5M523.5 144.8V164.5M528.1 152.1V165.5M532.8 145.9V169.6M537.4 156.2V171.7M542.1 155.2V176.9M546.7 161.4V174.8M551.4 166.5V174.8M556 163.4V174.8M560.6 163.4V177.9M565.3 166.5V183.1M569.9 166.5V175.9M574.6 166.5V184.1M579.2 163.4V180M583.9 161.4V177.9M588.5 166.5V181M593.2 155.2V174.8M597.8 157.2V172.8M602.5 155.2V171.7M607.1 152.1V168.6M611.9 144.8V172.8M616.4 143.8V161.4M621.2 142.8V159.3M625.7 143.8V164.5M630.5 140.7V161.4M635 143.8V158.3M639.8 141.7V156.2M644.3 146.9V159.3M648.5 147.9V164.5M653.2 143.8V158.3M657.8 147.9V166.5M662.5 150V167.6M667.1 153.1V169.6M671.8 161.4V173.8M676.4 164.5V181M681.2 164.5V186.2M685.7 170.7V185.2M690.5 173.8V190.3M695 174.8V192.4M699.2 185.2V195.5" stroke="#000" stroke-width="1.7" fill="none"/>
<g fill="#000"><circle cx="421.7" cy="191.4" r="2.2"/><circle cx="426.3" cy="188.3" r="2.2"/><circle cx="430.8" cy="191.4" r="2.2"/><circle cx="435.6" cy="191.4" r="2.2"/><circle cx="440.1" cy="189.9" r="2.2"/><circle cx="444.9" cy="193.4" r="2.2"/><circle cx="449.4" cy="192.4" r="2.2"/><circle cx="454.2" cy="192.8" r="2.2"/><circle cx="458.8" cy="189.3" r="2.2"/><circle cx="463.5" cy="184.1" r="2.2"/><circle cx="468.1" cy="181" r="2.2"/><circle cx="472.8" cy="177.9" r="2.2"/><circle cx="477.4" cy="171.3" r="2.2"/><circle cx="482.1" cy="182.1" r="2.2"/><circle cx="486.7" cy="169.6" r="2.2"/><circle cx="491.4" cy="166.5" r="2.2"/><circle cx="496" cy="160.3" r="2.2"/><circle cx="500.7" cy="154.1" r="2.2"/><circle cx="505.3" cy="159.9" r="2.2"/><circle cx="510.1" cy="157.2" r="2.2"/><circle cx="514.6" cy="157.2" r="2.2"/><circle cx="519" cy="154.1" r="2.2"/><circle cx="523.5" cy="155.2" r="2.2"/><circle cx="528.1" cy="158.3" r="2.2"/><circle cx="532.8" cy="157.2" r="2.2"/><circle cx="537.4" cy="163.4" r="2.2"/><circle cx="542.1" cy="166.5" r="2.2"/><circle cx="546.7" cy="168.6" r="2.2"/><circle cx="551.4" cy="171.7" r="2.2"/><circle cx="556" cy="169.6" r="2.2"/><circle cx="560.6" cy="169.6" r="2.2"/><circle cx="565.3" cy="173.8" r="2.2"/><circle cx="569.9" cy="170.7" r="2.2"/><circle cx="574.6" cy="174.8" r="2.2"/><circle cx="579.2" cy="170.7" r="2.2"/><circle cx="583.9" cy="169.6" r="2.2"/><circle cx="588.5" cy="174.2" r="2.2"/><circle cx="593.2" cy="165.5" r="2.2"/><circle cx="597.8" cy="164.5" r="2.2"/><circle cx="602.5" cy="163.4" r="2.2"/><circle cx="607.1" cy="160.3" r="2.2"/><circle cx="611.9" cy="158.3" r="2.2"/><circle cx="616.4" cy="152.1" r="2.2"/><circle cx="621.2" cy="150.6" r="2.2"/><circle cx="625.7" cy="153.1" r="2.2"/><circle cx="630.5" cy="151" r="2.2"/><circle cx="635" cy="151" r="2.2"/><circle cx="639.8" cy="148.5" r="2.2"/><circle cx="644.3" cy="152.1" r="2.2"/><circle cx="648.5" cy="155.6" r="2.2"/><circle cx="653.2" cy="150" r="2.2"/><circle cx="657.8" cy="155.6" r="2.2"/><circle cx="662.5" cy="158.3" r="2.2"/><circle cx="667.1" cy="161.4" r="2.2"/><circle cx="671.8" cy="167.6" r="2.2"/><circle cx="676.4" cy="173.4" r="2.2"/><circle cx="681.2" cy="175.9" r="2.2"/><circle cx="685.7" cy="177.9" r="2.2"/><circle cx="690.5" cy="182.1" r="2.2"/><circle cx="695" cy="184.1" r="2.2"/><circle cx="699.2" cy="190.7" r="2.2"/></g>
<path d="M422.0 187.9 L424.0 189.0 L426.0 189.9 L428.0 190.7 L430.0 191.4 L432.0 192.0 L433.9 192.5 L435.9 192.8 L437.9 193.1 L439.9 193.3 L441.9 193.4 L443.9 193.4 L445.9 193.4 L447.9 193.2 L449.9 193.0 L451.9 192.7 L453.9 192.3 L455.9 191.7 L457.8 191.0 L459.8 190.1 L461.8 189.0 L463.8 187.8 L465.8 186.5 L467.8 185.0 L469.8 183.5 L471.8 181.9 L473.8 180.2 L475.8 178.5 L477.8 176.8 L479.7 175.1 L481.7 173.4 L483.7 171.8 L485.7 170.2 L487.7 168.7 L489.7 167.2 L491.7 165.8 L493.7 164.4 L495.7 163.1 L497.7 161.9 L499.7 160.8 L501.7 159.8 L503.6 158.9 L505.6 158.1 L507.6 157.4 L509.6 156.8 L511.6 156.3 L513.6 155.9 L515.6 155.7 L517.6 155.6 L519.6 155.6 L521.6 155.8 L523.6 156.0 L525.6 156.4 L527.5 157.0 L529.5 157.6 L531.5 158.3 L533.5 159.2 L535.5 160.1 L537.5 161.2 L539.5 162.3 L541.5 163.4 L543.5 164.6 L545.5 165.7 L547.5 166.9 L549.4 168.0 L551.4 169.1 L553.4 170.1 L555.4 171.1 L557.4 171.9 L559.4 172.5 L561.4 173.1 L563.4 173.6 L565.4 173.9 L567.4 174.1 L569.4 174.2 L571.4 174.2 L573.3 174.1 L575.3 173.9 L577.3 173.5 L579.3 173.1 L581.3 172.6 L583.3 172.0 L585.3 171.3 L587.3 170.6 L589.3 169.8 L591.3 168.9 L593.3 167.9 L595.2 167.0 L597.2 165.9 L599.2 164.9 L601.2 163.8 L603.2 162.7 L605.2 161.7 L607.2 160.6 L609.2 159.5 L611.2 158.5 L613.2 157.4 L615.2 156.5 L617.2 155.5 L619.1 154.6 L621.1 153.8 L623.1 153.1 L625.1 152.4 L627.1 151.9 L629.1 151.4 L631.1 151.0 L633.1 150.7 L635.1 150.6 L637.1 150.6 L639.1 150.7 L641.1 151.0 L643.0 151.4 L645.0 151.8 L647.0 152.4 L649.0 153.1 L651.0 153.8 L653.0 154.6 L655.0 155.5 L657.0 156.4 L659.0 157.5 L661.0 158.6 L663.0 159.8 L664.9 161.0 L666.9 162.4 L668.9 163.8 L670.9 165.4 L672.9 167.0 L674.9 168.6 L676.9 170.4 L678.9 172.1 L680.9 173.9 L682.9 175.6 L684.9 177.4 L686.9 179.1 L688.8 180.8 L690.8 182.4 L692.8 183.9 L694.8 185.4 L696.8 186.7 L698.8 187.9" stroke="#f0f" stroke-width="2.6" fill="none"/></g>
<g clip-path="url(#cb2)"><path d="M421.7 277.8V288.1M426.3 271.6V301.6M430.8 280.9V304.7M435.6 284V304.7M440.1 288.1V306.7M444.9 288.1V314M449.4 289.2V303.6M454.2 284V302.6M458.8 277.8V305.7M463.5 278.8V297.4M468.1 260.2V284M472.8 279.9V291.2M477.4 273.6V286.1M482.1 261.2V270.5M490.8 251.9V266.4M496 255V276.8M500.7 248.8V270.5M504.9 238.5V256.1M509.6 261.2V275.7M514.2 245.7V260.2M518.7 261.2V276.8M523.5 244.7V264.3M528.1 240.5V267.4M542.1 244.7V267.4M546.7 255V268.5M551.4 259.2V272.6M556 266.4V283M560.6 262.3V289.2M565.3 259.2V275.7M569.9 251.9V270.5M574.6 262.3V279.9M579.2 258.1V286.1M583.9 258.1V287.1M588.5 255V284M593.2 251.9V269.5M597.8 253V267.4M602.5 261.2V278.8M611.4 255V268.5M616 242.6V264.3M620.5 244.7V268.5M625.3 240.5V269.5M629.9 240.5V261.2M634.6 243.7V263.3M639.2 249.9V268.5M643.9 260.2V279.9M648.5 254V273.6M652.8 261.2V277.8M657.4 251.9V267.4M661.9 242.6V257.1M666.7 257.1V279.9M671.2 262.3V280.9M676 259.2V279.9M680.5 260.2V284M685.3 264.3V283M690.1 268.5V295.4M694.6 280.9V290.2M699.2 281.9V292.3" stroke="#000" stroke-width="1.7" fill="none"/>
<g fill="#000"><circle cx="421.7" cy="284" r="2.2"/><circle cx="426.3" cy="286.1" r="2.2"/><circle cx="430.8" cy="292.3" r="2.2"/><circle cx="435.6" cy="293.3" r="2.2"/><circle cx="440.1" cy="296.8" r="2.2"/><circle cx="444.9" cy="301" r="2.2"/><circle cx="449.4" cy="296.8" r="2.2"/><circle cx="454.2" cy="292.3" r="2.2"/><circle cx="458.8" cy="291.2" r="2.2"/><circle cx="463.5" cy="288.1" r="2.2"/><circle cx="468.1" cy="272.6" r="2.2"/><circle cx="472.8" cy="284.4" r="2.2"/><circle cx="477.4" cy="279.4" r="2.2"/><circle cx="482.1" cy="266.4" r="2.2"/><circle cx="490.8" cy="259.2" r="2.2"/><circle cx="496" cy="265.8" r="2.2"/><circle cx="500.7" cy="259.2" r="2.2"/><circle cx="504.9" cy="246.8" r="2.2"/><circle cx="509.6" cy="267.9" r="2.2"/><circle cx="514.2" cy="253" r="2.2"/><circle cx="518.7" cy="268.5" r="2.2"/><circle cx="523.5" cy="254.6" r="2.2"/><circle cx="528.1" cy="255" r="2.2"/><circle cx="542.1" cy="255.7" r="2.2"/><circle cx="546.7" cy="261.2" r="2.2"/><circle cx="551.4" cy="265.8" r="2.2"/><circle cx="556" cy="274.1" r="2.2"/><circle cx="560.6" cy="275.3" r="2.2"/><circle cx="565.3" cy="267" r="2.2"/><circle cx="569.9" cy="260.8" r="2.2"/><circle cx="574.6" cy="271.2" r="2.2"/><circle cx="579.2" cy="272" r="2.2"/><circle cx="583.9" cy="272" r="2.2"/><circle cx="588.5" cy="269.1" r="2.2"/><circle cx="593.2" cy="260.8" r="2.2"/><circle cx="597.8" cy="262.3" r="2.2"/><circle cx="602.5" cy="269.5" r="2.2"/><circle cx="607.1" cy="253.4" r="2.2"/><circle cx="611.4" cy="261.9" r="2.2"/><circle cx="616" cy="253.6" r="2.2"/><circle cx="620.5" cy="254.6" r="2.2"/><circle cx="625.3" cy="255" r="2.2"/><circle cx="629.9" cy="250.9" r="2.2"/><circle cx="634.6" cy="253" r="2.2"/><circle cx="639.2" cy="259.6" r="2.2"/><circle cx="643.9" cy="269.1" r="2.2"/><circle cx="648.5" cy="263.3" r="2.2"/><circle cx="652.8" cy="269.1" r="2.2"/><circle cx="657.4" cy="259.6" r="2.2"/><circle cx="661.9" cy="249.9" r="2.2"/><circle cx="666.7" cy="267.9" r="2.2"/><circle cx="671.2" cy="271.6" r="2.2"/><circle cx="676" cy="269.1" r="2.2"/><circle cx="680.5" cy="271.6" r="2.2"/><circle cx="685.3" cy="273.2" r="2.2"/><circle cx="690.1" cy="280.9" r="2.2"/><circle cx="694.6" cy="286.5" r="2.2"/><circle cx="699.2" cy="286.1" r="2.2"/></g>
<path d="M422.0 286.3 L424.0 287.8 L426.0 289.1 L428.0 290.4 L430.0 291.5 L432.0 292.5 L433.9 293.4 L435.9 294.1 L437.9 294.6 L439.9 294.9 L441.9 295.1 L443.9 295.0 L445.9 294.7 L447.9 294.2 L449.9 293.5 L451.9 292.6 L453.9 291.6 L455.9 290.4 L457.8 289.1 L459.8 287.7 L461.8 286.2 L463.8 284.7 L465.8 283.1 L467.8 281.5 L469.8 279.8 L471.8 278.2 L473.8 276.6 L475.8 275.0 L477.8 273.4 L479.7 271.8 L481.7 270.3 L483.7 268.9 L485.7 267.4 L487.7 266.1 L489.7 264.7 L491.7 263.5 L493.7 262.3 L495.7 261.2 L497.7 260.2 L499.7 259.3 L501.7 258.4 L503.6 257.7 L505.6 257.0 L507.6 256.5 L509.6 256.0 L511.6 255.7 L513.6 255.4 L515.6 255.3 L517.6 255.4 L519.6 255.5 L521.6 255.7 L523.6 256.1 L525.6 256.5 L527.5 257.0 L529.5 257.6 L531.5 258.3 L533.5 259.1 L535.5 259.9 L537.5 260.8 L539.5 261.7 L541.5 262.7 L543.5 263.6 L545.5 264.6 L547.5 265.5 L549.4 266.3 L551.4 267.1 L553.4 267.8 L555.4 268.4 L557.4 268.8 L559.4 269.2 L561.4 269.4 L563.4 269.5 L565.4 269.5 L567.4 269.5 L569.4 269.3 L571.4 269.1 L573.3 268.8 L575.3 268.4 L577.3 268.0 L579.3 267.5 L581.3 267.0 L583.3 266.5 L585.3 265.9 L587.3 265.3 L589.3 264.7 L591.3 264.1 L593.3 263.4 L595.2 262.8 L597.2 262.2 L599.2 261.6 L601.2 261.0 L603.2 260.4 L605.2 259.8 L607.2 259.3 L609.2 258.8 L611.2 258.4 L613.2 258.0 L615.2 257.7 L617.2 257.4 L619.1 257.1 L621.1 256.9 L623.1 256.8 L625.1 256.7 L627.1 256.7 L629.1 256.7 L631.1 256.8 L633.1 257.0 L635.1 257.2 L637.1 257.4 L639.1 257.8 L641.1 258.1 L643.0 258.6 L645.0 259.0 L647.0 259.6 L649.0 260.2 L651.0 260.8 L653.0 261.5 L655.0 262.2 L657.0 263.0 L659.0 263.8 L661.0 264.6 L663.0 265.5 L664.9 266.3 L666.9 267.2 L668.9 268.1 L670.9 269.0 L672.9 269.9 L674.9 270.9 L676.9 271.8 L678.9 272.8 L680.9 273.9 L682.9 275.0 L684.9 276.2 L686.9 277.4 L688.8 278.7 L690.8 280.1 L692.8 281.7 L694.8 283.2 L696.8 284.8 L698.8 286.3" stroke="#f0f" stroke-width="2.6" fill="none"/></g>
<g clip-path="url(#cb3)"><path d="M426.3 380.8V394.2M435.6 385.9V413.9M440.1 381.8V398.3M444.9 377.6V420.1M449.4 378.7V392.1M454.2 379.7V412.8M458.8 372.5V419M463.5 392.1V421.1M477.4 381.8V402.5M482.1 365.2V403.5M486.7 362.1V378.7M491 365.2V382.8M496 359V407.6M500.7 374.5V385.9M504.9 369.4V392.1M509.6 358V395.2M514.2 361.1V394.2M518.7 359V385.9M523.5 377.6V382.8M528.1 368.3V394.2M532.8 383.9V401.4M537.4 379.7V401.4M542.1 372.5V409.7M546.7 371.4V389M551.4 382.8V406.6M556 377.6V408.7M560.6 377.6V394.2M565.3 377.6V412.8M569.9 380.8V399.4M574.6 393.2V407.6M579.2 392.1V412.8M588.5 391.1V409.7M593.2 383.9V393.2M597.8 377.6V401.4M602.5 375.6V400.4M607.1 383.9V398.3M616 360.1V384.9M620.5 362.1V381.8M625.3 368.3V395.2M634.6 365.2V390.1M639.2 371.4V390.1M643.9 357V375.6M648.5 367.3V385.9M652.8 350.8V382.8M666.7 382.8V394.2M676 371.4V397.3M690.1 357V379.7M694.6 369.4V387" stroke="#000" stroke-width="1.7" fill="none"/>
<g fill="#000"><circle cx="426.3" cy="387" r="2.2"/><circle cx="435.6" cy="399.4" r="2.2"/><circle cx="440.1" cy="389.6" r="2.2"/><circle cx="444.9" cy="398.7" r="2.2"/><circle cx="449.4" cy="385.5" r="2.2"/><circle cx="454.2" cy="396.3" r="2.2"/><circle cx="458.8" cy="396.3" r="2.2"/><circle cx="463.5" cy="406.2" r="2.2"/><circle cx="477.4" cy="392.1" r="2.2"/><circle cx="482.1" cy="383.9" r="2.2"/><circle cx="486.7" cy="371" r="2.2"/><circle cx="491" cy="374.5" r="2.2"/><circle cx="496" cy="382.8" r="2.2"/><circle cx="500.7" cy="380.1" r="2.2"/><circle cx="504.9" cy="381.8" r="2.2"/><circle cx="509.6" cy="377.6" r="2.2"/><circle cx="514.2" cy="377.6" r="2.2"/><circle cx="518.7" cy="373.1" r="2.2"/><circle cx="523.5" cy="380.8" r="2.2"/><circle cx="528.1" cy="379.7" r="2.2"/><circle cx="532.8" cy="392.1" r="2.2"/><circle cx="537.4" cy="390.1" r="2.2"/><circle cx="542.1" cy="391.1" r="2.2"/><circle cx="546.7" cy="380.1" r="2.2"/><circle cx="551.4" cy="394.6" r="2.2"/><circle cx="556" cy="393.2" r="2.2"/><circle cx="560.6" cy="385.9" r="2.2"/><circle cx="565.3" cy="394.6" r="2.2"/><circle cx="569.9" cy="390.5" r="2.2"/><circle cx="574.6" cy="400.8" r="2.2"/><circle cx="579.2" cy="402.9" r="2.2"/><circle cx="588.5" cy="400.8" r="2.2"/><circle cx="593.2" cy="388.4" r="2.2"/><circle cx="597.8" cy="389" r="2.2"/><circle cx="602.5" cy="388.4" r="2.2"/><circle cx="607.1" cy="390.5" r="2.2"/><circle cx="611.4" cy="362.1" r="2.2"/><circle cx="616" cy="372.5" r="2.2"/><circle cx="620.5" cy="371.4" r="2.2"/><circle cx="625.3" cy="382.2" r="2.2"/><circle cx="629.9" cy="386.3" r="2.2"/><circle cx="634.6" cy="377.2" r="2.2"/><circle cx="639.2" cy="380.8" r="2.2"/><circle cx="643.9" cy="366.3" r="2.2"/><circle cx="648.5" cy="377.2" r="2.2"/><circle cx="652.8" cy="366.9" r="2.2"/><circle cx="666.7" cy="388.4" r="2.2"/><circle cx="676" cy="384.3" r="2.2"/><circle cx="690.1" cy="368.3" r="2.2"/><circle cx="694.6" cy="377.6" r="2.2"/></g>
<path d="M422.0 385.5 L424.0 386.3 L426.0 387.0 L428.0 387.8 L430.0 388.6 L432.0 389.4 L433.9 390.2 L435.9 390.9 L437.9 391.6 L439.9 392.3 L441.9 392.9 L443.9 393.5 L445.9 394.0 L447.9 394.4 L449.9 394.8 L451.9 395.0 L453.9 395.2 L455.9 395.2 L457.8 395.1 L459.8 394.9 L461.8 394.7 L463.8 394.3 L465.8 393.8 L467.8 393.2 L469.8 392.6 L471.8 391.8 L473.8 391.0 L475.8 390.1 L477.8 389.2 L479.7 388.2 L481.7 387.1 L483.7 386.0 L485.7 384.9 L487.7 383.8 L489.7 382.7 L491.7 381.6 L493.7 380.6 L495.7 379.7 L497.7 378.8 L499.7 378.1 L501.7 377.5 L503.6 377.0 L505.6 376.7 L507.6 376.6 L509.6 376.6 L511.6 376.9 L513.6 377.4 L515.6 378.0 L517.6 378.8 L519.6 379.7 L521.6 380.6 L523.6 381.6 L525.6 382.7 L527.5 383.8 L529.5 384.9 L531.5 385.9 L533.5 386.9 L535.5 387.8 L537.5 388.6 L539.5 389.3 L541.5 390.0 L543.5 390.7 L545.5 391.3 L547.5 391.9 L549.4 392.4 L551.4 393.0 L553.4 393.5 L555.4 394.0 L557.4 394.6 L559.4 395.1 L561.4 395.7 L563.4 396.1 L565.4 396.4 L567.4 396.7 L569.4 396.7 L571.4 396.6 L573.3 396.3 L575.3 395.9 L577.3 395.3 L579.3 394.7 L581.3 393.9 L583.3 393.1 L585.3 392.2 L587.3 391.2 L589.3 390.2 L591.3 389.1 L593.3 388.1 L595.2 387.0 L597.2 386.0 L599.2 385.0 L601.2 384.0 L603.2 383.1 L605.2 382.2 L607.2 381.3 L609.2 380.5 L611.2 379.8 L613.2 379.1 L615.2 378.4 L617.2 377.9 L619.1 377.3 L621.1 376.9 L623.1 376.5 L625.1 376.2 L627.1 375.9 L629.1 375.7 L631.1 375.5 L633.1 375.3 L635.1 375.2 L637.1 375.2 L639.1 375.1 L641.1 375.1 L643.0 375.2 L645.0 375.2 L647.0 375.3 L649.0 375.4 L651.0 375.5 L653.0 375.6 L655.0 375.7 L657.0 375.9 L659.0 376.1 L661.0 376.3 L663.0 376.6 L664.9 376.8 L666.9 377.1 L668.9 377.5 L670.9 377.8 L672.9 378.2 L674.9 378.6 L676.9 379.0 L678.9 379.4 L680.9 379.9 L682.9 380.4 L684.9 381.0 L686.9 381.5 L688.8 382.1 L690.8 382.7 L692.8 383.4 L694.8 384.1 L696.8 384.8 L698.8 385.5" stroke="#f0f" stroke-width="2.6" fill="none"/></g>
<g clip-path="url(#cb4)"><path d="M421.7 501.4V509.6M426.3 490V501.4M430.8 500.3V516.9M435.6 494.1V519M440.1 495.2V513.8M444.9 496.2V521M449.4 492.1V522.1M454.2 498.3V508.6M458.8 489V500.3M463.5 483.8V503.4M472.4 492.1V521M477.4 463.1V485.9M486.3 479.6V496.2M491 468.3V484.8M496 473.4V480.7M500.3 473.4V484.8M504.9 466.2V494.1M509.6 467.2V491M514.2 482.8V491M518.7 483.8V496.2M523.5 479.6V498.3M528.1 480.7V499.3M532.8 487.9V501.4M537.4 487.9V501.4M542.1 494.1V514.8M546.7 487.9V509.6M551.4 497.2V521M556 479.6V526.2M560.6 484.8V517.9M565.3 506.5V523.1M569.9 500.3V519M574.6 495.2V523.1M579.2 503.4V526.2M583.9 509.6V525.2M588.5 494.1V511.7M593.2 490V509.6M597.8 504.5V529.3M602.5 492.1V513.8M607.1 489V516.9M611.4 490V521M616 494.1V503.4M620.5 478.6V502.4M625.3 486.9V498.3M629.9 473.4V496.2M634.6 477.6V503.4M639.2 461V492.1M643.9 487.9V503.4M648.5 471.4V482.8M652.8 471.4V486.9M657.4 475.5V485.9M661.9 459V485.9M666.7 471.4V498.3M671.2 470.3V508.6M676 471.4V499.3M680.5 476.5V495.2M685.3 487.9V501.4M689.8 487.9V504.5M694.2 506.5V519M699.2 483.8V498.3" stroke="#000" stroke-width="1.7" fill="none"/>
<g fill="#000"><circle cx="421.7" cy="505.5" r="2.2"/><circle cx="426.3" cy="495.8" r="2.2"/><circle cx="430.8" cy="508.6" r="2.2"/><circle cx="435.6" cy="506.5" r="2.2"/><circle cx="440.1" cy="504.1" r="2.2"/><circle cx="444.9" cy="508.2" r="2.2"/><circle cx="449.4" cy="507" r="2.2"/><circle cx="454.2" cy="503.4" r="2.2"/><circle cx="458.8" cy="494.5" r="2.2"/><circle cx="463.5" cy="493.1" r="2.2"/><circle cx="472.4" cy="506.5" r="2.2"/><circle cx="477.4" cy="475.1" r="2.2"/><circle cx="486.3" cy="487.5" r="2.2"/><circle cx="491" cy="476.5" r="2.2"/><circle cx="496" cy="476.5" r="2.2"/><circle cx="500.3" cy="479.6" r="2.2"/><circle cx="504.9" cy="480.7" r="2.2"/><circle cx="509.6" cy="478.6" r="2.2"/><circle cx="514.2" cy="486.3" r="2.2"/><circle cx="518.7" cy="489" r="2.2"/><circle cx="523.5" cy="490" r="2.2"/><circle cx="528.1" cy="490" r="2.2"/><circle cx="532.8" cy="493.1" r="2.2"/><circle cx="537.4" cy="494.1" r="2.2"/><circle cx="542.1" cy="504.1" r="2.2"/><circle cx="546.7" cy="499.3" r="2.2"/><circle cx="551.4" cy="509" r="2.2"/><circle cx="556" cy="503.4" r="2.2"/><circle cx="560.6" cy="502" r="2.2"/><circle cx="565.3" cy="515.2" r="2.2"/><circle cx="569.9" cy="508.6" r="2.2"/><circle cx="574.6" cy="509.6" r="2.2"/><circle cx="579.2" cy="514.8" r="2.2"/><circle cx="583.9" cy="517.3" r="2.2"/><circle cx="588.5" cy="502.4" r="2.2"/><circle cx="593.2" cy="499.9" r="2.2"/><circle cx="597.8" cy="513.8" r="2.2"/><circle cx="602.5" cy="502.8" r="2.2"/><circle cx="607.1" cy="503.4" r="2.2"/><circle cx="611.4" cy="506.1" r="2.2"/><circle cx="616" cy="500.3" r="2.2"/><circle cx="620.5" cy="491.6" r="2.2"/><circle cx="625.3" cy="493.1" r="2.2"/><circle cx="629.9" cy="484.2" r="2.2"/><circle cx="634.6" cy="490.4" r="2.2"/><circle cx="639.2" cy="478" r="2.2"/><circle cx="643.9" cy="495.8" r="2.2"/><circle cx="648.5" cy="477.2" r="2.2"/><circle cx="652.8" cy="479.6" r="2.2"/><circle cx="657.4" cy="481.7" r="2.2"/><circle cx="661.9" cy="473" r="2.2"/><circle cx="666.7" cy="485.4" r="2.2"/><circle cx="671.2" cy="489" r="2.2"/><circle cx="676" cy="485.9" r="2.2"/><circle cx="680.5" cy="485.4" r="2.2"/><circle cx="685.3" cy="494.5" r="2.2"/><circle cx="689.8" cy="497.2" r="2.2"/><circle cx="694.2" cy="511.7" r="2.2"/><circle cx="699.2" cy="491" r="2.2"/></g>
<path d="M422.0 502.4 L424.0 503.7 L426.0 504.8 L428.0 505.7 L430.0 506.3 L432.0 506.7 L433.9 506.9 L435.9 506.8 L437.9 506.6 L439.9 506.2 L441.9 505.7 L443.9 505.0 L445.9 504.1 L447.9 503.2 L449.9 502.1 L451.9 501.0 L453.9 499.8 L455.9 498.5 L457.8 497.2 L459.8 495.9 L461.8 494.6 L463.8 493.3 L465.8 492.0 L467.8 490.7 L469.8 489.5 L471.8 488.3 L473.8 487.1 L475.8 486.0 L477.8 485.0 L479.7 484.0 L481.7 483.1 L483.7 482.2 L485.7 481.5 L487.7 480.9 L489.7 480.3 L491.7 479.9 L493.7 479.7 L495.7 479.5 L497.7 479.5 L499.7 479.7 L501.7 480.0 L503.6 480.5 L505.6 481.1 L507.6 481.7 L509.6 482.5 L511.6 483.3 L513.6 484.2 L515.6 485.2 L517.6 486.1 L519.6 487.0 L521.6 488.0 L523.6 488.9 L525.6 489.8 L527.5 490.7 L529.5 491.6 L531.5 492.5 L533.5 493.4 L535.5 494.5 L537.5 495.5 L539.5 496.7 L541.5 497.9 L543.5 499.2 L545.5 500.6 L547.5 502.1 L549.4 503.5 L551.4 504.9 L553.4 506.1 L555.4 507.3 L557.4 508.3 L559.4 509.1 L561.4 509.7 L563.4 510.2 L565.4 510.5 L567.4 510.8 L569.4 510.9 L571.4 510.9 L573.3 510.9 L575.3 510.8 L577.3 510.6 L579.3 510.5 L581.3 510.2 L583.3 510.0 L585.3 509.6 L587.3 509.3 L589.3 508.8 L591.3 508.4 L593.3 507.8 L595.2 507.2 L597.2 506.6 L599.2 505.8 L601.2 505.0 L603.2 504.2 L605.2 503.2 L607.2 502.3 L609.2 501.3 L611.2 500.2 L613.2 499.1 L615.2 497.9 L617.2 496.8 L619.1 495.6 L621.1 494.3 L623.1 493.1 L625.1 491.9 L627.1 490.6 L629.1 489.4 L631.1 488.3 L633.1 487.1 L635.1 486.0 L637.1 485.0 L639.1 484.0 L641.1 483.2 L643.0 482.4 L645.0 481.7 L647.0 481.1 L649.0 480.7 L651.0 480.4 L653.0 480.3 L655.0 480.3 L657.0 480.5 L659.0 480.9 L661.0 481.3 L663.0 481.9 L664.9 482.5 L666.9 483.2 L668.9 483.9 L670.9 484.6 L672.9 485.4 L674.9 486.1 L676.9 487.0 L678.9 487.9 L680.9 488.8 L682.9 489.9 L684.9 491.1 L686.9 492.4 L688.8 493.9 L690.8 495.5 L692.8 497.2 L694.8 499.1 L696.8 500.8 L698.8 502.4" stroke="#f0f" stroke-width="2.6" fill="none"/></g>
<g stroke="#000" stroke-width="1.7" fill="none">
<path d="M56.4 377.4V403.1" stroke-width="1.5"/>
<path d="M67.1 18.7v4M67.1 122.6v-4"/>
<path d="M84.5 18.7v4M84.5 122.6v-4"/>
<path d="M102 18.7v4M102 122.6v-4"/>
<path d="M119.4 18.7v4M119.4 122.6v-4"/>
<path d="M136.8 18.7v8M136.8 122.6v-8"/>
<path d="M154.2 18.7v4M154.2 122.6v-4"/>
<path d="M171.7 18.7v4M171.7 122.6v-4"/>
<path d="M189.1 18.7v4M189.1 122.6v-4"/>
<path d="M206.5 18.7v4M206.5 122.6v-4"/>
<path d="M223.9 18.7v8M223.9 122.6v-8"/>
<path d="M241.3 18.7v4M241.3 122.6v-4"/>
<path d="M258.8 18.7v4M258.8 122.6v-4"/>
<path d="M276.2 18.7v4M276.2 122.6v-4"/>
<path d="M293.6 18.7v4M293.6 122.6v-4"/>
<path d="M311 18.7v8M311 122.6v-8"/>
<path d="M328.5 18.7v4M328.5 122.6v-4"/>
<path d="M345.9 18.7v4M345.9 122.6v-4"/>
<path d="M49.7 112.1h7M363.3 112.1h-7"/>
<path d="M49.7 88.7h7M363.3 88.7h-7"/>
<path d="M49.7 65.3h7M363.3 65.3h-7"/>
<path d="M49.7 42h7M363.3 42h-7"/>
<path d="M49.7 18.6h7M363.3 18.6h-7"/>
<rect x="49.7" y="18.7" width="313.6" height="103.9" fill="none"/>
<path d="M437.4 18.7v4M437.4 122.6v-4"/>
<path d="M452.8 18.7v4M452.8 122.6v-4"/>
<path d="M468.1 18.7v4M468.1 122.6v-4"/>
<path d="M483.5 18.7v4M483.5 122.6v-4"/>
<path d="M498.9 18.7v8M498.9 122.6v-8"/>
<path d="M514.3 18.7v4M514.3 122.6v-4"/>
<path d="M529.6 18.7v4M529.6 122.6v-4"/>
<path d="M545 18.7v4M545 122.6v-4"/>
<path d="M560.4 18.7v4M560.4 122.6v-4"/>
<path d="M575.8 18.7v8M575.8 122.6v-8"/>
<path d="M591.2 18.7v4M591.2 122.6v-4"/>
<path d="M606.5 18.7v4M606.5 122.6v-4"/>
<path d="M621.9 18.7v4M621.9 122.6v-4"/>
<path d="M637.3 18.7v4M637.3 122.6v-4"/>
<path d="M652.7 18.7v8M652.7 122.6v-8"/>
<path d="M668 18.7v4M668 122.6v-4"/>
<path d="M683.4 18.7v4M683.4 122.6v-4"/>
<path d="M422 103.5h7M698.8 103.5h-7"/>
<path d="M422 70.6h7M698.8 70.6h-7"/>
<path d="M422 37.7h7M698.8 37.7h-7"/>
<rect x="422" y="18.7" width="276.8" height="103.9" fill="none"/>
<path d="M67.1 122.6v4M67.1 226.6v-4"/>
<path d="M84.5 122.6v4M84.5 226.6v-4"/>
<path d="M102 122.6v4M102 226.6v-4"/>
<path d="M119.4 122.6v4M119.4 226.6v-4"/>
<path d="M136.8 122.6v8M136.8 226.6v-8"/>
<path d="M154.2 122.6v4M154.2 226.6v-4"/>
<path d="M171.7 122.6v4M171.7 226.6v-4"/>
<path d="M189.1 122.6v4M189.1 226.6v-4"/>
<path d="M206.5 122.6v4M206.5 226.6v-4"/>
<path d="M223.9 122.6v8M223.9 226.6v-8"/>
<path d="M241.3 122.6v4M241.3 226.6v-4"/>
<path d="M258.8 122.6v4M258.8 226.6v-4"/>
<path d="M276.2 122.6v4M276.2 226.6v-4"/>
<path d="M293.6 122.6v4M293.6 226.6v-4"/>
<path d="M311 122.6v8M311 226.6v-8"/>
<path d="M328.5 122.6v4M328.5 226.6v-4"/>
<path d="M345.9 122.6v4M345.9 226.6v-4"/>
<path d="M49.7 226.1h7M363.3 226.1h-7"/>
<path d="M49.7 202.7h7M363.3 202.7h-7"/>
<path d="M49.7 179.2h7M363.3 179.2h-7"/>
<path d="M49.7 155.8h7M363.3 155.8h-7"/>
<path d="M49.7 132.3h7M363.3 132.3h-7"/>
<rect x="49.7" y="122.6" width="313.6" height="104" fill="none"/>
<path d="M437.4 122.6v4M437.4 226.6v-4"/>
<path d="M452.8 122.6v4M452.8 226.6v-4"/>
<path d="M468.1 122.6v4M468.1 226.6v-4"/>
<path d="M483.5 122.6v4M483.5 226.6v-4"/>
<path d="M498.9 122.6v8M498.9 226.6v-8"/>
<path d="M514.3 122.6v4M514.3 226.6v-4"/>
<path d="M529.6 122.6v4M529.6 226.6v-4"/>
<path d="M545 122.6v4M545 226.6v-4"/>
<path d="M560.4 122.6v4M560.4 226.6v-4"/>
<path d="M575.8 122.6v8M575.8 226.6v-8"/>
<path d="M591.2 122.6v4M591.2 226.6v-4"/>
<path d="M606.5 122.6v4M606.5 226.6v-4"/>
<path d="M621.9 122.6v4M621.9 226.6v-4"/>
<path d="M637.3 122.6v4M637.3 226.6v-4"/>
<path d="M652.7 122.6v8M652.7 226.6v-8"/>
<path d="M668 122.6v4M668 226.6v-4"/>
<path d="M683.4 122.6v4M683.4 226.6v-4"/>
<path d="M422 210.5h7M698.8 210.5h-7"/>
<path d="M422 184.7h7M698.8 184.7h-7"/>
<path d="M422 158.9h7M698.8 158.9h-7"/>
<path d="M422 133.1h7M698.8 133.1h-7"/>
<rect x="422" y="122.6" width="276.8" height="104" fill="none"/>
<path d="M67.1 226.6v4M67.1 330.6v-4"/>
<path d="M84.5 226.6v4M84.5 330.6v-4"/>
<path d="M102 226.6v4M102 330.6v-4"/>
<path d="M119.4 226.6v4M119.4 330.6v-4"/>
<path d="M136.8 226.6v8M136.8 330.6v-8"/>
<path d="M154.2 226.6v4M154.2 330.6v-4"/>
<path d="M171.7 226.6v4M171.7 330.6v-4"/>
<path d="M189.1 226.6v4M189.1 330.6v-4"/>
<path d="M206.5 226.6v4M206.5 330.6v-4"/>
<path d="M223.9 226.6v8M223.9 330.6v-8"/>
<path d="M241.3 226.6v4M241.3 330.6v-4"/>
<path d="M258.8 226.6v4M258.8 330.6v-4"/>
<path d="M276.2 226.6v4M276.2 330.6v-4"/>
<path d="M293.6 226.6v4M293.6 330.6v-4"/>
<path d="M311 226.6v8M311 330.6v-8"/>
<path d="M328.5 226.6v4M328.5 330.6v-4"/>
<path d="M345.9 226.6v4M345.9 330.6v-4"/>
<path d="M49.7 330.8h7M363.3 330.8h-7"/>
<path d="M49.7 303.2h7M363.3 303.2h-7"/>
<path d="M49.7 275.6h7M363.3 275.6h-7"/>
<path d="M49.7 248.1h7M363.3 248.1h-7"/>
<rect x="49.7" y="226.6" width="313.6" height="104" fill="none"/>
<path d="M437.4 226.6v4M437.4 330.6v-4"/>
<path d="M452.8 226.6v4M452.8 330.6v-4"/>
<path d="M468.1 226.6v4M468.1 330.6v-4"/>
<path d="M483.5 226.6v4M483.5 330.6v-4"/>
<path d="M498.9 226.6v8M498.9 330.6v-8"/>
<path d="M514.3 226.6v4M514.3 330.6v-4"/>
<path d="M529.6 226.6v4M529.6 330.6v-4"/>
<path d="M545 226.6v4M545 330.6v-4"/>
<path d="M560.4 226.6v4M560.4 330.6v-4"/>
<path d="M575.8 226.6v8M575.8 330.6v-8"/>
<path d="M591.2 226.6v4M591.2 330.6v-4"/>
<path d="M606.5 226.6v4M606.5 330.6v-4"/>
<path d="M621.9 226.6v4M621.9 330.6v-4"/>
<path d="M637.3 226.6v4M637.3 330.6v-4"/>
<path d="M652.7 226.6v8M652.7 330.6v-8"/>
<path d="M668 226.6v4M668 330.6v-4"/>
<path d="M683.4 226.6v4M683.4 330.6v-4"/>
<path d="M422 318.6h7M698.8 318.6h-7"/>
<path d="M422 288h7M698.8 288h-7"/>
<path d="M422 257.4h7M698.8 257.4h-7"/>
<path d="M422 226.8h7M698.8 226.8h-7"/>
<rect x="422" y="226.6" width="276.8" height="104" fill="none"/>
<path d="M67.1 330.6v4M67.1 434.4v-4"/>
<path d="M84.5 330.6v4M84.5 434.4v-4"/>
<path d="M102 330.6v4M102 434.4v-4"/>
<path d="M119.4 330.6v4M119.4 434.4v-4"/>
<path d="M136.8 330.6v8M136.8 434.4v-8"/>
<path d="M154.2 330.6v4M154.2 434.4v-4"/>
<path d="M171.7 330.6v4M171.7 434.4v-4"/>
<path d="M189.1 330.6v4M189.1 434.4v-4"/>
<path d="M206.5 330.6v4M206.5 434.4v-4"/>
<path d="M223.9 330.6v8M223.9 434.4v-8"/>
<path d="M241.3 330.6v4M241.3 434.4v-4"/>
<path d="M258.8 330.6v4M258.8 434.4v-4"/>
<path d="M276.2 330.6v4M276.2 434.4v-4"/>
<path d="M293.6 330.6v4M293.6 434.4v-4"/>
<path d="M311 330.6v8M311 434.4v-8"/>
<path d="M328.5 330.6v4M328.5 434.4v-4"/>
<path d="M345.9 330.6v4M345.9 434.4v-4"/>
<path d="M49.7 429.4h7M363.3 429.4h-7"/>
<path d="M49.7 403.4h7M363.3 403.4h-7"/>
<path d="M49.7 377.3h7M363.3 377.3h-7"/>
<path d="M49.7 351.3h7M363.3 351.3h-7"/>
<rect x="49.7" y="330.6" width="313.6" height="103.8" fill="none"/>
<path d="M437.4 330.6v4M437.4 434.4v-4"/>
<path d="M452.8 330.6v4M452.8 434.4v-4"/>
<path d="M468.1 330.6v4M468.1 434.4v-4"/>
<path d="M483.5 330.6v4M483.5 434.4v-4"/>
<path d="M498.9 330.6v8M498.9 434.4v-8"/>
<path d="M514.3 330.6v4M514.3 434.4v-4"/>
<path d="M529.6 330.6v4M529.6 434.4v-4"/>
<path d="M545 330.6v4M545 434.4v-4"/>
<path d="M560.4 330.6v4M560.4 434.4v-4"/>
<path d="M575.8 330.6v8M575.8 434.4v-8"/>
<path d="M591.2 330.6v4M591.2 434.4v-4"/>
<path d="M606.5 330.6v4M606.5 434.4v-4"/>
<path d="M621.9 330.6v4M621.9 434.4v-4"/>
<path d="M637.3 330.6v4M637.3 434.4v-4"/>
<path d="M652.7 330.6v8M652.7 434.4v-8"/>
<path d="M668 330.6v4M668 434.4v-4"/>
<path d="M683.4 330.6v4M683.4 434.4v-4"/>
<path d="M422 433.9h7M698.8 433.9h-7"/>
<path d="M422 405.1h7M698.8 405.1h-7"/>
<path d="M422 376.4h7M698.8 376.4h-7"/>
<path d="M422 347.6h7M698.8 347.6h-7"/>
<rect x="422" y="330.6" width="276.8" height="103.8" fill="none"/>
<path d="M67.1 434.4v4M67.1 538.3v-4"/>
<path d="M84.5 434.4v4M84.5 538.3v-4"/>
<path d="M102 434.4v4M102 538.3v-4"/>
<path d="M119.4 434.4v4M119.4 538.3v-4"/>
<path d="M136.8 434.4v8M136.8 538.3v-8"/>
<path d="M154.2 434.4v4M154.2 538.3v-4"/>
<path d="M171.7 434.4v4M171.7 538.3v-4"/>
<path d="M189.1 434.4v4M189.1 538.3v-4"/>
<path d="M206.5 434.4v4M206.5 538.3v-4"/>
<path d="M223.9 434.4v8M223.9 538.3v-8"/>
<path d="M241.3 434.4v4M241.3 538.3v-4"/>
<path d="M258.8 434.4v4M258.8 538.3v-4"/>
<path d="M276.2 434.4v4M276.2 538.3v-4"/>
<path d="M293.6 434.4v4M293.6 538.3v-4"/>
<path d="M311 434.4v8M311 538.3v-8"/>
<path d="M328.5 434.4v4M328.5 538.3v-4"/>
<path d="M345.9 434.4v4M345.9 538.3v-4"/>
<path d="M49.7 527.7h7M363.3 527.7h-7"/>
<path d="M49.7 501.8h7M363.3 501.8h-7"/>
<path d="M49.7 476h7M363.3 476h-7"/>
<path d="M49.7 450.1h7M363.3 450.1h-7"/>
<rect x="49.7" y="434.4" width="313.6" height="103.9" fill="none"/>
<path d="M437.4 434.4v4M437.4 538.3v-4"/>
<path d="M452.8 434.4v4M452.8 538.3v-4"/>
<path d="M468.1 434.4v4M468.1 538.3v-4"/>
<path d="M483.5 434.4v4M483.5 538.3v-4"/>
<path d="M498.9 434.4v8M498.9 538.3v-8"/>
<path d="M514.3 434.4v4M514.3 538.3v-4"/>
<path d="M529.6 434.4v4M529.6 538.3v-4"/>
<path d="M545 434.4v4M545 538.3v-4"/>
<path d="M560.4 434.4v4M560.4 538.3v-4"/>
<path d="M575.8 434.4v8M575.8 538.3v-8"/>
<path d="M591.2 434.4v4M591.2 538.3v-4"/>
<path d="M606.5 434.4v4M606.5 538.3v-4"/>
<path d="M621.9 434.4v4M621.9 538.3v-4"/>
<path d="M637.3 434.4v4M637.3 538.3v-4"/>
<path d="M652.7 434.4v8M652.7 538.3v-8"/>
<path d="M668 434.4v4M668 538.3v-4"/>
<path d="M683.4 434.4v4M683.4 538.3v-4"/>
<path d="M422 537.6h7M698.8 537.6h-7"/>
<path d="M422 509h7M698.8 509h-7"/>
<path d="M422 480.3h7M698.8 480.3h-7"/>
<path d="M422 451.7h7M698.8 451.7h-7"/>
<rect x="422" y="434.4" width="276.8" height="103.9" fill="none"/>
</g>
<g font-family="Liberation Sans" font-size="17" text-anchor="end" fill="#000" stroke="#000" stroke-width="0.3">
<text transform="translate(39.4 24.4) scale(0.93 1)">5</text>
<text transform="translate(39.4 47.8) scale(0.93 1)">4.5</text>
<text transform="translate(39.4 71.1) scale(0.93 1)">4</text>
<text transform="translate(39.4 94.5) scale(0.93 1)">3.5</text>
<text transform="translate(39.4 117.9) scale(0.93 1)">3</text>
<text transform="translate(411.7 43.5) scale(0.93 1)">4.5</text>
<text transform="translate(411.7 76.4) scale(0.93 1)">4</text>
<text transform="translate(411.7 109.3) scale(0.93 1)">3.5</text>
<text transform="translate(39.4 138.1) scale(0.93 1)">5</text>
<text transform="translate(39.4 161.6) scale(0.93 1)">4.5</text>
<text transform="translate(39.4 185) scale(0.93 1)">4</text>
<text transform="translate(39.4 208.5) scale(0.93 1)">3.5</text>
<text transform="translate(39.4 231.9) scale(0.93 1)">3</text>
<text transform="translate(411.7 138.9) scale(0.93 1)">5</text>
<text transform="translate(411.7 164.7) scale(0.93 1)">4.5</text>
<text transform="translate(411.7 190.5) scale(0.93 1)">4</text>
<text transform="translate(411.7 216.3) scale(0.93 1)">3.5</text>
<text transform="translate(39.4 253.9) scale(0.93 1)">4.5</text>
<text transform="translate(39.4 281.4) scale(0.93 1)">4</text>
<text transform="translate(39.4 309) scale(0.93 1)">3.5</text>
<text transform="translate(39.4 336.6) scale(0.93 1)">3</text>
<text transform="translate(411.7 232.6) scale(0.93 1)">5</text>
<text transform="translate(411.7 263.2) scale(0.93 1)">4.5</text>
<text transform="translate(411.7 293.8) scale(0.93 1)">4</text>
<text transform="translate(411.7 324.4) scale(0.93 1)">3.5</text>
<text transform="translate(39.4 357.1) scale(0.93 1)">4.5</text>
<text transform="translate(39.4 383.1) scale(0.93 1)">4</text>
<text transform="translate(39.4 409.2) scale(0.93 1)">3.5</text>
<text transform="translate(39.4 435.2) scale(0.93 1)">3</text>
<text transform="translate(411.7 353.4) scale(0.93 1)">4.5</text>
<text transform="translate(411.7 382.2) scale(0.93 1)">4</text>
<text transform="translate(411.7 410.9) scale(0.93 1)">3.5</text>
<text transform="translate(411.7 439.7) scale(0.93 1)">3</text>
<text transform="translate(39.4 455.9) scale(0.93 1)">4.5</text>
<text transform="translate(39.4 481.8) scale(0.93 1)">4</text>
<text transform="translate(39.4 507.6) scale(0.93 1)">3.5</text>
<text transform="translate(39.4 533.5) scale(0.93 1)">3</text>
<text transform="translate(411.7 457.5) scale(0.93 1)">4.5</text>
<text transform="translate(411.7 486.1) scale(0.93 1)">4</text>
<text transform="translate(411.7 514.8) scale(0.93 1)">3.5</text>
<text transform="translate(411.7 543.4) scale(0.93 1)">3</text>
</g>
<g font-family="Liberation Sans" font-size="17.6" text-anchor="middle" fill="#000" stroke="#000" stroke-width="0.3">
<text transform="translate(49.7 560.2) scale(0.93 1)">0</text>
<text transform="translate(223.9 560.2) scale(0.93 1)">200</text>
<text transform="translate(311 560.2) scale(0.93 1)">300</text>
<path d="M124.9 549.5L128.0 547.2V559.1" fill="none" stroke="#000" stroke-width="1.6"/>
<text transform="translate(131.8 560.2) scale(0.93 1)" text-anchor="start">00</text>
<text transform="translate(422 560.2) scale(0.93 1)">0</text>
<text transform="translate(575.8 560.2) scale(0.93 1)">200</text>
<text transform="translate(652.7 560.2) scale(0.93 1)">300</text>
<path d="M487.0 549.5L490.1 547.2V559.1" fill="none" stroke="#000" stroke-width="1.6"/>
<text transform="translate(493.9 560.2) scale(0.93 1)" text-anchor="start">00</text>
</g>
<g font-family="Liberation Sans" fill="#000" stroke="#000" stroke-width="0.2">
<text transform="translate(577.93 113.20) scale(0.813 1.017)" font-size="16">D</text>
<text transform="translate(587.41 119.30) scale(0.680 0.827)" font-size="16">E</text>
<rect x="595.3" y="106.20" width="9.7" height="1.5"/>
<rect x="595.3" y="109.30" width="9.7" height="1.5"/>
<rect x="607.1" y="107.95" width="10.0" height="1.5"/>
<text transform="translate(618.09 113.04) scale(1.002 1.015)" font-size="16">3</text>
<rect x="628.6" y="111.6" width="1.7" height="1.7"/>
<text transform="translate(630.73 113.04) scale(1.117 1.015)" font-size="16">8</text>
<circle cx="643.9" cy="104.6" r="2.05" fill="none" stroke="#000" stroke-width="1.45"/>
<path d="M647.1 113.7H656M652.9 113.7V121.0" fill="none" stroke="#000" stroke-width="1.5"/>
<rect x="657.4" y="107.95" width="9.6" height="1.5"/>
<text transform="translate(668.29 113.04) scale(1.002 1.015)" font-size="16">3</text>
<rect x="678.8" y="111.6" width="1.7" height="1.7"/>
<text transform="translate(680.85 113.04) scale(1.136 1.015)" font-size="16">9</text>
<circle cx="695.0" cy="104.6" r="2.05" fill="none" stroke="#000" stroke-width="1.45"/>
<text transform="translate(577.93 217.20) scale(0.813 1.017)" font-size="16">D</text>
<text transform="translate(587.41 223.30) scale(0.680 0.827)" font-size="16">E</text>
<rect x="595.3" y="210.20" width="9.7" height="1.5"/>
<rect x="595.3" y="213.30" width="9.7" height="1.5"/>
<rect x="607.1" y="211.95" width="10.0" height="1.5"/>
<text transform="translate(618.09 217.04) scale(1.002 1.015)" font-size="16">3</text>
<rect x="628.6" y="215.6" width="1.7" height="1.7"/>
<text transform="translate(630.57 217.04) scale(1.139 1.015)" font-size="16">6</text>
<circle cx="643.9" cy="208.6" r="2.05" fill="none" stroke="#000" stroke-width="1.45"/>
<path d="M647.1 217.7H656M652.9 217.7V225.0" fill="none" stroke="#000" stroke-width="1.5"/>
<rect x="657.4" y="211.95" width="9.6" height="1.5"/>
<text transform="translate(668.29 217.04) scale(1.002 1.015)" font-size="16">3</text>
<rect x="678.8" y="215.6" width="1.7" height="1.7"/>
<text transform="translate(680.76 217.20) scale(1.154 1.045)" font-size="16">7</text>
<circle cx="695.0" cy="208.6" r="2.05" fill="none" stroke="#000" stroke-width="1.45"/>
<text transform="translate(577.93 321.20) scale(0.813 1.017)" font-size="16">D</text>
<text transform="translate(587.41 327.30) scale(0.680 0.827)" font-size="16">E</text>
<rect x="595.3" y="314.20" width="9.7" height="1.5"/>
<rect x="595.3" y="317.30" width="9.7" height="1.5"/>
<rect x="607.1" y="315.95" width="10.0" height="1.5"/>
<text transform="translate(618.09 321.04) scale(1.002 1.015)" font-size="16">3</text>
<rect x="628.6" y="319.6" width="1.7" height="1.7"/>
<path d="M633.7 312.2L637.2 309.8V321.3" fill="none" stroke="#000" stroke-width="1.6"/>
<circle cx="643.9" cy="312.6" r="2.05" fill="none" stroke="#000" stroke-width="1.45"/>
<path d="M647.1 321.7H656M652.9 321.7V329.0" fill="none" stroke="#000" stroke-width="1.5"/>
<rect x="657.4" y="315.95" width="9.6" height="1.5"/>
<text transform="translate(668.29 321.04) scale(1.002 1.015)" font-size="16">3</text>
<rect x="678.8" y="319.6" width="1.7" height="1.7"/>
<text transform="translate(680.99 321.04) scale(1.108 1.030)" font-size="16">5</text>
<circle cx="695.0" cy="312.6" r="2.05" fill="none" stroke="#000" stroke-width="1.45"/>
<text transform="translate(577.93 425.00) scale(0.813 1.017)" font-size="16">D</text>
<text transform="translate(587.41 431.10) scale(0.680 0.827)" font-size="16">E</text>
<rect x="595.3" y="418.00" width="9.7" height="1.5"/>
<rect x="595.3" y="421.10" width="9.7" height="1.5"/>
<rect x="607.1" y="419.75" width="10.0" height="1.5"/>
<path d="M620.0 416.0L623.5 413.6V425.1" fill="none" stroke="#000" stroke-width="1.6"/>
<rect x="628.6" y="423.4" width="1.7" height="1.7"/>
<text transform="translate(630.65 424.84) scale(1.136 1.015)" font-size="16">9</text>
<circle cx="643.9" cy="416.4" r="2.05" fill="none" stroke="#000" stroke-width="1.45"/>
<path d="M647.1 425.5H656M652.9 425.5V432.8" fill="none" stroke="#000" stroke-width="1.5"/>
<rect x="657.4" y="419.75" width="9.6" height="1.5"/>
<path d="M670.2 416.0L673.7 413.6V425.1" fill="none" stroke="#000" stroke-width="1.6"/>
<rect x="678.8" y="423.4" width="1.7" height="1.7"/>
<text transform="translate(680.93 424.84) scale(1.117 1.015)" font-size="16">8</text>
<circle cx="695.0" cy="416.4" r="2.05" fill="none" stroke="#000" stroke-width="1.45"/>
<text transform="translate(598.63 528.90) scale(0.813 1.017)" font-size="16">D</text>
<text transform="translate(608.11 535.00) scale(0.680 0.827)" font-size="16">E</text>
<rect x="616.0" y="521.90" width="9.7" height="1.5"/>
<rect x="616.0" y="525.00" width="9.7" height="1.5"/>
<rect x="627.8" y="523.65" width="10.0" height="1.5"/>
<text transform="translate(638.13 528.74) scale(0.915 1.015)" font-size="16">0</text>
<rect x="648.8" y="527.3" width="2.2" height="1.7"/>
<path d="M653.7 519.9L657.8 517.5V529.0" fill="none" stroke="#000" stroke-width="1.6"/>
<path d="M662.3 519.9L666.4 517.5V529.0" fill="none" stroke="#000" stroke-width="1.6"/>
<circle cx="673.6" cy="521.2" r="2.05" fill="none" stroke="#000" stroke-width="1.45"/>
</g>
<g fill="#f0f" stroke="#f0f" stroke-width="0.2" font-family="Liberation Sans">
<text transform="translate(156.53 35.80) scale(0.959 1.016)" font-size="16">2</text>
<text transform="translate(165.59 35.64) scale(0.981 1.002)" font-size="16">0</text>
<path d="M177.6 27.0L179.9 24.6V35.9" fill="none" stroke="#f0f" stroke-width="1.6"/>
<text transform="translate(183.51 35.64) scale(0.997 1.002)" font-size="16">8</text>
<rect x="194.05" y="27.00" width="2" height="1.9"/><rect x="194.05" y="34.00" width="2" height="1.9"/>
<text transform="translate(204.96 35.64) scale(1.002 1.016)" font-size="16">5</text>
<text transform="translate(213.46 35.64) scale(0.988 1.002)" font-size="16">9</text>
<text transform="translate(230.45 35.66) scale(1.050 1.085)" font-size="16">t</text>
<text transform="translate(236.08 35.66) scale(0.927 0.867)" font-size="16">o</text>
<text transform="translate(251.82 35.64) scale(0.906 1.002)" font-size="16">9</text>
<text transform="translate(262.07 35.64) scale(0.895 1.002)" font-size="16">6</text>
</g>
<g fill="#000" stroke="#000" stroke-width="0.2" font-family="Liberation Sans">
<text transform="translate(511.23 35.80) scale(0.959 1.016)" font-size="16">2</text>
<text transform="translate(520.29 35.64) scale(0.981 1.002)" font-size="16">0</text>
<path d="M532.3 27.0L534.6 24.6V35.9" fill="none" stroke="#000" stroke-width="1.6"/>
<text transform="translate(538.21 35.64) scale(0.997 1.002)" font-size="16">8</text>
<rect x="548.75" y="27.00" width="2" height="1.9"/><rect x="548.75" y="34.00" width="2" height="1.9"/>
<text transform="translate(559.66 35.64) scale(1.002 1.016)" font-size="16">5</text>
<text transform="translate(568.16 35.64) scale(0.988 1.002)" font-size="16">9</text>
<text transform="translate(585.15 35.66) scale(1.050 1.085)" font-size="16">t</text>
<text transform="translate(590.78 35.66) scale(0.927 0.867)" font-size="16">o</text>
<text transform="translate(606.52 35.64) scale(0.906 1.002)" font-size="16">9</text>
<text transform="translate(616.77 35.64) scale(0.895 1.002)" font-size="16">6</text>
</g>
<g fill="#f0f" stroke="#f0f" stroke-width="0.2" font-family="Liberation Sans">
<text transform="translate(161.18 139.70) scale(1.028 1.016)" font-size="16">2</text>
<text transform="translate(171.22 139.54) scale(0.928 1.002)" font-size="16">0</text>
<path d="M182.7 130.8L185.0 128.4V139.8" fill="none" stroke="#f0f" stroke-width="1.6"/>
<text transform="translate(188.76 139.54) scale(0.931 1.002)" font-size="16">8</text>
<rect x="199.15" y="130.90" width="2" height="1.9"/><rect x="199.15" y="137.90" width="2" height="1.9"/>
<text transform="translate(210.11 139.54) scale(0.997 1.002)" font-size="16">8</text>
<text transform="translate(226.88 139.56) scale(0.928 1.085)" font-size="16">t</text>
<text transform="translate(231.57 139.56) scale(0.940 0.867)" font-size="16">o</text>
<text transform="translate(248.36 139.54) scale(0.883 1.002)" font-size="16">3</text>
<text transform="translate(255.84 139.54) scale(1.015 1.002)" font-size="16">9</text>
</g>
<g fill="#000" stroke="#000" stroke-width="0.2" font-family="Liberation Sans">
<text transform="translate(515.18 139.70) scale(1.028 1.016)" font-size="16">2</text>
<text transform="translate(525.22 139.54) scale(0.928 1.002)" font-size="16">0</text>
<path d="M536.7 130.8L539.0 128.4V139.8" fill="none" stroke="#000" stroke-width="1.6"/>
<text transform="translate(542.76 139.54) scale(0.931 1.002)" font-size="16">8</text>
<rect x="553.15" y="130.90" width="2" height="1.9"/><rect x="553.15" y="137.90" width="2" height="1.9"/>
<text transform="translate(564.11 139.54) scale(0.997 1.002)" font-size="16">8</text>
<text transform="translate(580.88 139.56) scale(0.928 1.085)" font-size="16">t</text>
<text transform="translate(585.57 139.56) scale(0.940 0.867)" font-size="16">o</text>
<text transform="translate(602.36 139.54) scale(0.883 1.002)" font-size="16">3</text>
<text transform="translate(609.84 139.54) scale(1.015 1.002)" font-size="16">9</text>
</g>
<g fill="#f0f" stroke="#f0f" stroke-width="0.2" font-family="Liberation Sans">
<text transform="translate(161.18 243.70) scale(1.028 1.016)" font-size="16">2</text>
<text transform="translate(171.22 243.54) scale(0.928 1.002)" font-size="16">0</text>
<path d="M183.1 234.8L185.0 232.4V243.8" fill="none" stroke="#f0f" stroke-width="1.6"/>
<text transform="translate(187.56 243.70) scale(1.154 1.031)" font-size="16">7</text>
<rect x="199.15" y="234.90" width="2" height="1.9"/><rect x="199.15" y="241.90" width="2" height="1.9"/>
<text transform="translate(210.20 243.54) scale(0.989 1.002)" font-size="16">3</text>
<text transform="translate(226.89 243.56) scale(0.879 1.085)" font-size="16">t</text>
<text transform="translate(232.00 243.56) scale(0.887 0.867)" font-size="16">o</text>
<text transform="translate(248.07 243.54) scale(1.017 1.002)" font-size="16">6</text>
<text transform="translate(256.78 243.54) scale(0.960 1.002)" font-size="16">9</text>
</g>
<g fill="#000" stroke="#000" stroke-width="0.2" font-family="Liberation Sans">
<text transform="translate(515.18 243.70) scale(1.028 1.016)" font-size="16">2</text>
<text transform="translate(525.22 243.54) scale(0.928 1.002)" font-size="16">0</text>
<path d="M537.1 234.8L539.0 232.4V243.8" fill="none" stroke="#000" stroke-width="1.6"/>
<text transform="translate(541.56 243.70) scale(1.154 1.031)" font-size="16">7</text>
<rect x="553.15" y="234.90" width="2" height="1.9"/><rect x="553.15" y="241.90" width="2" height="1.9"/>
<text transform="translate(564.20 243.54) scale(0.989 1.002)" font-size="16">3</text>
<text transform="translate(580.89 243.56) scale(0.879 1.085)" font-size="16">t</text>
<text transform="translate(586.00 243.56) scale(0.887 0.867)" font-size="16">o</text>
<text transform="translate(602.07 243.54) scale(1.017 1.002)" font-size="16">6</text>
<text transform="translate(610.78 243.54) scale(0.960 1.002)" font-size="16">9</text>
</g>
<g fill="#f0f" stroke="#f0f" stroke-width="0.2" font-family="Liberation Sans">
<text transform="translate(147.34 347.70) scale(1.069 1.016)" font-size="16">2</text>
<text transform="translate(157.60 347.54) scale(0.954 1.002)" font-size="16">0</text>
<path d="M169.4 338.9L171.8 336.4V347.8" fill="none" stroke="#f0f" stroke-width="1.6"/>
<text transform="translate(174.34 347.54) scale(1.057 1.002)" font-size="16">6</text>
<rect x="185.60" y="338.90" width="2" height="1.9"/><rect x="185.60" y="345.90" width="2" height="1.9"/>
<path d="M197.8 338.9L201.3 336.4V347.8" fill="none" stroke="#f0f" stroke-width="1.6"/>
<path d="M207.8 338.9L211.3 336.4V347.8" fill="none" stroke="#f0f" stroke-width="1.6"/>
<text transform="translate(214.34 347.70) scale(1.069 1.016)" font-size="16">2</text>
<text transform="translate(231.48 347.56) scale(0.928 1.085)" font-size="16">t</text>
<text transform="translate(236.59 347.56) scale(0.900 0.867)" font-size="16">o</text>
<path d="M255.4 338.9L257.8 336.4V347.8" fill="none" stroke="#f0f" stroke-width="1.6"/>
<text transform="translate(261.84 347.70) scale(0.967 1.031)" font-size="16">4</text>
<text transform="translate(271.34 347.54) scale(1.057 1.002)" font-size="16">6</text>
</g>
<g fill="#000" stroke="#000" stroke-width="0.2" font-family="Liberation Sans">
<text transform="translate(501.24 347.70) scale(1.069 1.016)" font-size="16">2</text>
<text transform="translate(511.50 347.54) scale(0.954 1.002)" font-size="16">0</text>
<path d="M523.3 338.9L525.7 336.4V347.8" fill="none" stroke="#000" stroke-width="1.6"/>
<text transform="translate(528.24 347.54) scale(1.057 1.002)" font-size="16">6</text>
<rect x="539.50" y="338.90" width="2" height="1.9"/><rect x="539.50" y="345.90" width="2" height="1.9"/>
<path d="M551.7 338.9L555.2 336.4V347.8" fill="none" stroke="#000" stroke-width="1.6"/>
<path d="M561.7 338.9L565.2 336.4V347.8" fill="none" stroke="#000" stroke-width="1.6"/>
<text transform="translate(568.24 347.70) scale(1.069 1.016)" font-size="16">2</text>
<text transform="translate(585.38 347.56) scale(0.928 1.085)" font-size="16">t</text>
<text transform="translate(590.49 347.56) scale(0.900 0.867)" font-size="16">o</text>
<path d="M609.3 338.9L611.7 336.4V347.8" fill="none" stroke="#000" stroke-width="1.6"/>
<text transform="translate(615.74 347.70) scale(0.967 1.031)" font-size="16">4</text>
<text transform="translate(625.24 347.54) scale(1.057 1.002)" font-size="16">6</text>
</g>
<g fill="#f0f" stroke="#f0f" stroke-width="0.2" font-family="Liberation Sans">
<text transform="translate(180.24 451.50) scale(1.069 1.016)" font-size="16">2</text>
<text transform="translate(190.70 451.34) scale(0.954 1.002)" font-size="16">0</text>
<path d="M202.7 442.6L204.8 440.2V451.6" fill="none" stroke="#f0f" stroke-width="1.6"/>
<text transform="translate(207.74 451.34) scale(1.028 1.016)" font-size="16">5</text>
<rect x="218.55" y="442.70" width="2" height="1.9"/><rect x="218.55" y="449.70" width="2" height="1.9"/>
<text transform="translate(229.44 451.34) scale(1.057 1.002)" font-size="16">6</text>
<text transform="translate(238.78 451.34) scale(0.963 1.016)" font-size="16">5</text>
</g>
<g fill="#000" stroke="#000" stroke-width="0.2" font-family="Liberation Sans">
<text transform="translate(534.04 451.50) scale(1.069 1.016)" font-size="16">2</text>
<text transform="translate(544.50 451.34) scale(0.954 1.002)" font-size="16">0</text>
<path d="M556.5 442.6L558.6 440.2V451.6" fill="none" stroke="#000" stroke-width="1.6"/>
<text transform="translate(561.54 451.34) scale(1.028 1.016)" font-size="16">5</text>
<rect x="572.35" y="442.70" width="2" height="1.9"/><rect x="572.35" y="449.70" width="2" height="1.9"/>
<text transform="translate(583.24 451.34) scale(1.057 1.002)" font-size="16">6</text>
<text transform="translate(592.58 451.34) scale(0.963 1.016)" font-size="16">5</text>
</g>
<g font-family="Liberation Sans" fill="#000">
<g stroke="#000" stroke-width="0.3">
<text transform="translate(135.08 580.0) scale(0.954 1)" font-size="16.3">System</text>
<text transform="translate(191.36 580.0) scale(1.095 1)" font-size="16.3">III</text>
<text transform="translate(212.52 580.0) scale(0.985 1)" font-size="16.3">longitude</text>
<text transform="translate(489.08 580.0) scale(0.954 1)" font-size="16.3">System</text>
<text transform="translate(545.36 580.0) scale(1.095 1)" font-size="16.3">III</text>
<text transform="translate(566.52 580.0) scale(0.985 1)" font-size="16.3">longitude</text>
<text transform="translate(13.7 418.18) rotate(-90) scale(1.125 1)" font-size="16">Non−Thermal</text>
<text transform="translate(13.7 304.95) rotate(-90) scale(1.027 1)" font-size="16">Flux</text>
<text transform="translate(13.7 267.21) rotate(-90) scale(1.217 1)" font-size="16">(Jy</text>
<text transform="translate(13.7 232.43) rotate(-90) scale(1.091 1)" font-size="16">at</text>
<text transform="translate(13.7 208.71) rotate(-90) scale(1.109 1)" font-size="16">4.04</text>
<text transform="translate(13.7 165.83) rotate(-90) scale(0.954 1)" font-size="16">AU)</text>
</g>
<g fill="none" stroke="#000" stroke-width="1.55"><ellipse cx="7.2" cy="9.3" rx="3.8" ry="4.6"/><path d="M11.2 4.1V14.6M17.5 -0.3Q24.7 9.35 15.1 19.6M393.5 -0.3Q401.9 8.3 391.1 19.7"/></g>
<text x="378" y="15" font-size="21">b</text>
</g>
</svg></body></html>
